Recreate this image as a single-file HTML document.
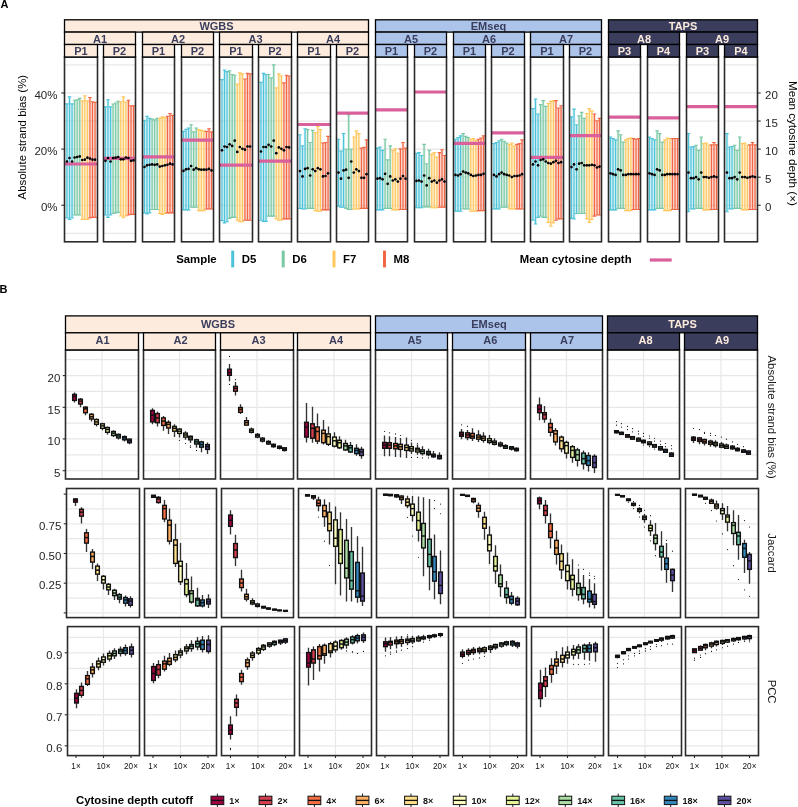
<!DOCTYPE html>
<html><head><meta charset="utf-8"><title>Strand bias figure</title>
<style>html,body{margin:0;padding:0;background:#fff;} svg{display:block;} text{font-family:"Liberation Sans",Arial,sans-serif;}</style>
</head><body>
<svg width="798" height="807" viewBox="0 0 798 807">
<rect width="798" height="807" fill="#fff"/>
<text x="0.6" y="7.7" font-size="11" font-weight="bold" fill="#000">A</text>
<rect x="64.5" y="57" width="33" height="184.8" fill="#fff"/>
<line x1="64.5" x2="97.5" y1="64.9" y2="64.9" stroke="#E8E8E8" stroke-width="1.25"/>
<line x1="64.5" x2="97.5" y1="92.97" y2="92.97" stroke="#E8E8E8" stroke-width="1.25"/>
<line x1="64.5" x2="97.5" y1="121.04" y2="121.04" stroke="#E8E8E8" stroke-width="1.25"/>
<line x1="64.5" x2="97.5" y1="149.1" y2="149.1" stroke="#E8E8E8" stroke-width="1.25"/>
<line x1="64.5" x2="97.5" y1="177.2" y2="177.2" stroke="#E8E8E8" stroke-width="1.25"/>
<line x1="64.5" x2="97.5" y1="205.25" y2="205.25" stroke="#E8E8E8" stroke-width="1.25"/>
<line x1="64.5" x2="97.5" y1="233.3" y2="233.3" stroke="#E8E8E8" stroke-width="1.25"/>
<rect x="103.5" y="57" width="32" height="184.8" fill="#fff"/>
<line x1="103.5" x2="135.5" y1="64.9" y2="64.9" stroke="#E8E8E8" stroke-width="1.25"/>
<line x1="103.5" x2="135.5" y1="92.97" y2="92.97" stroke="#E8E8E8" stroke-width="1.25"/>
<line x1="103.5" x2="135.5" y1="121.04" y2="121.04" stroke="#E8E8E8" stroke-width="1.25"/>
<line x1="103.5" x2="135.5" y1="149.1" y2="149.1" stroke="#E8E8E8" stroke-width="1.25"/>
<line x1="103.5" x2="135.5" y1="177.2" y2="177.2" stroke="#E8E8E8" stroke-width="1.25"/>
<line x1="103.5" x2="135.5" y1="205.25" y2="205.25" stroke="#E8E8E8" stroke-width="1.25"/>
<line x1="103.5" x2="135.5" y1="233.3" y2="233.3" stroke="#E8E8E8" stroke-width="1.25"/>
<rect x="142.5" y="57" width="32" height="184.8" fill="#fff"/>
<line x1="142.5" x2="174.5" y1="64.9" y2="64.9" stroke="#E8E8E8" stroke-width="1.25"/>
<line x1="142.5" x2="174.5" y1="92.97" y2="92.97" stroke="#E8E8E8" stroke-width="1.25"/>
<line x1="142.5" x2="174.5" y1="121.04" y2="121.04" stroke="#E8E8E8" stroke-width="1.25"/>
<line x1="142.5" x2="174.5" y1="149.1" y2="149.1" stroke="#E8E8E8" stroke-width="1.25"/>
<line x1="142.5" x2="174.5" y1="177.2" y2="177.2" stroke="#E8E8E8" stroke-width="1.25"/>
<line x1="142.5" x2="174.5" y1="205.25" y2="205.25" stroke="#E8E8E8" stroke-width="1.25"/>
<line x1="142.5" x2="174.5" y1="233.3" y2="233.3" stroke="#E8E8E8" stroke-width="1.25"/>
<rect x="181.5" y="57" width="32" height="184.8" fill="#fff"/>
<line x1="181.5" x2="213.5" y1="64.9" y2="64.9" stroke="#E8E8E8" stroke-width="1.25"/>
<line x1="181.5" x2="213.5" y1="92.97" y2="92.97" stroke="#E8E8E8" stroke-width="1.25"/>
<line x1="181.5" x2="213.5" y1="121.04" y2="121.04" stroke="#E8E8E8" stroke-width="1.25"/>
<line x1="181.5" x2="213.5" y1="149.1" y2="149.1" stroke="#E8E8E8" stroke-width="1.25"/>
<line x1="181.5" x2="213.5" y1="177.2" y2="177.2" stroke="#E8E8E8" stroke-width="1.25"/>
<line x1="181.5" x2="213.5" y1="205.25" y2="205.25" stroke="#E8E8E8" stroke-width="1.25"/>
<line x1="181.5" x2="213.5" y1="233.3" y2="233.3" stroke="#E8E8E8" stroke-width="1.25"/>
<rect x="219.5" y="57" width="33" height="184.8" fill="#fff"/>
<line x1="219.5" x2="252.5" y1="64.9" y2="64.9" stroke="#E8E8E8" stroke-width="1.25"/>
<line x1="219.5" x2="252.5" y1="92.97" y2="92.97" stroke="#E8E8E8" stroke-width="1.25"/>
<line x1="219.5" x2="252.5" y1="121.04" y2="121.04" stroke="#E8E8E8" stroke-width="1.25"/>
<line x1="219.5" x2="252.5" y1="149.1" y2="149.1" stroke="#E8E8E8" stroke-width="1.25"/>
<line x1="219.5" x2="252.5" y1="177.2" y2="177.2" stroke="#E8E8E8" stroke-width="1.25"/>
<line x1="219.5" x2="252.5" y1="205.25" y2="205.25" stroke="#E8E8E8" stroke-width="1.25"/>
<line x1="219.5" x2="252.5" y1="233.3" y2="233.3" stroke="#E8E8E8" stroke-width="1.25"/>
<rect x="258.5" y="57" width="33" height="184.8" fill="#fff"/>
<line x1="258.5" x2="291.5" y1="64.9" y2="64.9" stroke="#E8E8E8" stroke-width="1.25"/>
<line x1="258.5" x2="291.5" y1="92.97" y2="92.97" stroke="#E8E8E8" stroke-width="1.25"/>
<line x1="258.5" x2="291.5" y1="121.04" y2="121.04" stroke="#E8E8E8" stroke-width="1.25"/>
<line x1="258.5" x2="291.5" y1="149.1" y2="149.1" stroke="#E8E8E8" stroke-width="1.25"/>
<line x1="258.5" x2="291.5" y1="177.2" y2="177.2" stroke="#E8E8E8" stroke-width="1.25"/>
<line x1="258.5" x2="291.5" y1="205.25" y2="205.25" stroke="#E8E8E8" stroke-width="1.25"/>
<line x1="258.5" x2="291.5" y1="233.3" y2="233.3" stroke="#E8E8E8" stroke-width="1.25"/>
<rect x="297.5" y="57" width="33" height="184.8" fill="#fff"/>
<line x1="297.5" x2="330.5" y1="64.9" y2="64.9" stroke="#E8E8E8" stroke-width="1.25"/>
<line x1="297.5" x2="330.5" y1="92.97" y2="92.97" stroke="#E8E8E8" stroke-width="1.25"/>
<line x1="297.5" x2="330.5" y1="121.04" y2="121.04" stroke="#E8E8E8" stroke-width="1.25"/>
<line x1="297.5" x2="330.5" y1="149.1" y2="149.1" stroke="#E8E8E8" stroke-width="1.25"/>
<line x1="297.5" x2="330.5" y1="177.2" y2="177.2" stroke="#E8E8E8" stroke-width="1.25"/>
<line x1="297.5" x2="330.5" y1="205.25" y2="205.25" stroke="#E8E8E8" stroke-width="1.25"/>
<line x1="297.5" x2="330.5" y1="233.3" y2="233.3" stroke="#E8E8E8" stroke-width="1.25"/>
<rect x="336.5" y="57" width="32" height="184.8" fill="#fff"/>
<line x1="336.5" x2="368.5" y1="64.9" y2="64.9" stroke="#E8E8E8" stroke-width="1.25"/>
<line x1="336.5" x2="368.5" y1="92.97" y2="92.97" stroke="#E8E8E8" stroke-width="1.25"/>
<line x1="336.5" x2="368.5" y1="121.04" y2="121.04" stroke="#E8E8E8" stroke-width="1.25"/>
<line x1="336.5" x2="368.5" y1="149.1" y2="149.1" stroke="#E8E8E8" stroke-width="1.25"/>
<line x1="336.5" x2="368.5" y1="177.2" y2="177.2" stroke="#E8E8E8" stroke-width="1.25"/>
<line x1="336.5" x2="368.5" y1="205.25" y2="205.25" stroke="#E8E8E8" stroke-width="1.25"/>
<line x1="336.5" x2="368.5" y1="233.3" y2="233.3" stroke="#E8E8E8" stroke-width="1.25"/>
<rect x="375.5" y="57" width="32" height="184.8" fill="#fff"/>
<line x1="375.5" x2="407.5" y1="64.9" y2="64.9" stroke="#E8E8E8" stroke-width="1.25"/>
<line x1="375.5" x2="407.5" y1="92.97" y2="92.97" stroke="#E8E8E8" stroke-width="1.25"/>
<line x1="375.5" x2="407.5" y1="121.04" y2="121.04" stroke="#E8E8E8" stroke-width="1.25"/>
<line x1="375.5" x2="407.5" y1="149.1" y2="149.1" stroke="#E8E8E8" stroke-width="1.25"/>
<line x1="375.5" x2="407.5" y1="177.2" y2="177.2" stroke="#E8E8E8" stroke-width="1.25"/>
<line x1="375.5" x2="407.5" y1="205.25" y2="205.25" stroke="#E8E8E8" stroke-width="1.25"/>
<line x1="375.5" x2="407.5" y1="233.3" y2="233.3" stroke="#E8E8E8" stroke-width="1.25"/>
<rect x="414.5" y="57" width="32" height="184.8" fill="#fff"/>
<line x1="414.5" x2="446.5" y1="64.9" y2="64.9" stroke="#E8E8E8" stroke-width="1.25"/>
<line x1="414.5" x2="446.5" y1="92.97" y2="92.97" stroke="#E8E8E8" stroke-width="1.25"/>
<line x1="414.5" x2="446.5" y1="121.04" y2="121.04" stroke="#E8E8E8" stroke-width="1.25"/>
<line x1="414.5" x2="446.5" y1="149.1" y2="149.1" stroke="#E8E8E8" stroke-width="1.25"/>
<line x1="414.5" x2="446.5" y1="177.2" y2="177.2" stroke="#E8E8E8" stroke-width="1.25"/>
<line x1="414.5" x2="446.5" y1="205.25" y2="205.25" stroke="#E8E8E8" stroke-width="1.25"/>
<line x1="414.5" x2="446.5" y1="233.3" y2="233.3" stroke="#E8E8E8" stroke-width="1.25"/>
<rect x="453.5" y="57" width="32" height="184.8" fill="#fff"/>
<line x1="453.5" x2="485.5" y1="64.9" y2="64.9" stroke="#E8E8E8" stroke-width="1.25"/>
<line x1="453.5" x2="485.5" y1="92.97" y2="92.97" stroke="#E8E8E8" stroke-width="1.25"/>
<line x1="453.5" x2="485.5" y1="121.04" y2="121.04" stroke="#E8E8E8" stroke-width="1.25"/>
<line x1="453.5" x2="485.5" y1="149.1" y2="149.1" stroke="#E8E8E8" stroke-width="1.25"/>
<line x1="453.5" x2="485.5" y1="177.2" y2="177.2" stroke="#E8E8E8" stroke-width="1.25"/>
<line x1="453.5" x2="485.5" y1="205.25" y2="205.25" stroke="#E8E8E8" stroke-width="1.25"/>
<line x1="453.5" x2="485.5" y1="233.3" y2="233.3" stroke="#E8E8E8" stroke-width="1.25"/>
<rect x="491.5" y="57" width="33" height="184.8" fill="#fff"/>
<line x1="491.5" x2="524.5" y1="64.9" y2="64.9" stroke="#E8E8E8" stroke-width="1.25"/>
<line x1="491.5" x2="524.5" y1="92.97" y2="92.97" stroke="#E8E8E8" stroke-width="1.25"/>
<line x1="491.5" x2="524.5" y1="121.04" y2="121.04" stroke="#E8E8E8" stroke-width="1.25"/>
<line x1="491.5" x2="524.5" y1="149.1" y2="149.1" stroke="#E8E8E8" stroke-width="1.25"/>
<line x1="491.5" x2="524.5" y1="177.2" y2="177.2" stroke="#E8E8E8" stroke-width="1.25"/>
<line x1="491.5" x2="524.5" y1="205.25" y2="205.25" stroke="#E8E8E8" stroke-width="1.25"/>
<line x1="491.5" x2="524.5" y1="233.3" y2="233.3" stroke="#E8E8E8" stroke-width="1.25"/>
<rect x="530.5" y="57" width="33" height="184.8" fill="#fff"/>
<line x1="530.5" x2="563.5" y1="64.9" y2="64.9" stroke="#E8E8E8" stroke-width="1.25"/>
<line x1="530.5" x2="563.5" y1="92.97" y2="92.97" stroke="#E8E8E8" stroke-width="1.25"/>
<line x1="530.5" x2="563.5" y1="121.04" y2="121.04" stroke="#E8E8E8" stroke-width="1.25"/>
<line x1="530.5" x2="563.5" y1="149.1" y2="149.1" stroke="#E8E8E8" stroke-width="1.25"/>
<line x1="530.5" x2="563.5" y1="177.2" y2="177.2" stroke="#E8E8E8" stroke-width="1.25"/>
<line x1="530.5" x2="563.5" y1="205.25" y2="205.25" stroke="#E8E8E8" stroke-width="1.25"/>
<line x1="530.5" x2="563.5" y1="233.3" y2="233.3" stroke="#E8E8E8" stroke-width="1.25"/>
<rect x="569.5" y="57" width="32" height="184.8" fill="#fff"/>
<line x1="569.5" x2="601.5" y1="64.9" y2="64.9" stroke="#E8E8E8" stroke-width="1.25"/>
<line x1="569.5" x2="601.5" y1="92.97" y2="92.97" stroke="#E8E8E8" stroke-width="1.25"/>
<line x1="569.5" x2="601.5" y1="121.04" y2="121.04" stroke="#E8E8E8" stroke-width="1.25"/>
<line x1="569.5" x2="601.5" y1="149.1" y2="149.1" stroke="#E8E8E8" stroke-width="1.25"/>
<line x1="569.5" x2="601.5" y1="177.2" y2="177.2" stroke="#E8E8E8" stroke-width="1.25"/>
<line x1="569.5" x2="601.5" y1="205.25" y2="205.25" stroke="#E8E8E8" stroke-width="1.25"/>
<line x1="569.5" x2="601.5" y1="233.3" y2="233.3" stroke="#E8E8E8" stroke-width="1.25"/>
<rect x="608.5" y="57" width="32" height="184.8" fill="#fff"/>
<line x1="608.5" x2="640.5" y1="64.9" y2="64.9" stroke="#E8E8E8" stroke-width="1.25"/>
<line x1="608.5" x2="640.5" y1="92.97" y2="92.97" stroke="#E8E8E8" stroke-width="1.25"/>
<line x1="608.5" x2="640.5" y1="121.04" y2="121.04" stroke="#E8E8E8" stroke-width="1.25"/>
<line x1="608.5" x2="640.5" y1="149.1" y2="149.1" stroke="#E8E8E8" stroke-width="1.25"/>
<line x1="608.5" x2="640.5" y1="177.2" y2="177.2" stroke="#E8E8E8" stroke-width="1.25"/>
<line x1="608.5" x2="640.5" y1="205.25" y2="205.25" stroke="#E8E8E8" stroke-width="1.25"/>
<line x1="608.5" x2="640.5" y1="233.3" y2="233.3" stroke="#E8E8E8" stroke-width="1.25"/>
<rect x="647.5" y="57" width="32" height="184.8" fill="#fff"/>
<line x1="647.5" x2="679.5" y1="64.9" y2="64.9" stroke="#E8E8E8" stroke-width="1.25"/>
<line x1="647.5" x2="679.5" y1="92.97" y2="92.97" stroke="#E8E8E8" stroke-width="1.25"/>
<line x1="647.5" x2="679.5" y1="121.04" y2="121.04" stroke="#E8E8E8" stroke-width="1.25"/>
<line x1="647.5" x2="679.5" y1="149.1" y2="149.1" stroke="#E8E8E8" stroke-width="1.25"/>
<line x1="647.5" x2="679.5" y1="177.2" y2="177.2" stroke="#E8E8E8" stroke-width="1.25"/>
<line x1="647.5" x2="679.5" y1="205.25" y2="205.25" stroke="#E8E8E8" stroke-width="1.25"/>
<line x1="647.5" x2="679.5" y1="233.3" y2="233.3" stroke="#E8E8E8" stroke-width="1.25"/>
<rect x="686.5" y="57" width="32" height="184.8" fill="#fff"/>
<line x1="686.5" x2="718.5" y1="64.9" y2="64.9" stroke="#E8E8E8" stroke-width="1.25"/>
<line x1="686.5" x2="718.5" y1="92.97" y2="92.97" stroke="#E8E8E8" stroke-width="1.25"/>
<line x1="686.5" x2="718.5" y1="121.04" y2="121.04" stroke="#E8E8E8" stroke-width="1.25"/>
<line x1="686.5" x2="718.5" y1="149.1" y2="149.1" stroke="#E8E8E8" stroke-width="1.25"/>
<line x1="686.5" x2="718.5" y1="177.2" y2="177.2" stroke="#E8E8E8" stroke-width="1.25"/>
<line x1="686.5" x2="718.5" y1="205.25" y2="205.25" stroke="#E8E8E8" stroke-width="1.25"/>
<line x1="686.5" x2="718.5" y1="233.3" y2="233.3" stroke="#E8E8E8" stroke-width="1.25"/>
<rect x="724.5" y="57" width="33" height="184.8" fill="#fff"/>
<line x1="724.5" x2="757.5" y1="64.9" y2="64.9" stroke="#E8E8E8" stroke-width="1.25"/>
<line x1="724.5" x2="757.5" y1="92.97" y2="92.97" stroke="#E8E8E8" stroke-width="1.25"/>
<line x1="724.5" x2="757.5" y1="121.04" y2="121.04" stroke="#E8E8E8" stroke-width="1.25"/>
<line x1="724.5" x2="757.5" y1="149.1" y2="149.1" stroke="#E8E8E8" stroke-width="1.25"/>
<line x1="724.5" x2="757.5" y1="177.2" y2="177.2" stroke="#E8E8E8" stroke-width="1.25"/>
<line x1="724.5" x2="757.5" y1="205.25" y2="205.25" stroke="#E8E8E8" stroke-width="1.25"/>
<line x1="724.5" x2="757.5" y1="233.3" y2="233.3" stroke="#E8E8E8" stroke-width="1.25"/>
<rect x="65.7" y="103.9" width="2.5" height="114.1" fill="#4CC3D9" fill-opacity="0.3"/>
<rect x="68.25" y="96.8" width="2.5" height="122.7" fill="#4CC3D9" fill-opacity="0.3"/>
<rect x="70.81" y="103.9" width="2.5" height="114.1" fill="#4CC3D9" fill-opacity="0.3"/>
<rect x="73.36" y="100.2" width="2.5" height="114.8" fill="#7BC8A4" fill-opacity="0.3"/>
<rect x="75.92" y="99.7" width="2.5" height="115.3" fill="#7BC8A4" fill-opacity="0.3"/>
<rect x="78.47" y="98.4" width="2.5" height="116.6" fill="#7BC8A4" fill-opacity="0.3"/>
<rect x="81.03" y="100.8" width="2.5" height="118.7" fill="#FFC65D" fill-opacity="0.3"/>
<rect x="83.58" y="95.7" width="2.5" height="123.8" fill="#FFC65D" fill-opacity="0.3"/>
<rect x="86.14" y="100.8" width="2.5" height="118.7" fill="#FFC65D" fill-opacity="0.3"/>
<rect x="88.69" y="97.5" width="2.5" height="120.5" fill="#F16745" fill-opacity="0.3"/>
<rect x="91.25" y="101.7" width="2.5" height="115.6" fill="#F16745" fill-opacity="0.3"/>
<rect x="93.8" y="102.4" width="2.5" height="114.9" fill="#F16745" fill-opacity="0.3"/>
<path d="M66.95 103.9V218M65.15 103.9H68.75M65.15 218H68.75" stroke="#4CC3D9" stroke-width="1.15" fill="none"/>
<path d="M69.5 96.8V219.5M67.7 96.8H71.3M67.7 219.5H71.3" stroke="#4CC3D9" stroke-width="1.15" fill="none"/>
<path d="M72.06 103.9V218M70.26 103.9H73.86M70.26 218H73.86" stroke="#4CC3D9" stroke-width="1.15" fill="none"/>
<path d="M74.61 100.2V215M72.81 100.2H76.41M72.81 215H76.41" stroke="#7BC8A4" stroke-width="1.15" fill="none"/>
<path d="M77.17 99.7V215M75.37 99.7H78.97M75.37 215H78.97" stroke="#7BC8A4" stroke-width="1.15" fill="none"/>
<path d="M79.72 98.4V215M77.92 98.4H81.52M77.92 215H81.52" stroke="#7BC8A4" stroke-width="1.15" fill="none"/>
<path d="M82.28 100.8V219.5M80.48 100.8H84.08M80.48 219.5H84.08" stroke="#FFC65D" stroke-width="1.15" fill="none"/>
<path d="M84.83 95.7V219.5M83.03 95.7H86.63M83.03 219.5H86.63" stroke="#FFC65D" stroke-width="1.15" fill="none"/>
<path d="M87.39 100.8V219.5M85.59 100.8H89.19M85.59 219.5H89.19" stroke="#FFC65D" stroke-width="1.15" fill="none"/>
<path d="M89.94 97.5V218M88.14 97.5H91.74M88.14 218H91.74" stroke="#F16745" stroke-width="1.15" fill="none"/>
<path d="M92.5 101.7V217.3M90.7 101.7H94.3M90.7 217.3H94.3" stroke="#F16745" stroke-width="1.15" fill="none"/>
<path d="M95.05 102.4V217.3M93.25 102.4H96.85M93.25 217.3H96.85" stroke="#F16745" stroke-width="1.15" fill="none"/>
<line x1="64.5" x2="97.5" y1="164" y2="164" stroke="#D9609B" stroke-width="3.2"/>
<circle cx="66.95" cy="161.5" r="1.35" fill="#000"/>
<circle cx="69.5" cy="158" r="1.35" fill="#000"/>
<circle cx="72.06" cy="161.5" r="1.35" fill="#000"/>
<circle cx="74.61" cy="157.5" r="1.35" fill="#000"/>
<circle cx="77.17" cy="157" r="1.35" fill="#000"/>
<circle cx="79.72" cy="156.4" r="1.35" fill="#000"/>
<circle cx="82.28" cy="160" r="1.35" fill="#000"/>
<circle cx="84.83" cy="159.7" r="1.35" fill="#000"/>
<circle cx="87.39" cy="157.7" r="1.35" fill="#000"/>
<circle cx="89.94" cy="158.6" r="1.35" fill="#000"/>
<circle cx="92.5" cy="159.7" r="1.35" fill="#000"/>
<circle cx="95.05" cy="159.7" r="1.35" fill="#000"/>
<rect x="64.5" y="57" width="33" height="184.8" fill="none" stroke="#2B2B2B" stroke-width="1.6"/>
<rect x="104.2" y="106.8" width="2.5" height="108.2" fill="#4CC3D9" fill-opacity="0.3"/>
<rect x="106.75" y="99.7" width="2.5" height="117.6" fill="#4CC3D9" fill-opacity="0.3"/>
<rect x="109.31" y="106.8" width="2.5" height="108.2" fill="#4CC3D9" fill-opacity="0.3"/>
<rect x="111.86" y="104" width="2.5" height="109.5" fill="#7BC8A4" fill-opacity="0.3"/>
<rect x="114.42" y="103" width="2.5" height="109.8" fill="#7BC8A4" fill-opacity="0.3"/>
<rect x="116.97" y="101.3" width="2.5" height="111.1" fill="#7BC8A4" fill-opacity="0.3"/>
<rect x="119.53" y="101.7" width="2.5" height="114.3" fill="#FFC65D" fill-opacity="0.3"/>
<rect x="122.08" y="96.8" width="2.5" height="120.9" fill="#FFC65D" fill-opacity="0.3"/>
<rect x="124.64" y="102" width="2.5" height="114" fill="#FFC65D" fill-opacity="0.3"/>
<rect x="127.19" y="100.2" width="2.5" height="114.8" fill="#F16745" fill-opacity="0.3"/>
<rect x="129.75" y="105.7" width="2.5" height="108.7" fill="#F16745" fill-opacity="0.3"/>
<rect x="132.3" y="105.7" width="2.5" height="108.7" fill="#F16745" fill-opacity="0.3"/>
<path d="M105.45 106.8V215M103.65 106.8H107.25M103.65 215H107.25" stroke="#4CC3D9" stroke-width="1.15" fill="none"/>
<path d="M108 99.7V217.3M106.2 99.7H109.8M106.2 217.3H109.8" stroke="#4CC3D9" stroke-width="1.15" fill="none"/>
<path d="M110.56 106.8V215M108.76 106.8H112.36M108.76 215H112.36" stroke="#4CC3D9" stroke-width="1.15" fill="none"/>
<path d="M113.11 104V213.5M111.31 104H114.91M111.31 213.5H114.91" stroke="#7BC8A4" stroke-width="1.15" fill="none"/>
<path d="M115.67 103V212.8M113.87 103H117.47M113.87 212.8H117.47" stroke="#7BC8A4" stroke-width="1.15" fill="none"/>
<path d="M118.22 101.3V212.4M116.42 101.3H120.02M116.42 212.4H120.02" stroke="#7BC8A4" stroke-width="1.15" fill="none"/>
<path d="M120.78 101.7V216M118.98 101.7H122.58M118.98 216H122.58" stroke="#FFC65D" stroke-width="1.15" fill="none"/>
<path d="M123.33 96.8V217.7M121.53 96.8H125.13M121.53 217.7H125.13" stroke="#FFC65D" stroke-width="1.15" fill="none"/>
<path d="M125.89 102V216M124.09 102H127.69M124.09 216H127.69" stroke="#FFC65D" stroke-width="1.15" fill="none"/>
<path d="M128.44 100.2V215M126.64 100.2H130.24M126.64 215H130.24" stroke="#F16745" stroke-width="1.15" fill="none"/>
<path d="M131 105.7V214.4M129.2 105.7H132.8M129.2 214.4H132.8" stroke="#F16745" stroke-width="1.15" fill="none"/>
<path d="M133.55 105.7V214.4M131.75 105.7H135.35M131.75 214.4H135.35" stroke="#F16745" stroke-width="1.15" fill="none"/>
<line x1="103.5" x2="135.5" y1="158.3" y2="158.3" stroke="#D9609B" stroke-width="3.2"/>
<circle cx="105.45" cy="160.8" r="1.35" fill="#000"/>
<circle cx="108" cy="158" r="1.35" fill="#000"/>
<circle cx="110.56" cy="161.5" r="1.35" fill="#000"/>
<circle cx="113.11" cy="158" r="1.35" fill="#000"/>
<circle cx="115.67" cy="157.7" r="1.35" fill="#000"/>
<circle cx="118.22" cy="157" r="1.35" fill="#000"/>
<circle cx="120.78" cy="159.3" r="1.35" fill="#000"/>
<circle cx="123.33" cy="159.3" r="1.35" fill="#000"/>
<circle cx="125.89" cy="157.5" r="1.35" fill="#000"/>
<circle cx="128.44" cy="158" r="1.35" fill="#000"/>
<circle cx="131" cy="160.8" r="1.35" fill="#000"/>
<circle cx="133.55" cy="160.4" r="1.35" fill="#000"/>
<rect x="103.5" y="57" width="32" height="184.8" fill="none" stroke="#2B2B2B" stroke-width="1.6"/>
<rect x="143.2" y="120.2" width="2.5" height="92.6" fill="#4CC3D9" fill-opacity="0.3"/>
<rect x="145.75" y="116.2" width="2.5" height="97.7" fill="#4CC3D9" fill-opacity="0.3"/>
<rect x="148.31" y="118.4" width="2.5" height="94.4" fill="#4CC3D9" fill-opacity="0.3"/>
<rect x="150.86" y="119.1" width="2.5" height="90.4" fill="#7BC8A4" fill-opacity="0.3"/>
<rect x="153.42" y="119.8" width="2.5" height="89.7" fill="#7BC8A4" fill-opacity="0.3"/>
<rect x="155.97" y="118.4" width="2.5" height="91.1" fill="#7BC8A4" fill-opacity="0.3"/>
<rect x="158.53" y="118.4" width="2.5" height="95.1" fill="#FFC65D" fill-opacity="0.3"/>
<rect x="161.08" y="116.9" width="2.5" height="97.5" fill="#FFC65D" fill-opacity="0.3"/>
<rect x="163.64" y="117.6" width="2.5" height="95.9" fill="#FFC65D" fill-opacity="0.3"/>
<rect x="166.19" y="116.2" width="2.5" height="96.6" fill="#F16745" fill-opacity="0.3"/>
<rect x="168.75" y="113.5" width="2.5" height="99.3" fill="#F16745" fill-opacity="0.3"/>
<rect x="171.3" y="115.3" width="2.5" height="97.5" fill="#F16745" fill-opacity="0.3"/>
<path d="M144.45 120.2V212.8M142.65 120.2H146.25M142.65 212.8H146.25" stroke="#4CC3D9" stroke-width="1.15" fill="none"/>
<path d="M147 116.2V213.9M145.2 116.2H148.8M145.2 213.9H148.8" stroke="#4CC3D9" stroke-width="1.15" fill="none"/>
<path d="M149.56 118.4V212.8M147.76 118.4H151.36M147.76 212.8H151.36" stroke="#4CC3D9" stroke-width="1.15" fill="none"/>
<path d="M152.11 119.1V209.5M150.31 119.1H153.91M150.31 209.5H153.91" stroke="#7BC8A4" stroke-width="1.15" fill="none"/>
<path d="M154.67 119.8V209.5M152.87 119.8H156.47M152.87 209.5H156.47" stroke="#7BC8A4" stroke-width="1.15" fill="none"/>
<path d="M157.22 118.4V209.5M155.42 118.4H159.02M155.42 209.5H159.02" stroke="#7BC8A4" stroke-width="1.15" fill="none"/>
<path d="M159.78 118.4V213.5M157.98 118.4H161.58M157.98 213.5H161.58" stroke="#FFC65D" stroke-width="1.15" fill="none"/>
<path d="M162.33 116.9V214.4M160.53 116.9H164.13M160.53 214.4H164.13" stroke="#FFC65D" stroke-width="1.15" fill="none"/>
<path d="M164.89 117.6V213.5M163.09 117.6H166.69M163.09 213.5H166.69" stroke="#FFC65D" stroke-width="1.15" fill="none"/>
<path d="M167.44 116.2V212.8M165.64 116.2H169.24M165.64 212.8H169.24" stroke="#F16745" stroke-width="1.15" fill="none"/>
<path d="M170 113.5V212.8M168.2 113.5H171.8M168.2 212.8H171.8" stroke="#F16745" stroke-width="1.15" fill="none"/>
<path d="M172.55 115.3V212.8M170.75 115.3H174.35M170.75 212.8H174.35" stroke="#F16745" stroke-width="1.15" fill="none"/>
<line x1="142.5" x2="174.5" y1="156.9" y2="156.9" stroke="#D9609B" stroke-width="3.2"/>
<circle cx="144.45" cy="167" r="1.35" fill="#000"/>
<circle cx="147" cy="165.3" r="1.35" fill="#000"/>
<circle cx="149.56" cy="164.8" r="1.35" fill="#000"/>
<circle cx="152.11" cy="164.4" r="1.35" fill="#000"/>
<circle cx="154.67" cy="164.8" r="1.35" fill="#000"/>
<circle cx="157.22" cy="164.4" r="1.35" fill="#000"/>
<circle cx="159.78" cy="166.6" r="1.35" fill="#000"/>
<circle cx="162.33" cy="166" r="1.35" fill="#000"/>
<circle cx="164.89" cy="165.3" r="1.35" fill="#000"/>
<circle cx="167.44" cy="164.8" r="1.35" fill="#000"/>
<circle cx="170" cy="163.7" r="1.35" fill="#000"/>
<circle cx="172.55" cy="164.4" r="1.35" fill="#000"/>
<rect x="142.5" y="57" width="32" height="184.8" fill="none" stroke="#2B2B2B" stroke-width="1.6"/>
<rect x="182.2" y="131.4" width="2.5" height="78.5" fill="#4CC3D9" fill-opacity="0.3"/>
<rect x="184.75" y="129.2" width="2.5" height="80.7" fill="#4CC3D9" fill-opacity="0.3"/>
<rect x="187.31" y="128" width="2.5" height="81.9" fill="#4CC3D9" fill-opacity="0.3"/>
<rect x="189.86" y="124.7" width="2.5" height="82.5" fill="#7BC8A4" fill-opacity="0.3"/>
<rect x="192.42" y="131.8" width="2.5" height="75.4" fill="#7BC8A4" fill-opacity="0.3"/>
<rect x="194.97" y="128" width="2.5" height="79.2" fill="#7BC8A4" fill-opacity="0.3"/>
<rect x="197.53" y="129.6" width="2.5" height="81" fill="#FFC65D" fill-opacity="0.3"/>
<rect x="200.08" y="130.3" width="2.5" height="80.3" fill="#FFC65D" fill-opacity="0.3"/>
<rect x="202.64" y="131" width="2.5" height="79.6" fill="#FFC65D" fill-opacity="0.3"/>
<rect x="205.19" y="131.4" width="2.5" height="77.6" fill="#F16745" fill-opacity="0.3"/>
<rect x="207.75" y="128.7" width="2.5" height="80.3" fill="#F16745" fill-opacity="0.3"/>
<rect x="210.3" y="131.8" width="2.5" height="77.2" fill="#F16745" fill-opacity="0.3"/>
<path d="M183.45 131.4V209.9M181.65 131.4H185.25M181.65 209.9H185.25" stroke="#4CC3D9" stroke-width="1.15" fill="none"/>
<path d="M186 129.2V209.9M184.2 129.2H187.8M184.2 209.9H187.8" stroke="#4CC3D9" stroke-width="1.15" fill="none"/>
<path d="M188.56 128V209.9M186.76 128H190.36M186.76 209.9H190.36" stroke="#4CC3D9" stroke-width="1.15" fill="none"/>
<path d="M191.11 124.7V207.2M189.31 124.7H192.91M189.31 207.2H192.91" stroke="#7BC8A4" stroke-width="1.15" fill="none"/>
<path d="M193.67 131.8V207.2M191.87 131.8H195.47M191.87 207.2H195.47" stroke="#7BC8A4" stroke-width="1.15" fill="none"/>
<path d="M196.22 128V207.2M194.42 128H198.02M194.42 207.2H198.02" stroke="#7BC8A4" stroke-width="1.15" fill="none"/>
<path d="M198.78 129.6V210.6M196.98 129.6H200.58M196.98 210.6H200.58" stroke="#FFC65D" stroke-width="1.15" fill="none"/>
<path d="M201.33 130.3V210.6M199.53 130.3H203.13M199.53 210.6H203.13" stroke="#FFC65D" stroke-width="1.15" fill="none"/>
<path d="M203.89 131V210.6M202.09 131H205.69M202.09 210.6H205.69" stroke="#FFC65D" stroke-width="1.15" fill="none"/>
<path d="M206.44 131.4V209M204.64 131.4H208.24M204.64 209H208.24" stroke="#F16745" stroke-width="1.15" fill="none"/>
<path d="M209 128.7V209M207.2 128.7H210.8M207.2 209H210.8" stroke="#F16745" stroke-width="1.15" fill="none"/>
<path d="M211.55 131.8V209M209.75 131.8H213.35M209.75 209H213.35" stroke="#F16745" stroke-width="1.15" fill="none"/>
<line x1="181.5" x2="213.5" y1="140.2" y2="140.2" stroke="#D9609B" stroke-width="3.2"/>
<circle cx="183.45" cy="170.9" r="1.35" fill="#000"/>
<circle cx="186" cy="169.3" r="1.35" fill="#000"/>
<circle cx="188.56" cy="168.9" r="1.35" fill="#000"/>
<circle cx="191.11" cy="166" r="1.35" fill="#000"/>
<circle cx="193.67" cy="169.7" r="1.35" fill="#000"/>
<circle cx="196.22" cy="168.2" r="1.35" fill="#000"/>
<circle cx="198.78" cy="169.3" r="1.35" fill="#000"/>
<circle cx="201.33" cy="169.7" r="1.35" fill="#000"/>
<circle cx="203.89" cy="169.7" r="1.35" fill="#000"/>
<circle cx="206.44" cy="169.7" r="1.35" fill="#000"/>
<circle cx="209" cy="168.9" r="1.35" fill="#000"/>
<circle cx="211.55" cy="170.4" r="1.35" fill="#000"/>
<rect x="181.5" y="57" width="32" height="184.8" fill="none" stroke="#2B2B2B" stroke-width="1.6"/>
<rect x="220.7" y="79.6" width="2.5" height="141" fill="#4CC3D9" fill-opacity="0.3"/>
<rect x="223.25" y="70" width="2.5" height="152.8" fill="#4CC3D9" fill-opacity="0.3"/>
<rect x="225.81" y="71.6" width="2.5" height="150.1" fill="#4CC3D9" fill-opacity="0.3"/>
<rect x="228.36" y="70.7" width="2.5" height="147.7" fill="#7BC8A4" fill-opacity="0.3"/>
<rect x="230.92" y="74.5" width="2.5" height="142.8" fill="#7BC8A4" fill-opacity="0.3"/>
<rect x="233.47" y="75.2" width="2.5" height="142.1" fill="#7BC8A4" fill-opacity="0.3"/>
<rect x="236.03" y="84.1" width="2.5" height="136.1" fill="#FFC65D" fill-opacity="0.3"/>
<rect x="238.58" y="72.9" width="2.5" height="148.8" fill="#FFC65D" fill-opacity="0.3"/>
<rect x="241.14" y="73.8" width="2.5" height="147.9" fill="#FFC65D" fill-opacity="0.3"/>
<rect x="243.69" y="79" width="2.5" height="141.2" fill="#F16745" fill-opacity="0.3"/>
<rect x="246.25" y="73.4" width="2.5" height="146.8" fill="#F16745" fill-opacity="0.3"/>
<rect x="248.8" y="73.8" width="2.5" height="146.4" fill="#F16745" fill-opacity="0.3"/>
<path d="M221.95 79.6V220.6M220.15 79.6H223.75M220.15 220.6H223.75" stroke="#4CC3D9" stroke-width="1.15" fill="none"/>
<path d="M224.5 70V222.8M222.7 70H226.3M222.7 222.8H226.3" stroke="#4CC3D9" stroke-width="1.15" fill="none"/>
<path d="M227.06 71.6V221.7M225.26 71.6H228.86M225.26 221.7H228.86" stroke="#4CC3D9" stroke-width="1.15" fill="none"/>
<path d="M229.61 70.7V218.4M227.81 70.7H231.41M227.81 218.4H231.41" stroke="#7BC8A4" stroke-width="1.15" fill="none"/>
<path d="M232.17 74.5V217.3M230.37 74.5H233.97M230.37 217.3H233.97" stroke="#7BC8A4" stroke-width="1.15" fill="none"/>
<path d="M234.72 75.2V217.3M232.92 75.2H236.52M232.92 217.3H236.52" stroke="#7BC8A4" stroke-width="1.15" fill="none"/>
<path d="M237.28 84.1V220.2M235.48 84.1H239.08M235.48 220.2H239.08" stroke="#FFC65D" stroke-width="1.15" fill="none"/>
<path d="M239.83 72.9V221.7M238.03 72.9H241.63M238.03 221.7H241.63" stroke="#FFC65D" stroke-width="1.15" fill="none"/>
<path d="M242.39 73.8V221.7M240.59 73.8H244.19M240.59 221.7H244.19" stroke="#FFC65D" stroke-width="1.15" fill="none"/>
<path d="M244.94 79V220.2M243.14 79H246.74M243.14 220.2H246.74" stroke="#F16745" stroke-width="1.15" fill="none"/>
<path d="M247.5 73.4V220.2M245.7 73.4H249.3M245.7 220.2H249.3" stroke="#F16745" stroke-width="1.15" fill="none"/>
<path d="M250.05 73.8V220.2M248.25 73.8H251.85M248.25 220.2H251.85" stroke="#F16745" stroke-width="1.15" fill="none"/>
<line x1="219.5" x2="252.5" y1="165.1" y2="165.1" stroke="#D9609B" stroke-width="3.2"/>
<circle cx="221.95" cy="150.3" r="1.35" fill="#000"/>
<circle cx="224.5" cy="146.5" r="1.35" fill="#000"/>
<circle cx="227.06" cy="147" r="1.35" fill="#000"/>
<circle cx="229.61" cy="144.3" r="1.35" fill="#000"/>
<circle cx="232.17" cy="145.9" r="1.35" fill="#000"/>
<circle cx="234.72" cy="140.7" r="1.35" fill="#000"/>
<circle cx="237.28" cy="151.9" r="1.35" fill="#000"/>
<circle cx="239.83" cy="147" r="1.35" fill="#000"/>
<circle cx="242.39" cy="148.8" r="1.35" fill="#000"/>
<circle cx="244.94" cy="149.7" r="1.35" fill="#000"/>
<circle cx="247.5" cy="146.5" r="1.35" fill="#000"/>
<circle cx="250.05" cy="146.5" r="1.35" fill="#000"/>
<rect x="219.5" y="57" width="33" height="184.8" fill="none" stroke="#2B2B2B" stroke-width="1.6"/>
<rect x="259.7" y="82.3" width="2.5" height="137.9" fill="#4CC3D9" fill-opacity="0.3"/>
<rect x="262.25" y="73.4" width="2.5" height="147.9" fill="#4CC3D9" fill-opacity="0.3"/>
<rect x="264.81" y="74.5" width="2.5" height="146.8" fill="#4CC3D9" fill-opacity="0.3"/>
<rect x="267.36" y="74.5" width="2.5" height="141.6" fill="#7BC8A4" fill-opacity="0.3"/>
<rect x="269.92" y="77.8" width="2.5" height="138.3" fill="#7BC8A4" fill-opacity="0.3"/>
<rect x="272.47" y="64.9" width="2.5" height="151.2" fill="#7BC8A4" fill-opacity="0.3"/>
<rect x="275.03" y="87.9" width="2.5" height="130.9" fill="#FFC65D" fill-opacity="0.3"/>
<rect x="277.58" y="73.8" width="2.5" height="146.4" fill="#FFC65D" fill-opacity="0.3"/>
<rect x="280.14" y="76" width="2.5" height="144.2" fill="#FFC65D" fill-opacity="0.3"/>
<rect x="282.69" y="82.8" width="2.5" height="136" fill="#F16745" fill-opacity="0.3"/>
<rect x="285.25" y="75.2" width="2.5" height="143.6" fill="#F16745" fill-opacity="0.3"/>
<rect x="287.8" y="76" width="2.5" height="142.8" fill="#F16745" fill-opacity="0.3"/>
<path d="M260.95 82.3V220.2M259.15 82.3H262.75M259.15 220.2H262.75" stroke="#4CC3D9" stroke-width="1.15" fill="none"/>
<path d="M263.5 73.4V221.3M261.7 73.4H265.3M261.7 221.3H265.3" stroke="#4CC3D9" stroke-width="1.15" fill="none"/>
<path d="M266.06 74.5V221.3M264.26 74.5H267.86M264.26 221.3H267.86" stroke="#4CC3D9" stroke-width="1.15" fill="none"/>
<path d="M268.61 74.5V216.1M266.81 74.5H270.41M266.81 216.1H270.41" stroke="#7BC8A4" stroke-width="1.15" fill="none"/>
<path d="M271.17 77.8V216.1M269.37 77.8H272.97M269.37 216.1H272.97" stroke="#7BC8A4" stroke-width="1.15" fill="none"/>
<path d="M273.72 64.9V216.1M271.92 64.9H275.52M271.92 216.1H275.52" stroke="#7BC8A4" stroke-width="1.15" fill="none"/>
<path d="M276.28 87.9V218.8M274.48 87.9H278.08M274.48 218.8H278.08" stroke="#FFC65D" stroke-width="1.15" fill="none"/>
<path d="M278.83 73.8V220.2M277.03 73.8H280.63M277.03 220.2H280.63" stroke="#FFC65D" stroke-width="1.15" fill="none"/>
<path d="M281.39 76V220.2M279.59 76H283.19M279.59 220.2H283.19" stroke="#FFC65D" stroke-width="1.15" fill="none"/>
<path d="M283.94 82.8V218.8M282.14 82.8H285.74M282.14 218.8H285.74" stroke="#F16745" stroke-width="1.15" fill="none"/>
<path d="M286.5 75.2V218.8M284.7 75.2H288.3M284.7 218.8H288.3" stroke="#F16745" stroke-width="1.15" fill="none"/>
<path d="M289.05 76V218.8M287.25 76H290.85M287.25 218.8H290.85" stroke="#F16745" stroke-width="1.15" fill="none"/>
<line x1="258.5" x2="291.5" y1="161.1" y2="161.1" stroke="#D9609B" stroke-width="3.2"/>
<circle cx="260.95" cy="151.5" r="1.35" fill="#000"/>
<circle cx="263.5" cy="147" r="1.35" fill="#000"/>
<circle cx="266.06" cy="147" r="1.35" fill="#000"/>
<circle cx="268.61" cy="144.8" r="1.35" fill="#000"/>
<circle cx="271.17" cy="146.5" r="1.35" fill="#000"/>
<circle cx="273.72" cy="140.7" r="1.35" fill="#000"/>
<circle cx="276.28" cy="153.2" r="1.35" fill="#000"/>
<circle cx="278.83" cy="147.4" r="1.35" fill="#000"/>
<circle cx="281.39" cy="148.8" r="1.35" fill="#000"/>
<circle cx="283.94" cy="150.3" r="1.35" fill="#000"/>
<circle cx="286.5" cy="147" r="1.35" fill="#000"/>
<circle cx="289.05" cy="147.4" r="1.35" fill="#000"/>
<rect x="258.5" y="57" width="33" height="184.8" fill="none" stroke="#2B2B2B" stroke-width="1.6"/>
<rect x="298.7" y="134.7" width="2.5" height="73.6" fill="#4CC3D9" fill-opacity="0.3"/>
<rect x="301.25" y="145.9" width="2.5" height="63.1" fill="#4CC3D9" fill-opacity="0.3"/>
<rect x="303.81" y="128.7" width="2.5" height="80.3" fill="#4CC3D9" fill-opacity="0.3"/>
<rect x="306.36" y="129.6" width="2.5" height="78.7" fill="#7BC8A4" fill-opacity="0.3"/>
<rect x="308.92" y="142.5" width="2.5" height="65.8" fill="#7BC8A4" fill-opacity="0.3"/>
<rect x="311.47" y="130.3" width="2.5" height="78" fill="#7BC8A4" fill-opacity="0.3"/>
<rect x="314.03" y="132.5" width="2.5" height="78.1" fill="#FFC65D" fill-opacity="0.3"/>
<rect x="316.58" y="126.5" width="2.5" height="84.7" fill="#FFC65D" fill-opacity="0.3"/>
<rect x="319.14" y="129.6" width="2.5" height="81.6" fill="#FFC65D" fill-opacity="0.3"/>
<rect x="321.69" y="143" width="2.5" height="66.9" fill="#F16745" fill-opacity="0.3"/>
<rect x="324.25" y="142.5" width="2.5" height="67.4" fill="#F16745" fill-opacity="0.3"/>
<rect x="326.8" y="136.3" width="2.5" height="73.6" fill="#F16745" fill-opacity="0.3"/>
<path d="M299.95 134.7V208.3M298.15 134.7H301.75M298.15 208.3H301.75" stroke="#4CC3D9" stroke-width="1.15" fill="none"/>
<path d="M302.5 145.9V209M300.7 145.9H304.3M300.7 209H304.3" stroke="#4CC3D9" stroke-width="1.15" fill="none"/>
<path d="M305.06 128.7V209M303.26 128.7H306.86M303.26 209H306.86" stroke="#4CC3D9" stroke-width="1.15" fill="none"/>
<path d="M307.61 129.6V208.3M305.81 129.6H309.41M305.81 208.3H309.41" stroke="#7BC8A4" stroke-width="1.15" fill="none"/>
<path d="M310.17 142.5V208.3M308.37 142.5H311.97M308.37 208.3H311.97" stroke="#7BC8A4" stroke-width="1.15" fill="none"/>
<path d="M312.72 130.3V208.3M310.92 130.3H314.52M310.92 208.3H314.52" stroke="#7BC8A4" stroke-width="1.15" fill="none"/>
<path d="M315.28 132.5V210.6M313.48 132.5H317.08M313.48 210.6H317.08" stroke="#FFC65D" stroke-width="1.15" fill="none"/>
<path d="M317.83 126.5V211.2M316.03 126.5H319.63M316.03 211.2H319.63" stroke="#FFC65D" stroke-width="1.15" fill="none"/>
<path d="M320.39 129.6V211.2M318.59 129.6H322.19M318.59 211.2H322.19" stroke="#FFC65D" stroke-width="1.15" fill="none"/>
<path d="M322.94 143V209.9M321.14 143H324.74M321.14 209.9H324.74" stroke="#F16745" stroke-width="1.15" fill="none"/>
<path d="M325.5 142.5V209.9M323.7 142.5H327.3M323.7 209.9H327.3" stroke="#F16745" stroke-width="1.15" fill="none"/>
<path d="M328.05 136.3V209.9M326.25 136.3H329.85M326.25 209.9H329.85" stroke="#F16745" stroke-width="1.15" fill="none"/>
<line x1="297.5" x2="330.5" y1="124.5" y2="124.5" stroke="#D9609B" stroke-width="3.2"/>
<circle cx="299.95" cy="171.1" r="1.35" fill="#000"/>
<circle cx="302.5" cy="176.4" r="1.35" fill="#000"/>
<circle cx="305.06" cy="168.9" r="1.35" fill="#000"/>
<circle cx="307.61" cy="168.2" r="1.35" fill="#000"/>
<circle cx="310.17" cy="175.5" r="1.35" fill="#000"/>
<circle cx="312.72" cy="169.3" r="1.35" fill="#000"/>
<circle cx="315.28" cy="171.1" r="1.35" fill="#000"/>
<circle cx="317.83" cy="168.2" r="1.35" fill="#000"/>
<circle cx="320.39" cy="169.3" r="1.35" fill="#000"/>
<circle cx="322.94" cy="176.4" r="1.35" fill="#000"/>
<circle cx="325.5" cy="176" r="1.35" fill="#000"/>
<circle cx="328.05" cy="173.3" r="1.35" fill="#000"/>
<rect x="297.5" y="57" width="33" height="184.8" fill="none" stroke="#2B2B2B" stroke-width="1.6"/>
<rect x="337.2" y="139.2" width="2.5" height="66.9" fill="#4CC3D9" fill-opacity="0.3"/>
<rect x="339.75" y="151" width="2.5" height="56.2" fill="#4CC3D9" fill-opacity="0.3"/>
<rect x="342.31" y="133.6" width="2.5" height="73.6" fill="#4CC3D9" fill-opacity="0.3"/>
<rect x="344.86" y="149.2" width="2.5" height="59.1" fill="#7BC8A4" fill-opacity="0.3"/>
<rect x="347.42" y="114.6" width="2.5" height="94.9" fill="#7BC8A4" fill-opacity="0.3"/>
<rect x="349.97" y="149.2" width="2.5" height="60.3" fill="#7BC8A4" fill-opacity="0.3"/>
<rect x="352.53" y="137" width="2.5" height="72" fill="#FFC65D" fill-opacity="0.3"/>
<rect x="355.08" y="130.9" width="2.5" height="78.1" fill="#FFC65D" fill-opacity="0.3"/>
<rect x="357.64" y="133.6" width="2.5" height="75.4" fill="#FFC65D" fill-opacity="0.3"/>
<rect x="360.19" y="148.1" width="2.5" height="60.2" fill="#F16745" fill-opacity="0.3"/>
<rect x="362.75" y="147.4" width="2.5" height="60.9" fill="#F16745" fill-opacity="0.3"/>
<rect x="365.3" y="139.9" width="2.5" height="68.4" fill="#F16745" fill-opacity="0.3"/>
<path d="M338.45 139.2V206.1M336.65 139.2H340.25M336.65 206.1H340.25" stroke="#4CC3D9" stroke-width="1.15" fill="none"/>
<path d="M341 151V207.2M339.2 151H342.8M339.2 207.2H342.8" stroke="#4CC3D9" stroke-width="1.15" fill="none"/>
<path d="M343.56 133.6V207.2M341.76 133.6H345.36M341.76 207.2H345.36" stroke="#4CC3D9" stroke-width="1.15" fill="none"/>
<path d="M346.11 149.2V208.3M344.31 149.2H347.91M344.31 208.3H347.91" stroke="#7BC8A4" stroke-width="1.15" fill="none"/>
<path d="M348.67 114.6V209.5M346.87 114.6H350.47M346.87 209.5H350.47" stroke="#7BC8A4" stroke-width="1.15" fill="none"/>
<path d="M351.22 149.2V209.5M349.42 149.2H353.02M349.42 209.5H353.02" stroke="#7BC8A4" stroke-width="1.15" fill="none"/>
<path d="M353.78 137V209M351.98 137H355.58M351.98 209H355.58" stroke="#FFC65D" stroke-width="1.15" fill="none"/>
<path d="M356.33 130.9V209M354.53 130.9H358.13M354.53 209H358.13" stroke="#FFC65D" stroke-width="1.15" fill="none"/>
<path d="M358.89 133.6V209M357.09 133.6H360.69M357.09 209H360.69" stroke="#FFC65D" stroke-width="1.15" fill="none"/>
<path d="M361.44 148.1V208.3M359.64 148.1H363.24M359.64 208.3H363.24" stroke="#F16745" stroke-width="1.15" fill="none"/>
<path d="M364 147.4V208.3M362.2 147.4H365.8M362.2 208.3H365.8" stroke="#F16745" stroke-width="1.15" fill="none"/>
<path d="M366.55 139.9V208.3M364.75 139.9H368.35M364.75 208.3H368.35" stroke="#F16745" stroke-width="1.15" fill="none"/>
<line x1="336.5" x2="368.5" y1="113.2" y2="113.2" stroke="#D9609B" stroke-width="3.2"/>
<circle cx="338.45" cy="172.6" r="1.35" fill="#000"/>
<circle cx="341" cy="178.7" r="1.35" fill="#000"/>
<circle cx="343.56" cy="170.4" r="1.35" fill="#000"/>
<circle cx="346.11" cy="169.7" r="1.35" fill="#000"/>
<circle cx="348.67" cy="177.8" r="1.35" fill="#000"/>
<circle cx="351.22" cy="161.5" r="1.35" fill="#000"/>
<circle cx="353.78" cy="172.6" r="1.35" fill="#000"/>
<circle cx="356.33" cy="169.3" r="1.35" fill="#000"/>
<circle cx="358.89" cy="171.1" r="1.35" fill="#000"/>
<circle cx="361.44" cy="177.8" r="1.35" fill="#000"/>
<circle cx="364" cy="177.8" r="1.35" fill="#000"/>
<circle cx="366.55" cy="174.2" r="1.35" fill="#000"/>
<rect x="336.5" y="57" width="32" height="184.8" fill="none" stroke="#2B2B2B" stroke-width="1.6"/>
<rect x="376.2" y="148.1" width="2.5" height="61.8" fill="#4CC3D9" fill-opacity="0.3"/>
<rect x="378.75" y="147" width="2.5" height="62.9" fill="#4CC3D9" fill-opacity="0.3"/>
<rect x="381.31" y="150.3" width="2.5" height="59.6" fill="#4CC3D9" fill-opacity="0.3"/>
<rect x="383.86" y="139.2" width="2.5" height="69.1" fill="#7BC8A4" fill-opacity="0.3"/>
<rect x="386.42" y="159.9" width="2.5" height="48.4" fill="#7BC8A4" fill-opacity="0.3"/>
<rect x="388.97" y="145.9" width="2.5" height="62.4" fill="#7BC8A4" fill-opacity="0.3"/>
<rect x="391.53" y="150.3" width="2.5" height="59.6" fill="#FFC65D" fill-opacity="0.3"/>
<rect x="394.08" y="148.8" width="2.5" height="61.1" fill="#FFC65D" fill-opacity="0.3"/>
<rect x="396.64" y="153.2" width="2.5" height="56.7" fill="#FFC65D" fill-opacity="0.3"/>
<rect x="399.19" y="148.8" width="2.5" height="60.7" fill="#F16745" fill-opacity="0.3"/>
<rect x="401.75" y="142.5" width="2.5" height="67" fill="#F16745" fill-opacity="0.3"/>
<rect x="404.3" y="148.1" width="2.5" height="61.4" fill="#F16745" fill-opacity="0.3"/>
<path d="M377.45 148.1V209.9M375.65 148.1H379.25M375.65 209.9H379.25" stroke="#4CC3D9" stroke-width="1.15" fill="none"/>
<path d="M380 147V209.9M378.2 147H381.8M378.2 209.9H381.8" stroke="#4CC3D9" stroke-width="1.15" fill="none"/>
<path d="M382.56 150.3V209.9M380.76 150.3H384.36M380.76 209.9H384.36" stroke="#4CC3D9" stroke-width="1.15" fill="none"/>
<path d="M385.11 139.2V208.3M383.31 139.2H386.91M383.31 208.3H386.91" stroke="#7BC8A4" stroke-width="1.15" fill="none"/>
<path d="M387.67 159.9V208.3M385.87 159.9H389.47M385.87 208.3H389.47" stroke="#7BC8A4" stroke-width="1.15" fill="none"/>
<path d="M390.22 145.9V208.3M388.42 145.9H392.02M388.42 208.3H392.02" stroke="#7BC8A4" stroke-width="1.15" fill="none"/>
<path d="M392.78 150.3V209.9M390.98 150.3H394.58M390.98 209.9H394.58" stroke="#FFC65D" stroke-width="1.15" fill="none"/>
<path d="M395.33 148.8V209.9M393.53 148.8H397.13M393.53 209.9H397.13" stroke="#FFC65D" stroke-width="1.15" fill="none"/>
<path d="M397.89 153.2V209.9M396.09 153.2H399.69M396.09 209.9H399.69" stroke="#FFC65D" stroke-width="1.15" fill="none"/>
<path d="M400.44 148.8V209.5M398.64 148.8H402.24M398.64 209.5H402.24" stroke="#F16745" stroke-width="1.15" fill="none"/>
<path d="M403 142.5V209.5M401.2 142.5H404.8M401.2 209.5H404.8" stroke="#F16745" stroke-width="1.15" fill="none"/>
<path d="M405.55 148.1V209.5M403.75 148.1H407.35M403.75 209.5H407.35" stroke="#F16745" stroke-width="1.15" fill="none"/>
<line x1="375.5" x2="407.5" y1="109.8" y2="109.8" stroke="#D9609B" stroke-width="3.2"/>
<circle cx="377.45" cy="178.7" r="1.35" fill="#000"/>
<circle cx="380" cy="178.2" r="1.35" fill="#000"/>
<circle cx="382.56" cy="179.3" r="1.35" fill="#000"/>
<circle cx="385.11" cy="173.8" r="1.35" fill="#000"/>
<circle cx="387.67" cy="183.8" r="1.35" fill="#000"/>
<circle cx="390.22" cy="176.4" r="1.35" fill="#000"/>
<circle cx="392.78" cy="180.5" r="1.35" fill="#000"/>
<circle cx="395.33" cy="179.3" r="1.35" fill="#000"/>
<circle cx="397.89" cy="181.6" r="1.35" fill="#000"/>
<circle cx="400.44" cy="178.7" r="1.35" fill="#000"/>
<circle cx="403" cy="176" r="1.35" fill="#000"/>
<circle cx="405.55" cy="178.7" r="1.35" fill="#000"/>
<rect x="375.5" y="57" width="32" height="184.8" fill="none" stroke="#2B2B2B" stroke-width="1.6"/>
<rect x="415.2" y="153.2" width="2.5" height="54.5" fill="#4CC3D9" fill-opacity="0.3"/>
<rect x="417.75" y="152.6" width="2.5" height="55.1" fill="#4CC3D9" fill-opacity="0.3"/>
<rect x="420.31" y="155.5" width="2.5" height="52.2" fill="#4CC3D9" fill-opacity="0.3"/>
<rect x="422.86" y="144.3" width="2.5" height="62.5" fill="#7BC8A4" fill-opacity="0.3"/>
<rect x="425.42" y="163.7" width="2.5" height="43.1" fill="#7BC8A4" fill-opacity="0.3"/>
<rect x="427.97" y="150.3" width="2.5" height="56.5" fill="#7BC8A4" fill-opacity="0.3"/>
<rect x="430.53" y="154.1" width="2.5" height="53.6" fill="#FFC65D" fill-opacity="0.3"/>
<rect x="433.08" y="152.6" width="2.5" height="55.1" fill="#FFC65D" fill-opacity="0.3"/>
<rect x="435.64" y="157" width="2.5" height="50.7" fill="#FFC65D" fill-opacity="0.3"/>
<rect x="438.19" y="152.6" width="2.5" height="54.6" fill="#F16745" fill-opacity="0.3"/>
<rect x="440.75" y="149.7" width="2.5" height="57.5" fill="#F16745" fill-opacity="0.3"/>
<rect x="443.3" y="155.5" width="2.5" height="51.7" fill="#F16745" fill-opacity="0.3"/>
<path d="M416.45 153.2V207.7M414.65 153.2H418.25M414.65 207.7H418.25" stroke="#4CC3D9" stroke-width="1.15" fill="none"/>
<path d="M419 152.6V207.7M417.2 152.6H420.8M417.2 207.7H420.8" stroke="#4CC3D9" stroke-width="1.15" fill="none"/>
<path d="M421.56 155.5V207.7M419.76 155.5H423.36M419.76 207.7H423.36" stroke="#4CC3D9" stroke-width="1.15" fill="none"/>
<path d="M424.11 144.3V206.8M422.31 144.3H425.91M422.31 206.8H425.91" stroke="#7BC8A4" stroke-width="1.15" fill="none"/>
<path d="M426.67 163.7V206.8M424.87 163.7H428.47M424.87 206.8H428.47" stroke="#7BC8A4" stroke-width="1.15" fill="none"/>
<path d="M429.22 150.3V206.8M427.42 150.3H431.02M427.42 206.8H431.02" stroke="#7BC8A4" stroke-width="1.15" fill="none"/>
<path d="M431.78 154.1V207.7M429.98 154.1H433.58M429.98 207.7H433.58" stroke="#FFC65D" stroke-width="1.15" fill="none"/>
<path d="M434.33 152.6V207.7M432.53 152.6H436.13M432.53 207.7H436.13" stroke="#FFC65D" stroke-width="1.15" fill="none"/>
<path d="M436.89 157V207.7M435.09 157H438.69M435.09 207.7H438.69" stroke="#FFC65D" stroke-width="1.15" fill="none"/>
<path d="M439.44 152.6V207.2M437.64 152.6H441.24M437.64 207.2H441.24" stroke="#F16745" stroke-width="1.15" fill="none"/>
<path d="M442 149.7V207.2M440.2 149.7H443.8M440.2 207.2H443.8" stroke="#F16745" stroke-width="1.15" fill="none"/>
<path d="M444.55 155.5V207.2M442.75 155.5H446.35M442.75 207.2H446.35" stroke="#F16745" stroke-width="1.15" fill="none"/>
<line x1="414.5" x2="446.5" y1="92" y2="92" stroke="#D9609B" stroke-width="3.2"/>
<circle cx="416.45" cy="180.9" r="1.35" fill="#000"/>
<circle cx="419" cy="180.5" r="1.35" fill="#000"/>
<circle cx="421.56" cy="181.6" r="1.35" fill="#000"/>
<circle cx="424.11" cy="175.5" r="1.35" fill="#000"/>
<circle cx="426.67" cy="185.4" r="1.35" fill="#000"/>
<circle cx="429.22" cy="178.2" r="1.35" fill="#000"/>
<circle cx="431.78" cy="181.6" r="1.35" fill="#000"/>
<circle cx="434.33" cy="180.5" r="1.35" fill="#000"/>
<circle cx="436.89" cy="182.7" r="1.35" fill="#000"/>
<circle cx="439.44" cy="180.5" r="1.35" fill="#000"/>
<circle cx="442" cy="179.3" r="1.35" fill="#000"/>
<circle cx="444.55" cy="181.6" r="1.35" fill="#000"/>
<rect x="414.5" y="57" width="32" height="184.8" fill="none" stroke="#2B2B2B" stroke-width="1.6"/>
<rect x="454.2" y="139.2" width="2.5" height="72" fill="#4CC3D9" fill-opacity="0.3"/>
<rect x="456.75" y="137.6" width="2.5" height="73.6" fill="#4CC3D9" fill-opacity="0.3"/>
<rect x="459.31" y="135.8" width="2.5" height="75.4" fill="#4CC3D9" fill-opacity="0.3"/>
<rect x="461.86" y="133.6" width="2.5" height="75.4" fill="#7BC8A4" fill-opacity="0.3"/>
<rect x="464.42" y="136.3" width="2.5" height="72.7" fill="#7BC8A4" fill-opacity="0.3"/>
<rect x="466.97" y="137.6" width="2.5" height="71.4" fill="#7BC8A4" fill-opacity="0.3"/>
<rect x="469.53" y="139.2" width="2.5" height="72" fill="#FFC65D" fill-opacity="0.3"/>
<rect x="472.08" y="138.5" width="2.5" height="72.7" fill="#FFC65D" fill-opacity="0.3"/>
<rect x="474.64" y="140.3" width="2.5" height="70.9" fill="#FFC65D" fill-opacity="0.3"/>
<rect x="477.19" y="139.2" width="2.5" height="71.4" fill="#F16745" fill-opacity="0.3"/>
<rect x="479.75" y="138" width="2.5" height="72.6" fill="#F16745" fill-opacity="0.3"/>
<rect x="482.3" y="135.8" width="2.5" height="74.8" fill="#F16745" fill-opacity="0.3"/>
<path d="M455.45 139.2V211.2M453.65 139.2H457.25M453.65 211.2H457.25" stroke="#4CC3D9" stroke-width="1.15" fill="none"/>
<path d="M458 137.6V211.2M456.2 137.6H459.8M456.2 211.2H459.8" stroke="#4CC3D9" stroke-width="1.15" fill="none"/>
<path d="M460.56 135.8V211.2M458.76 135.8H462.36M458.76 211.2H462.36" stroke="#4CC3D9" stroke-width="1.15" fill="none"/>
<path d="M463.11 133.6V209M461.31 133.6H464.91M461.31 209H464.91" stroke="#7BC8A4" stroke-width="1.15" fill="none"/>
<path d="M465.67 136.3V209M463.87 136.3H467.47M463.87 209H467.47" stroke="#7BC8A4" stroke-width="1.15" fill="none"/>
<path d="M468.22 137.6V209M466.42 137.6H470.02M466.42 209H470.02" stroke="#7BC8A4" stroke-width="1.15" fill="none"/>
<path d="M470.78 139.2V211.2M468.98 139.2H472.58M468.98 211.2H472.58" stroke="#FFC65D" stroke-width="1.15" fill="none"/>
<path d="M473.33 138.5V211.2M471.53 138.5H475.13M471.53 211.2H475.13" stroke="#FFC65D" stroke-width="1.15" fill="none"/>
<path d="M475.89 140.3V211.2M474.09 140.3H477.69M474.09 211.2H477.69" stroke="#FFC65D" stroke-width="1.15" fill="none"/>
<path d="M478.44 139.2V210.6M476.64 139.2H480.24M476.64 210.6H480.24" stroke="#F16745" stroke-width="1.15" fill="none"/>
<path d="M481 138V210.6M479.2 138H482.8M479.2 210.6H482.8" stroke="#F16745" stroke-width="1.15" fill="none"/>
<path d="M483.55 135.8V210.6M481.75 135.8H485.35M481.75 210.6H485.35" stroke="#F16745" stroke-width="1.15" fill="none"/>
<line x1="453.5" x2="485.5" y1="143.3" y2="143.3" stroke="#D9609B" stroke-width="3.2"/>
<circle cx="455.45" cy="174.9" r="1.35" fill="#000"/>
<circle cx="458" cy="175.5" r="1.35" fill="#000"/>
<circle cx="460.56" cy="174.2" r="1.35" fill="#000"/>
<circle cx="463.11" cy="171.5" r="1.35" fill="#000"/>
<circle cx="465.67" cy="172.6" r="1.35" fill="#000"/>
<circle cx="468.22" cy="173.3" r="1.35" fill="#000"/>
<circle cx="470.78" cy="174.9" r="1.35" fill="#000"/>
<circle cx="473.33" cy="176" r="1.35" fill="#000"/>
<circle cx="475.89" cy="175.5" r="1.35" fill="#000"/>
<circle cx="478.44" cy="174.9" r="1.35" fill="#000"/>
<circle cx="481" cy="174.9" r="1.35" fill="#000"/>
<circle cx="483.55" cy="173.8" r="1.35" fill="#000"/>
<rect x="453.5" y="57" width="32" height="184.8" fill="none" stroke="#2B2B2B" stroke-width="1.6"/>
<rect x="492.7" y="143.6" width="2.5" height="65.4" fill="#4CC3D9" fill-opacity="0.3"/>
<rect x="495.25" y="142.5" width="2.5" height="66.5" fill="#4CC3D9" fill-opacity="0.3"/>
<rect x="497.81" y="140.7" width="2.5" height="68.3" fill="#4CC3D9" fill-opacity="0.3"/>
<rect x="500.36" y="139.2" width="2.5" height="68" fill="#7BC8A4" fill-opacity="0.3"/>
<rect x="502.92" y="141.4" width="2.5" height="65.8" fill="#7BC8A4" fill-opacity="0.3"/>
<rect x="505.47" y="143" width="2.5" height="64.2" fill="#7BC8A4" fill-opacity="0.3"/>
<rect x="508.03" y="144.3" width="2.5" height="64.7" fill="#FFC65D" fill-opacity="0.3"/>
<rect x="510.58" y="143" width="2.5" height="66" fill="#FFC65D" fill-opacity="0.3"/>
<rect x="513.14" y="145.9" width="2.5" height="63.1" fill="#FFC65D" fill-opacity="0.3"/>
<rect x="515.69" y="144.3" width="2.5" height="64.7" fill="#F16745" fill-opacity="0.3"/>
<rect x="518.25" y="143.6" width="2.5" height="65.4" fill="#F16745" fill-opacity="0.3"/>
<rect x="520.8" y="139.9" width="2.5" height="69.1" fill="#F16745" fill-opacity="0.3"/>
<path d="M493.95 143.6V209M492.15 143.6H495.75M492.15 209H495.75" stroke="#4CC3D9" stroke-width="1.15" fill="none"/>
<path d="M496.5 142.5V209M494.7 142.5H498.3M494.7 209H498.3" stroke="#4CC3D9" stroke-width="1.15" fill="none"/>
<path d="M499.06 140.7V209M497.26 140.7H500.86M497.26 209H500.86" stroke="#4CC3D9" stroke-width="1.15" fill="none"/>
<path d="M501.61 139.2V207.2M499.81 139.2H503.41M499.81 207.2H503.41" stroke="#7BC8A4" stroke-width="1.15" fill="none"/>
<path d="M504.17 141.4V207.2M502.37 141.4H505.97M502.37 207.2H505.97" stroke="#7BC8A4" stroke-width="1.15" fill="none"/>
<path d="M506.72 143V207.2M504.92 143H508.52M504.92 207.2H508.52" stroke="#7BC8A4" stroke-width="1.15" fill="none"/>
<path d="M509.28 144.3V209M507.48 144.3H511.08M507.48 209H511.08" stroke="#FFC65D" stroke-width="1.15" fill="none"/>
<path d="M511.83 143V209M510.03 143H513.63M510.03 209H513.63" stroke="#FFC65D" stroke-width="1.15" fill="none"/>
<path d="M514.39 145.9V209M512.59 145.9H516.19M512.59 209H516.19" stroke="#FFC65D" stroke-width="1.15" fill="none"/>
<path d="M516.94 144.3V209M515.14 144.3H518.74M515.14 209H518.74" stroke="#F16745" stroke-width="1.15" fill="none"/>
<path d="M519.5 143.6V209M517.7 143.6H521.3M517.7 209H521.3" stroke="#F16745" stroke-width="1.15" fill="none"/>
<path d="M522.05 139.9V209M520.25 139.9H523.85M520.25 209H523.85" stroke="#F16745" stroke-width="1.15" fill="none"/>
<line x1="491.5" x2="524.5" y1="132.8" y2="132.8" stroke="#D9609B" stroke-width="3.2"/>
<circle cx="493.95" cy="174.9" r="1.35" fill="#000"/>
<circle cx="496.5" cy="176.4" r="1.35" fill="#000"/>
<circle cx="499.06" cy="174.2" r="1.35" fill="#000"/>
<circle cx="501.61" cy="172.6" r="1.35" fill="#000"/>
<circle cx="504.17" cy="174.2" r="1.35" fill="#000"/>
<circle cx="506.72" cy="174.9" r="1.35" fill="#000"/>
<circle cx="509.28" cy="175.5" r="1.35" fill="#000"/>
<circle cx="511.83" cy="177.1" r="1.35" fill="#000"/>
<circle cx="514.39" cy="176" r="1.35" fill="#000"/>
<circle cx="516.94" cy="176" r="1.35" fill="#000"/>
<circle cx="519.5" cy="175.5" r="1.35" fill="#000"/>
<circle cx="522.05" cy="174.2" r="1.35" fill="#000"/>
<rect x="491.5" y="57" width="33" height="184.8" fill="none" stroke="#2B2B2B" stroke-width="1.6"/>
<rect x="531.7" y="108.6" width="2.5" height="111.6" fill="#4CC3D9" fill-opacity="0.3"/>
<rect x="534.25" y="99" width="2.5" height="125" fill="#4CC3D9" fill-opacity="0.3"/>
<rect x="536.81" y="114" width="2.5" height="103.3" fill="#4CC3D9" fill-opacity="0.3"/>
<rect x="539.36" y="104.6" width="2.5" height="111.5" fill="#7BC8A4" fill-opacity="0.3"/>
<rect x="541.92" y="100.6" width="2.5" height="116.7" fill="#7BC8A4" fill-opacity="0.3"/>
<rect x="544.47" y="106.4" width="2.5" height="110.9" fill="#7BC8A4" fill-opacity="0.3"/>
<rect x="547.03" y="103.5" width="2.5" height="118.9" fill="#FFC65D" fill-opacity="0.3"/>
<rect x="549.58" y="101.3" width="2.5" height="124.9" fill="#FFC65D" fill-opacity="0.3"/>
<rect x="552.14" y="100.6" width="2.5" height="122.2" fill="#FFC65D" fill-opacity="0.3"/>
<rect x="554.69" y="100.6" width="2.5" height="119.6" fill="#F16745" fill-opacity="0.3"/>
<rect x="557.25" y="108" width="2.5" height="110.8" fill="#F16745" fill-opacity="0.3"/>
<rect x="559.8" y="105.7" width="2.5" height="113.1" fill="#F16745" fill-opacity="0.3"/>
<path d="M532.95 108.6V220.2M531.15 108.6H534.75M531.15 220.2H534.75" stroke="#4CC3D9" stroke-width="1.15" fill="none"/>
<path d="M535.5 99V224M533.7 99H537.3M533.7 224H537.3" stroke="#4CC3D9" stroke-width="1.15" fill="none"/>
<path d="M538.06 114V217.3M536.26 114H539.86M536.26 217.3H539.86" stroke="#4CC3D9" stroke-width="1.15" fill="none"/>
<path d="M540.61 104.6V216.1M538.81 104.6H542.41M538.81 216.1H542.41" stroke="#7BC8A4" stroke-width="1.15" fill="none"/>
<path d="M543.17 100.6V217.3M541.37 100.6H544.97M541.37 217.3H544.97" stroke="#7BC8A4" stroke-width="1.15" fill="none"/>
<path d="M545.72 106.4V217.3M543.92 106.4H547.52M543.92 217.3H547.52" stroke="#7BC8A4" stroke-width="1.15" fill="none"/>
<path d="M548.28 103.5V222.4M546.48 103.5H550.08M546.48 222.4H550.08" stroke="#FFC65D" stroke-width="1.15" fill="none"/>
<path d="M550.83 101.3V226.2M549.03 101.3H552.63M549.03 226.2H552.63" stroke="#FFC65D" stroke-width="1.15" fill="none"/>
<path d="M553.39 100.6V222.8M551.59 100.6H555.19M551.59 222.8H555.19" stroke="#FFC65D" stroke-width="1.15" fill="none"/>
<path d="M555.94 100.6V220.2M554.14 100.6H557.74M554.14 220.2H557.74" stroke="#F16745" stroke-width="1.15" fill="none"/>
<path d="M558.5 108V218.8M556.7 108H560.3M556.7 218.8H560.3" stroke="#F16745" stroke-width="1.15" fill="none"/>
<path d="M561.05 105.7V218.8M559.25 105.7H562.85M559.25 218.8H562.85" stroke="#F16745" stroke-width="1.15" fill="none"/>
<line x1="530.5" x2="563.5" y1="157.3" y2="157.3" stroke="#D9609B" stroke-width="3.2"/>
<circle cx="532.95" cy="164.4" r="1.35" fill="#000"/>
<circle cx="535.5" cy="161.5" r="1.35" fill="#000"/>
<circle cx="538.06" cy="165.3" r="1.35" fill="#000"/>
<circle cx="540.61" cy="160" r="1.35" fill="#000"/>
<circle cx="543.17" cy="159.3" r="1.35" fill="#000"/>
<circle cx="545.72" cy="161.5" r="1.35" fill="#000"/>
<circle cx="548.28" cy="163" r="1.35" fill="#000"/>
<circle cx="550.83" cy="163.7" r="1.35" fill="#000"/>
<circle cx="553.39" cy="162.2" r="1.35" fill="#000"/>
<circle cx="555.94" cy="160.8" r="1.35" fill="#000"/>
<circle cx="558.5" cy="163" r="1.35" fill="#000"/>
<circle cx="561.05" cy="162.2" r="1.35" fill="#000"/>
<rect x="530.5" y="57" width="33" height="184.8" fill="none" stroke="#2B2B2B" stroke-width="1.6"/>
<rect x="570.2" y="116.9" width="2.5" height="101.5" fill="#4CC3D9" fill-opacity="0.3"/>
<rect x="572.75" y="109.1" width="2.5" height="109.9" fill="#4CC3D9" fill-opacity="0.3"/>
<rect x="575.31" y="124.7" width="2.5" height="88.8" fill="#4CC3D9" fill-opacity="0.3"/>
<rect x="577.86" y="115.8" width="2.5" height="97.7" fill="#7BC8A4" fill-opacity="0.3"/>
<rect x="580.42" y="112.4" width="2.5" height="101.1" fill="#7BC8A4" fill-opacity="0.3"/>
<rect x="582.97" y="118.4" width="2.5" height="95.1" fill="#7BC8A4" fill-opacity="0.3"/>
<rect x="585.53" y="113.5" width="2.5" height="105.3" fill="#FFC65D" fill-opacity="0.3"/>
<rect x="588.08" y="108.6" width="2.5" height="113.8" fill="#FFC65D" fill-opacity="0.3"/>
<rect x="590.64" y="110.9" width="2.5" height="108.6" fill="#FFC65D" fill-opacity="0.3"/>
<rect x="593.19" y="114" width="2.5" height="102.1" fill="#F16745" fill-opacity="0.3"/>
<rect x="595.75" y="120.7" width="2.5" height="94.3" fill="#F16745" fill-opacity="0.3"/>
<rect x="598.3" y="118.4" width="2.5" height="96.6" fill="#F16745" fill-opacity="0.3"/>
<path d="M571.45 116.9V218.4M569.65 116.9H573.25M569.65 218.4H573.25" stroke="#4CC3D9" stroke-width="1.15" fill="none"/>
<path d="M574 109.1V219M572.2 109.1H575.8M572.2 219H575.8" stroke="#4CC3D9" stroke-width="1.15" fill="none"/>
<path d="M576.56 124.7V213.5M574.76 124.7H578.36M574.76 213.5H578.36" stroke="#4CC3D9" stroke-width="1.15" fill="none"/>
<path d="M579.11 115.8V213.5M577.31 115.8H580.91M577.31 213.5H580.91" stroke="#7BC8A4" stroke-width="1.15" fill="none"/>
<path d="M581.67 112.4V213.5M579.87 112.4H583.47M579.87 213.5H583.47" stroke="#7BC8A4" stroke-width="1.15" fill="none"/>
<path d="M584.22 118.4V213.5M582.42 118.4H586.02M582.42 213.5H586.02" stroke="#7BC8A4" stroke-width="1.15" fill="none"/>
<path d="M586.78 113.5V218.8M584.98 113.5H588.58M584.98 218.8H588.58" stroke="#FFC65D" stroke-width="1.15" fill="none"/>
<path d="M589.33 108.6V222.4M587.53 108.6H591.13M587.53 222.4H591.13" stroke="#FFC65D" stroke-width="1.15" fill="none"/>
<path d="M591.89 110.9V219.5M590.09 110.9H593.69M590.09 219.5H593.69" stroke="#FFC65D" stroke-width="1.15" fill="none"/>
<path d="M594.44 114V216.1M592.64 114H596.24M592.64 216.1H596.24" stroke="#F16745" stroke-width="1.15" fill="none"/>
<path d="M597 120.7V215M595.2 120.7H598.8M595.2 215H598.8" stroke="#F16745" stroke-width="1.15" fill="none"/>
<path d="M599.55 118.4V215M597.75 118.4H601.35M597.75 215H601.35" stroke="#F16745" stroke-width="1.15" fill="none"/>
<line x1="569.5" x2="601.5" y1="135.7" y2="135.7" stroke="#D9609B" stroke-width="3.2"/>
<circle cx="571.45" cy="167.1" r="1.35" fill="#000"/>
<circle cx="574" cy="164.4" r="1.35" fill="#000"/>
<circle cx="576.56" cy="169.3" r="1.35" fill="#000"/>
<circle cx="579.11" cy="163.7" r="1.35" fill="#000"/>
<circle cx="581.67" cy="163" r="1.35" fill="#000"/>
<circle cx="584.22" cy="165.3" r="1.35" fill="#000"/>
<circle cx="586.78" cy="165.3" r="1.35" fill="#000"/>
<circle cx="589.33" cy="165.3" r="1.35" fill="#000"/>
<circle cx="591.89" cy="164.8" r="1.35" fill="#000"/>
<circle cx="594.44" cy="165.3" r="1.35" fill="#000"/>
<circle cx="597" cy="167.5" r="1.35" fill="#000"/>
<circle cx="599.55" cy="166.6" r="1.35" fill="#000"/>
<rect x="569.5" y="57" width="32" height="184.8" fill="none" stroke="#2B2B2B" stroke-width="1.6"/>
<rect x="609.2" y="137" width="2.5" height="72.9" fill="#4CC3D9" fill-opacity="0.3"/>
<rect x="611.75" y="138.5" width="2.5" height="71.4" fill="#4CC3D9" fill-opacity="0.3"/>
<rect x="614.31" y="139.9" width="2.5" height="70" fill="#4CC3D9" fill-opacity="0.3"/>
<rect x="616.86" y="130.9" width="2.5" height="77.4" fill="#7BC8A4" fill-opacity="0.3"/>
<rect x="619.42" y="134.7" width="2.5" height="73.6" fill="#7BC8A4" fill-opacity="0.3"/>
<rect x="621.97" y="142.1" width="2.5" height="66.2" fill="#7BC8A4" fill-opacity="0.3"/>
<rect x="624.53" y="139.9" width="2.5" height="70.7" fill="#FFC65D" fill-opacity="0.3"/>
<rect x="627.08" y="138.5" width="2.5" height="72.1" fill="#FFC65D" fill-opacity="0.3"/>
<rect x="629.64" y="138" width="2.5" height="72.6" fill="#FFC65D" fill-opacity="0.3"/>
<rect x="632.19" y="138.5" width="2.5" height="71" fill="#F16745" fill-opacity="0.3"/>
<rect x="634.75" y="139.2" width="2.5" height="70.3" fill="#F16745" fill-opacity="0.3"/>
<rect x="637.3" y="138.5" width="2.5" height="71" fill="#F16745" fill-opacity="0.3"/>
<path d="M610.45 137V209.9M608.65 137H612.25M608.65 209.9H612.25" stroke="#4CC3D9" stroke-width="1.15" fill="none"/>
<path d="M613 138.5V209.9M611.2 138.5H614.8M611.2 209.9H614.8" stroke="#4CC3D9" stroke-width="1.15" fill="none"/>
<path d="M615.56 139.9V209.9M613.76 139.9H617.36M613.76 209.9H617.36" stroke="#4CC3D9" stroke-width="1.15" fill="none"/>
<path d="M618.11 130.9V208.3M616.31 130.9H619.91M616.31 208.3H619.91" stroke="#7BC8A4" stroke-width="1.15" fill="none"/>
<path d="M620.67 134.7V208.3M618.87 134.7H622.47M618.87 208.3H622.47" stroke="#7BC8A4" stroke-width="1.15" fill="none"/>
<path d="M623.22 142.1V208.3M621.42 142.1H625.02M621.42 208.3H625.02" stroke="#7BC8A4" stroke-width="1.15" fill="none"/>
<path d="M625.78 139.9V210.6M623.98 139.9H627.58M623.98 210.6H627.58" stroke="#FFC65D" stroke-width="1.15" fill="none"/>
<path d="M628.33 138.5V210.6M626.53 138.5H630.13M626.53 210.6H630.13" stroke="#FFC65D" stroke-width="1.15" fill="none"/>
<path d="M630.89 138V210.6M629.09 138H632.69M629.09 210.6H632.69" stroke="#FFC65D" stroke-width="1.15" fill="none"/>
<path d="M633.44 138.5V209.5M631.64 138.5H635.24M631.64 209.5H635.24" stroke="#F16745" stroke-width="1.15" fill="none"/>
<path d="M636 139.2V209.5M634.2 139.2H637.8M634.2 209.5H637.8" stroke="#F16745" stroke-width="1.15" fill="none"/>
<path d="M638.55 138.5V209.5M636.75 138.5H640.35M636.75 209.5H640.35" stroke="#F16745" stroke-width="1.15" fill="none"/>
<line x1="608.5" x2="640.5" y1="117.2" y2="117.2" stroke="#D9609B" stroke-width="3.2"/>
<circle cx="610.45" cy="173.3" r="1.35" fill="#000"/>
<circle cx="613" cy="174.2" r="1.35" fill="#000"/>
<circle cx="615.56" cy="174.9" r="1.35" fill="#000"/>
<circle cx="618.11" cy="169.3" r="1.35" fill="#000"/>
<circle cx="620.67" cy="170.4" r="1.35" fill="#000"/>
<circle cx="623.22" cy="174.9" r="1.35" fill="#000"/>
<circle cx="625.78" cy="174.9" r="1.35" fill="#000"/>
<circle cx="628.33" cy="174.2" r="1.35" fill="#000"/>
<circle cx="630.89" cy="174.2" r="1.35" fill="#000"/>
<circle cx="633.44" cy="174.2" r="1.35" fill="#000"/>
<circle cx="636" cy="174.2" r="1.35" fill="#000"/>
<circle cx="638.55" cy="174.2" r="1.35" fill="#000"/>
<rect x="608.5" y="57" width="32" height="184.8" fill="none" stroke="#2B2B2B" stroke-width="1.6"/>
<rect x="648.2" y="137" width="2.5" height="72.9" fill="#4CC3D9" fill-opacity="0.3"/>
<rect x="650.75" y="138.5" width="2.5" height="71.4" fill="#4CC3D9" fill-opacity="0.3"/>
<rect x="653.31" y="139.9" width="2.5" height="70" fill="#4CC3D9" fill-opacity="0.3"/>
<rect x="655.86" y="130.9" width="2.5" height="77.4" fill="#7BC8A4" fill-opacity="0.3"/>
<rect x="658.42" y="133.6" width="2.5" height="74.7" fill="#7BC8A4" fill-opacity="0.3"/>
<rect x="660.97" y="142.1" width="2.5" height="66.2" fill="#7BC8A4" fill-opacity="0.3"/>
<rect x="663.53" y="139.9" width="2.5" height="70.7" fill="#FFC65D" fill-opacity="0.3"/>
<rect x="666.08" y="138" width="2.5" height="72.6" fill="#FFC65D" fill-opacity="0.3"/>
<rect x="668.64" y="138.5" width="2.5" height="72.1" fill="#FFC65D" fill-opacity="0.3"/>
<rect x="671.19" y="138.5" width="2.5" height="71" fill="#F16745" fill-opacity="0.3"/>
<rect x="673.75" y="138.5" width="2.5" height="71" fill="#F16745" fill-opacity="0.3"/>
<rect x="676.3" y="138.5" width="2.5" height="71" fill="#F16745" fill-opacity="0.3"/>
<path d="M649.45 137V209.9M647.65 137H651.25M647.65 209.9H651.25" stroke="#4CC3D9" stroke-width="1.15" fill="none"/>
<path d="M652 138.5V209.9M650.2 138.5H653.8M650.2 209.9H653.8" stroke="#4CC3D9" stroke-width="1.15" fill="none"/>
<path d="M654.56 139.9V209.9M652.76 139.9H656.36M652.76 209.9H656.36" stroke="#4CC3D9" stroke-width="1.15" fill="none"/>
<path d="M657.11 130.9V208.3M655.31 130.9H658.91M655.31 208.3H658.91" stroke="#7BC8A4" stroke-width="1.15" fill="none"/>
<path d="M659.67 133.6V208.3M657.87 133.6H661.47M657.87 208.3H661.47" stroke="#7BC8A4" stroke-width="1.15" fill="none"/>
<path d="M662.22 142.1V208.3M660.42 142.1H664.02M660.42 208.3H664.02" stroke="#7BC8A4" stroke-width="1.15" fill="none"/>
<path d="M664.78 139.9V210.6M662.98 139.9H666.58M662.98 210.6H666.58" stroke="#FFC65D" stroke-width="1.15" fill="none"/>
<path d="M667.33 138V210.6M665.53 138H669.13M665.53 210.6H669.13" stroke="#FFC65D" stroke-width="1.15" fill="none"/>
<path d="M669.89 138.5V210.6M668.09 138.5H671.69M668.09 210.6H671.69" stroke="#FFC65D" stroke-width="1.15" fill="none"/>
<path d="M672.44 138.5V209.5M670.64 138.5H674.24M670.64 209.5H674.24" stroke="#F16745" stroke-width="1.15" fill="none"/>
<path d="M675 138.5V209.5M673.2 138.5H676.8M673.2 209.5H676.8" stroke="#F16745" stroke-width="1.15" fill="none"/>
<path d="M677.55 138.5V209.5M675.75 138.5H679.35M675.75 209.5H679.35" stroke="#F16745" stroke-width="1.15" fill="none"/>
<line x1="647.5" x2="679.5" y1="117.9" y2="117.9" stroke="#D9609B" stroke-width="3.2"/>
<circle cx="649.45" cy="173.3" r="1.35" fill="#000"/>
<circle cx="652" cy="174.2" r="1.35" fill="#000"/>
<circle cx="654.56" cy="174.9" r="1.35" fill="#000"/>
<circle cx="657.11" cy="169.3" r="1.35" fill="#000"/>
<circle cx="659.67" cy="170.4" r="1.35" fill="#000"/>
<circle cx="662.22" cy="174.9" r="1.35" fill="#000"/>
<circle cx="664.78" cy="174.9" r="1.35" fill="#000"/>
<circle cx="667.33" cy="174.2" r="1.35" fill="#000"/>
<circle cx="669.89" cy="174.2" r="1.35" fill="#000"/>
<circle cx="672.44" cy="174.2" r="1.35" fill="#000"/>
<circle cx="675" cy="174.2" r="1.35" fill="#000"/>
<circle cx="677.55" cy="174.2" r="1.35" fill="#000"/>
<rect x="647.5" y="57" width="32" height="184.8" fill="none" stroke="#2B2B2B" stroke-width="1.6"/>
<rect x="687.2" y="133.6" width="2.5" height="78.1" fill="#4CC3D9" fill-opacity="0.3"/>
<rect x="689.75" y="147" width="2.5" height="62" fill="#4CC3D9" fill-opacity="0.3"/>
<rect x="692.31" y="146.5" width="2.5" height="62.5" fill="#4CC3D9" fill-opacity="0.3"/>
<rect x="694.86" y="145.2" width="2.5" height="63.1" fill="#7BC8A4" fill-opacity="0.3"/>
<rect x="697.42" y="150.3" width="2.5" height="58" fill="#7BC8A4" fill-opacity="0.3"/>
<rect x="699.97" y="137" width="2.5" height="71.3" fill="#7BC8A4" fill-opacity="0.3"/>
<rect x="702.53" y="143.6" width="2.5" height="66.3" fill="#FFC65D" fill-opacity="0.3"/>
<rect x="705.08" y="143" width="2.5" height="66.9" fill="#FFC65D" fill-opacity="0.3"/>
<rect x="707.64" y="145.2" width="2.5" height="64.7" fill="#FFC65D" fill-opacity="0.3"/>
<rect x="710.19" y="144.8" width="2.5" height="64.7" fill="#F16745" fill-opacity="0.3"/>
<rect x="712.75" y="142.5" width="2.5" height="67" fill="#F16745" fill-opacity="0.3"/>
<rect x="715.3" y="144.8" width="2.5" height="64.7" fill="#F16745" fill-opacity="0.3"/>
<path d="M688.45 133.6V211.7M686.65 133.6H690.25M686.65 211.7H690.25" stroke="#4CC3D9" stroke-width="1.15" fill="none"/>
<path d="M691 147V209M689.2 147H692.8M689.2 209H692.8" stroke="#4CC3D9" stroke-width="1.15" fill="none"/>
<path d="M693.56 146.5V209M691.76 146.5H695.36M691.76 209H695.36" stroke="#4CC3D9" stroke-width="1.15" fill="none"/>
<path d="M696.11 145.2V208.3M694.31 145.2H697.91M694.31 208.3H697.91" stroke="#7BC8A4" stroke-width="1.15" fill="none"/>
<path d="M698.67 150.3V208.3M696.87 150.3H700.47M696.87 208.3H700.47" stroke="#7BC8A4" stroke-width="1.15" fill="none"/>
<path d="M701.22 137V208.3M699.42 137H703.02M699.42 208.3H703.02" stroke="#7BC8A4" stroke-width="1.15" fill="none"/>
<path d="M703.78 143.6V209.9M701.98 143.6H705.58M701.98 209.9H705.58" stroke="#FFC65D" stroke-width="1.15" fill="none"/>
<path d="M706.33 143V209.9M704.53 143H708.13M704.53 209.9H708.13" stroke="#FFC65D" stroke-width="1.15" fill="none"/>
<path d="M708.89 145.2V209.9M707.09 145.2H710.69M707.09 209.9H710.69" stroke="#FFC65D" stroke-width="1.15" fill="none"/>
<path d="M711.44 144.8V209.5M709.64 144.8H713.24M709.64 209.5H713.24" stroke="#F16745" stroke-width="1.15" fill="none"/>
<path d="M714 142.5V209.5M712.2 142.5H715.8M712.2 209.5H715.8" stroke="#F16745" stroke-width="1.15" fill="none"/>
<path d="M716.55 144.8V209.5M714.75 144.8H718.35M714.75 209.5H718.35" stroke="#F16745" stroke-width="1.15" fill="none"/>
<line x1="686.5" x2="718.5" y1="106.7" y2="106.7" stroke="#D9609B" stroke-width="3.2"/>
<circle cx="688.45" cy="172.6" r="1.35" fill="#000"/>
<circle cx="691" cy="178.2" r="1.35" fill="#000"/>
<circle cx="693.56" cy="178.2" r="1.35" fill="#000"/>
<circle cx="696.11" cy="177.1" r="1.35" fill="#000"/>
<circle cx="698.67" cy="179.3" r="1.35" fill="#000"/>
<circle cx="701.22" cy="172.6" r="1.35" fill="#000"/>
<circle cx="703.78" cy="177.1" r="1.35" fill="#000"/>
<circle cx="706.33" cy="177.1" r="1.35" fill="#000"/>
<circle cx="708.89" cy="177.8" r="1.35" fill="#000"/>
<circle cx="711.44" cy="177.1" r="1.35" fill="#000"/>
<circle cx="714" cy="176.4" r="1.35" fill="#000"/>
<circle cx="716.55" cy="177.1" r="1.35" fill="#000"/>
<rect x="686.5" y="57" width="32" height="184.8" fill="none" stroke="#2B2B2B" stroke-width="1.6"/>
<rect x="725.7" y="133.6" width="2.5" height="78.1" fill="#4CC3D9" fill-opacity="0.3"/>
<rect x="728.25" y="147" width="2.5" height="62" fill="#4CC3D9" fill-opacity="0.3"/>
<rect x="730.81" y="146.5" width="2.5" height="62.5" fill="#4CC3D9" fill-opacity="0.3"/>
<rect x="733.36" y="145.2" width="2.5" height="63.1" fill="#7BC8A4" fill-opacity="0.3"/>
<rect x="735.92" y="150.3" width="2.5" height="58" fill="#7BC8A4" fill-opacity="0.3"/>
<rect x="738.47" y="137" width="2.5" height="71.3" fill="#7BC8A4" fill-opacity="0.3"/>
<rect x="741.03" y="143.6" width="2.5" height="66.3" fill="#FFC65D" fill-opacity="0.3"/>
<rect x="743.58" y="143" width="2.5" height="66.9" fill="#FFC65D" fill-opacity="0.3"/>
<rect x="746.14" y="145.2" width="2.5" height="64.7" fill="#FFC65D" fill-opacity="0.3"/>
<rect x="748.69" y="144.8" width="2.5" height="64.7" fill="#F16745" fill-opacity="0.3"/>
<rect x="751.25" y="142.5" width="2.5" height="67" fill="#F16745" fill-opacity="0.3"/>
<rect x="753.8" y="144.8" width="2.5" height="64.7" fill="#F16745" fill-opacity="0.3"/>
<path d="M726.95 133.6V211.7M725.15 133.6H728.75M725.15 211.7H728.75" stroke="#4CC3D9" stroke-width="1.15" fill="none"/>
<path d="M729.5 147V209M727.7 147H731.3M727.7 209H731.3" stroke="#4CC3D9" stroke-width="1.15" fill="none"/>
<path d="M732.06 146.5V209M730.26 146.5H733.86M730.26 209H733.86" stroke="#4CC3D9" stroke-width="1.15" fill="none"/>
<path d="M734.61 145.2V208.3M732.81 145.2H736.41M732.81 208.3H736.41" stroke="#7BC8A4" stroke-width="1.15" fill="none"/>
<path d="M737.17 150.3V208.3M735.37 150.3H738.97M735.37 208.3H738.97" stroke="#7BC8A4" stroke-width="1.15" fill="none"/>
<path d="M739.72 137V208.3M737.92 137H741.52M737.92 208.3H741.52" stroke="#7BC8A4" stroke-width="1.15" fill="none"/>
<path d="M742.28 143.6V209.9M740.48 143.6H744.08M740.48 209.9H744.08" stroke="#FFC65D" stroke-width="1.15" fill="none"/>
<path d="M744.83 143V209.9M743.03 143H746.63M743.03 209.9H746.63" stroke="#FFC65D" stroke-width="1.15" fill="none"/>
<path d="M747.39 145.2V209.9M745.59 145.2H749.19M745.59 209.9H749.19" stroke="#FFC65D" stroke-width="1.15" fill="none"/>
<path d="M749.94 144.8V209.5M748.14 144.8H751.74M748.14 209.5H751.74" stroke="#F16745" stroke-width="1.15" fill="none"/>
<path d="M752.5 142.5V209.5M750.7 142.5H754.3M750.7 209.5H754.3" stroke="#F16745" stroke-width="1.15" fill="none"/>
<path d="M755.05 144.8V209.5M753.25 144.8H756.85M753.25 209.5H756.85" stroke="#F16745" stroke-width="1.15" fill="none"/>
<line x1="724.5" x2="757.5" y1="106.7" y2="106.7" stroke="#D9609B" stroke-width="3.2"/>
<circle cx="726.95" cy="172.6" r="1.35" fill="#000"/>
<circle cx="729.5" cy="178.2" r="1.35" fill="#000"/>
<circle cx="732.06" cy="178.2" r="1.35" fill="#000"/>
<circle cx="734.61" cy="177.1" r="1.35" fill="#000"/>
<circle cx="737.17" cy="179.3" r="1.35" fill="#000"/>
<circle cx="739.72" cy="172.6" r="1.35" fill="#000"/>
<circle cx="742.28" cy="177.1" r="1.35" fill="#000"/>
<circle cx="744.83" cy="177.1" r="1.35" fill="#000"/>
<circle cx="747.39" cy="177.8" r="1.35" fill="#000"/>
<circle cx="749.94" cy="177.1" r="1.35" fill="#000"/>
<circle cx="752.5" cy="176.4" r="1.35" fill="#000"/>
<circle cx="755.05" cy="177.1" r="1.35" fill="#000"/>
<rect x="724.5" y="57" width="33" height="184.8" fill="none" stroke="#2B2B2B" stroke-width="1.6"/>
<rect x="64.5" y="19.8" width="304" height="12.3" fill="#FDEBDE" stroke="#000" stroke-width="1.3"/>
<text x="216.5" y="29.8" font-size="11" font-weight="bold" text-anchor="middle" fill="#3A3E5C" >WGBS</text>
<rect x="375.5" y="19.8" width="226" height="12.3" fill="#ACC4EA" stroke="#000" stroke-width="1.3"/>
<text x="488.5" y="29.8" font-size="11" font-weight="bold" text-anchor="middle" fill="#3A3E5C" >EMseq</text>
<rect x="608.5" y="19.8" width="149" height="12.3" fill="#3A3E5C" stroke="#000" stroke-width="1.3"/>
<text x="683" y="29.8" font-size="11" font-weight="bold" text-anchor="middle" fill="#FCEADD" >TAPS</text>
<rect x="64.5" y="32.1" width="71" height="12.4" fill="#FDEBDE" stroke="#000" stroke-width="1.3"/>
<text x="100" y="42.6" font-size="11" font-weight="bold" text-anchor="middle" fill="#3A3E5C" >A1</text>
<rect x="142.5" y="32.1" width="71" height="12.4" fill="#FDEBDE" stroke="#000" stroke-width="1.3"/>
<text x="178" y="42.6" font-size="11" font-weight="bold" text-anchor="middle" fill="#3A3E5C" >A2</text>
<rect x="219.5" y="32.1" width="72" height="12.4" fill="#FDEBDE" stroke="#000" stroke-width="1.3"/>
<text x="255.5" y="42.6" font-size="11" font-weight="bold" text-anchor="middle" fill="#3A3E5C" >A3</text>
<rect x="297.5" y="32.1" width="71" height="12.4" fill="#FDEBDE" stroke="#000" stroke-width="1.3"/>
<text x="333" y="42.6" font-size="11" font-weight="bold" text-anchor="middle" fill="#3A3E5C" >A4</text>
<rect x="375.5" y="32.1" width="71" height="12.4" fill="#ACC4EA" stroke="#000" stroke-width="1.3"/>
<text x="411" y="42.6" font-size="11" font-weight="bold" text-anchor="middle" fill="#3A3E5C" >A5</text>
<rect x="453.5" y="32.1" width="71" height="12.4" fill="#ACC4EA" stroke="#000" stroke-width="1.3"/>
<text x="489" y="42.6" font-size="11" font-weight="bold" text-anchor="middle" fill="#3A3E5C" >A6</text>
<rect x="530.5" y="32.1" width="71" height="12.4" fill="#ACC4EA" stroke="#000" stroke-width="1.3"/>
<text x="566" y="42.6" font-size="11" font-weight="bold" text-anchor="middle" fill="#3A3E5C" >A7</text>
<rect x="608.5" y="32.1" width="71" height="12.4" fill="#3A3E5C" stroke="#000" stroke-width="1.3"/>
<text x="644" y="42.6" font-size="11" font-weight="bold" text-anchor="middle" fill="#FCEADD" >A8</text>
<rect x="686.5" y="32.1" width="71" height="12.4" fill="#3A3E5C" stroke="#000" stroke-width="1.3"/>
<text x="722" y="42.6" font-size="11" font-weight="bold" text-anchor="middle" fill="#FCEADD" >A9</text>
<rect x="64.5" y="44.5" width="33" height="12.5" fill="#FDEBDE" stroke="#000" stroke-width="1.3"/>
<text x="81" y="54.7" font-size="11" font-weight="bold" text-anchor="middle" fill="#3A3E5C" >P1</text>
<rect x="103.5" y="44.5" width="32" height="12.5" fill="#FDEBDE" stroke="#000" stroke-width="1.3"/>
<text x="119.5" y="54.7" font-size="11" font-weight="bold" text-anchor="middle" fill="#3A3E5C" >P2</text>
<rect x="142.5" y="44.5" width="32" height="12.5" fill="#FDEBDE" stroke="#000" stroke-width="1.3"/>
<text x="158.5" y="54.7" font-size="11" font-weight="bold" text-anchor="middle" fill="#3A3E5C" >P1</text>
<rect x="181.5" y="44.5" width="32" height="12.5" fill="#FDEBDE" stroke="#000" stroke-width="1.3"/>
<text x="197.5" y="54.7" font-size="11" font-weight="bold" text-anchor="middle" fill="#3A3E5C" >P2</text>
<rect x="219.5" y="44.5" width="33" height="12.5" fill="#FDEBDE" stroke="#000" stroke-width="1.3"/>
<text x="236" y="54.7" font-size="11" font-weight="bold" text-anchor="middle" fill="#3A3E5C" >P1</text>
<rect x="258.5" y="44.5" width="33" height="12.5" fill="#FDEBDE" stroke="#000" stroke-width="1.3"/>
<text x="275" y="54.7" font-size="11" font-weight="bold" text-anchor="middle" fill="#3A3E5C" >P2</text>
<rect x="297.5" y="44.5" width="33" height="12.5" fill="#FDEBDE" stroke="#000" stroke-width="1.3"/>
<text x="314" y="54.7" font-size="11" font-weight="bold" text-anchor="middle" fill="#3A3E5C" >P1</text>
<rect x="336.5" y="44.5" width="32" height="12.5" fill="#FDEBDE" stroke="#000" stroke-width="1.3"/>
<text x="352.5" y="54.7" font-size="11" font-weight="bold" text-anchor="middle" fill="#3A3E5C" >P2</text>
<rect x="375.5" y="44.5" width="32" height="12.5" fill="#ACC4EA" stroke="#000" stroke-width="1.3"/>
<text x="391.5" y="54.7" font-size="11" font-weight="bold" text-anchor="middle" fill="#3A3E5C" >P1</text>
<rect x="414.5" y="44.5" width="32" height="12.5" fill="#ACC4EA" stroke="#000" stroke-width="1.3"/>
<text x="430.5" y="54.7" font-size="11" font-weight="bold" text-anchor="middle" fill="#3A3E5C" >P2</text>
<rect x="453.5" y="44.5" width="32" height="12.5" fill="#ACC4EA" stroke="#000" stroke-width="1.3"/>
<text x="469.5" y="54.7" font-size="11" font-weight="bold" text-anchor="middle" fill="#3A3E5C" >P1</text>
<rect x="491.5" y="44.5" width="33" height="12.5" fill="#ACC4EA" stroke="#000" stroke-width="1.3"/>
<text x="508" y="54.7" font-size="11" font-weight="bold" text-anchor="middle" fill="#3A3E5C" >P2</text>
<rect x="530.5" y="44.5" width="33" height="12.5" fill="#ACC4EA" stroke="#000" stroke-width="1.3"/>
<text x="547" y="54.7" font-size="11" font-weight="bold" text-anchor="middle" fill="#3A3E5C" >P1</text>
<rect x="569.5" y="44.5" width="32" height="12.5" fill="#ACC4EA" stroke="#000" stroke-width="1.3"/>
<text x="585.5" y="54.7" font-size="11" font-weight="bold" text-anchor="middle" fill="#3A3E5C" >P2</text>
<rect x="608.5" y="44.5" width="32" height="12.5" fill="#3A3E5C" stroke="#000" stroke-width="1.3"/>
<text x="624.5" y="54.7" font-size="11" font-weight="bold" text-anchor="middle" fill="#FCEADD" >P3</text>
<rect x="647.5" y="44.5" width="32" height="12.5" fill="#3A3E5C" stroke="#000" stroke-width="1.3"/>
<text x="663.5" y="54.7" font-size="11" font-weight="bold" text-anchor="middle" fill="#FCEADD" >P4</text>
<rect x="686.5" y="44.5" width="32" height="12.5" fill="#3A3E5C" stroke="#000" stroke-width="1.3"/>
<text x="702.5" y="54.7" font-size="11" font-weight="bold" text-anchor="middle" fill="#FCEADD" >P3</text>
<rect x="724.5" y="44.5" width="33" height="12.5" fill="#3A3E5C" stroke="#000" stroke-width="1.3"/>
<text x="741" y="54.7" font-size="11" font-weight="bold" text-anchor="middle" fill="#FCEADD" >P4</text>
<line x1="61.3" x2="64.5" y1="92.97" y2="92.97" stroke="#2B2B2B" stroke-width="1.1"/>
<text x="57.5" y="98.77" font-size="11.5" font-weight="normal" text-anchor="end" fill="#262626" >40%</text>
<line x1="61.3" x2="64.5" y1="149.1" y2="149.1" stroke="#2B2B2B" stroke-width="1.1"/>
<text x="57.5" y="154.9" font-size="11.5" font-weight="normal" text-anchor="end" fill="#262626" >20%</text>
<line x1="61.3" x2="64.5" y1="205.25" y2="205.25" stroke="#2B2B2B" stroke-width="1.1"/>
<text x="57.5" y="211.05" font-size="11.5" font-weight="normal" text-anchor="end" fill="#262626" >0%</text>
<line x1="757.5" x2="760.7" y1="92.97" y2="92.97" stroke="#2B2B2B" stroke-width="1.1"/>
<text x="765" y="98.77" font-size="11.5" font-weight="normal" text-anchor="start" fill="#262626" >20</text>
<line x1="757.5" x2="760.7" y1="121.04" y2="121.04" stroke="#2B2B2B" stroke-width="1.1"/>
<text x="765" y="126.84" font-size="11.5" font-weight="normal" text-anchor="start" fill="#262626" >15</text>
<line x1="757.5" x2="760.7" y1="149.1" y2="149.1" stroke="#2B2B2B" stroke-width="1.1"/>
<text x="765" y="154.9" font-size="11.5" font-weight="normal" text-anchor="start" fill="#262626" >10</text>
<line x1="757.5" x2="760.7" y1="177.2" y2="177.2" stroke="#2B2B2B" stroke-width="1.1"/>
<text x="765" y="183" font-size="11.5" font-weight="normal" text-anchor="start" fill="#262626" >5</text>
<line x1="757.5" x2="760.7" y1="205.25" y2="205.25" stroke="#2B2B2B" stroke-width="1.1"/>
<text x="765" y="211.05" font-size="11.5" font-weight="normal" text-anchor="start" fill="#262626" >0</text>
<text transform="translate(26.2,137.2) rotate(-90)" font-size="11.45" text-anchor="middle" fill="#000">Absolute strand bias (%)</text>
<text transform="translate(789.0,143.4) rotate(90)" font-size="11.6" text-anchor="middle" fill="#000">Mean cytosine depth (×)</text>
<text x="176.2" y="263.4" font-size="11.4" font-weight="bold" text-anchor="start" fill="#000" >Sample</text>
<line x1="232.7" x2="232.7" y1="250.6" y2="267.4" stroke="#4CC3D9" stroke-width="3.0"/>
<text x="241.7" y="263.4" font-size="11.4" font-weight="bold" text-anchor="start" fill="#000" >D5</text>
<line x1="283.2" x2="283.2" y1="250.6" y2="267.4" stroke="#7BC8A4" stroke-width="3.0"/>
<text x="292.2" y="263.4" font-size="11.4" font-weight="bold" text-anchor="start" fill="#000" >D6</text>
<line x1="334" x2="334" y1="250.6" y2="267.4" stroke="#FFC65D" stroke-width="3.0"/>
<text x="343" y="263.4" font-size="11.4" font-weight="bold" text-anchor="start" fill="#000" >F7</text>
<line x1="384.5" x2="384.5" y1="250.6" y2="267.4" stroke="#F16745" stroke-width="3.0"/>
<text x="393.5" y="263.4" font-size="11.4" font-weight="bold" text-anchor="start" fill="#000" >M8</text>
<text x="519.8" y="263.3" font-size="11.3" font-weight="bold" text-anchor="start" fill="#000" >Mean cytosine depth</text>
<line x1="649.8" x2="671.7" y1="260" y2="260" stroke="#D9609B" stroke-width="3.2"/>
<text x="-0.4" y="292.6" font-size="11" font-weight="bold" fill="#000">B</text>
<rect x="65.5" y="350" width="73" height="129" fill="#fff"/>
<line x1="65.5" x2="138.5" y1="359.7" y2="359.7" stroke="#E8E8E8" stroke-width="1.25"/>
<line x1="65.5" x2="138.5" y1="375.6" y2="375.6" stroke="#E8E8E8" stroke-width="1.25"/>
<line x1="65.5" x2="138.5" y1="391.4" y2="391.4" stroke="#E8E8E8" stroke-width="1.25"/>
<line x1="65.5" x2="138.5" y1="407.3" y2="407.3" stroke="#E8E8E8" stroke-width="1.25"/>
<line x1="65.5" x2="138.5" y1="423.1" y2="423.1" stroke="#E8E8E8" stroke-width="1.25"/>
<line x1="65.5" x2="138.5" y1="438.9" y2="438.9" stroke="#E8E8E8" stroke-width="1.25"/>
<line x1="65.5" x2="138.5" y1="454.8" y2="454.8" stroke="#E8E8E8" stroke-width="1.25"/>
<line x1="65.5" x2="138.5" y1="470.7" y2="470.7" stroke="#E8E8E8" stroke-width="1.25"/>
<line x1="102" x2="102" y1="350" y2="479" stroke="#E8E8E8" stroke-width="1.25"/>
<path d="M74.5 392.4V394.4M74.5 400.4V402.4" stroke="#333" stroke-width="1.35"/>
<rect x="72.65" y="394.4" width="3.7" height="6" fill="#9E0142" stroke="#111" stroke-width="1.4"/>
<line x1="72.65" x2="76.35" y1="396.4" y2="396.4" stroke="#111" stroke-width="1.5"/>
<path d="M80.5 398V399.2M80.5 404V407.2" stroke="#333" stroke-width="1.35"/>
<rect x="78.65" y="399.2" width="3.7" height="4.8" fill="#D53E4F" stroke="#111" stroke-width="1.4"/>
<line x1="78.65" x2="82.35" y1="401.2" y2="401.2" stroke="#111" stroke-width="1.5"/>
<path d="M85.5 406V407.2M85.5 412.7V415.2" stroke="#333" stroke-width="1.35"/>
<rect x="83.65" y="407.2" width="3.7" height="5.5" fill="#F46D43" stroke="#111" stroke-width="1.4"/>
<line x1="83.65" x2="87.35" y1="408.8" y2="408.8" stroke="#111" stroke-width="1.5"/>
<path d="M91.5 413.1V414.3M91.5 419V421.6" stroke="#333" stroke-width="1.35"/>
<rect x="89.65" y="414.3" width="3.7" height="4.7" fill="#FDAE61" stroke="#111" stroke-width="1.4"/>
<line x1="89.65" x2="93.35" y1="416.8" y2="416.8" stroke="#111" stroke-width="1.5"/>
<path d="M96.5 418.4V419.5M96.5 424.3V426.4" stroke="#333" stroke-width="1.35"/>
<rect x="94.65" y="419.5" width="3.7" height="4.8" fill="#FEE08B" stroke="#111" stroke-width="1.4"/>
<line x1="94.65" x2="98.35" y1="421.9" y2="421.9" stroke="#111" stroke-width="1.5"/>
<path d="M102.5 422.7V423.8M102.5 428.3V430.2" stroke="#333" stroke-width="1.35"/>
<rect x="100.65" y="423.8" width="3.7" height="4.5" fill="#FFFFBF" stroke="#111" stroke-width="1.4"/>
<line x1="100.65" x2="104.35" y1="425.9" y2="425.9" stroke="#111" stroke-width="1.5"/>
<path d="M107.5 426.4V427.5M107.5 432.3V434.4" stroke="#333" stroke-width="1.35"/>
<rect x="105.65" y="427.5" width="3.7" height="4.8" fill="#E6F598" stroke="#111" stroke-width="1.4"/>
<line x1="105.65" x2="109.35" y1="429.4" y2="429.4" stroke="#111" stroke-width="1.5"/>
<path d="M113.5 430.2V431.5M113.5 435.5V437.1" stroke="#333" stroke-width="1.35"/>
<rect x="111.65" y="431.5" width="3.7" height="4" fill="#ABDDA4" stroke="#111" stroke-width="1.4"/>
<line x1="111.65" x2="115.35" y1="433.1" y2="433.1" stroke="#111" stroke-width="1.5"/>
<path d="M118.5 433.4V434.4M118.5 437.9V439.5" stroke="#333" stroke-width="1.35"/>
<rect x="116.65" y="434.4" width="3.7" height="3.5" fill="#66C2A5" stroke="#111" stroke-width="1.4"/>
<line x1="116.65" x2="120.35" y1="436" y2="436" stroke="#111" stroke-width="1.5"/>
<path d="M124.5 435.5V436.6M124.5 439.8V441.4" stroke="#333" stroke-width="1.35"/>
<rect x="122.65" y="436.6" width="3.7" height="3.2" fill="#3288BD" stroke="#111" stroke-width="1.4"/>
<line x1="122.65" x2="126.35" y1="437.9" y2="437.9" stroke="#111" stroke-width="1.5"/>
<path d="M129.5 438.2V439.2M129.5 442.7V444.3" stroke="#333" stroke-width="1.35"/>
<rect x="127.65" y="439.2" width="3.7" height="3.5" fill="#5E4FA2" stroke="#111" stroke-width="1.4"/>
<line x1="127.65" x2="131.35" y1="440.8" y2="440.8" stroke="#111" stroke-width="1.5"/>
<rect x="65.5" y="350" width="73" height="129" fill="none" stroke="#2B2B2B" stroke-width="1.6"/>
<rect x="143.5" y="350" width="72" height="129" fill="#fff"/>
<line x1="143.5" x2="215.5" y1="359.7" y2="359.7" stroke="#E8E8E8" stroke-width="1.25"/>
<line x1="143.5" x2="215.5" y1="375.6" y2="375.6" stroke="#E8E8E8" stroke-width="1.25"/>
<line x1="143.5" x2="215.5" y1="391.4" y2="391.4" stroke="#E8E8E8" stroke-width="1.25"/>
<line x1="143.5" x2="215.5" y1="407.3" y2="407.3" stroke="#E8E8E8" stroke-width="1.25"/>
<line x1="143.5" x2="215.5" y1="423.1" y2="423.1" stroke="#E8E8E8" stroke-width="1.25"/>
<line x1="143.5" x2="215.5" y1="438.9" y2="438.9" stroke="#E8E8E8" stroke-width="1.25"/>
<line x1="143.5" x2="215.5" y1="454.8" y2="454.8" stroke="#E8E8E8" stroke-width="1.25"/>
<line x1="143.5" x2="215.5" y1="470.7" y2="470.7" stroke="#E8E8E8" stroke-width="1.25"/>
<line x1="179.5" x2="179.5" y1="350" y2="479" stroke="#E8E8E8" stroke-width="1.25"/>
<path d="M152.5 408.3V410.4M152.5 421.9V424.3" stroke="#333" stroke-width="1.35"/>
<rect x="150.65" y="410.4" width="3.7" height="11.5" fill="#9E0142" stroke="#111" stroke-width="1.4"/>
<line x1="150.65" x2="154.35" y1="415.2" y2="415.2" stroke="#111" stroke-width="1.5"/>
<path d="M157.5 411.5V413.6M157.5 422.7V426.4" stroke="#333" stroke-width="1.35"/>
<rect x="155.65" y="413.6" width="3.7" height="9.1" fill="#D53E4F" stroke="#111" stroke-width="1.4"/>
<line x1="155.65" x2="159.35" y1="417.9" y2="417.9" stroke="#111" stroke-width="1.5"/>
<path d="M163.5 415.9V417.9M163.5 425.4V430.7" stroke="#333" stroke-width="1.35"/>
<rect x="161.65" y="417.9" width="3.7" height="7.5" fill="#F46D43" stroke="#111" stroke-width="1.4"/>
<line x1="161.65" x2="165.35" y1="421.1" y2="421.1" stroke="#111" stroke-width="1.5"/>
<path d="M168.5 420.3V422.3M168.5 428V433.9" stroke="#333" stroke-width="1.35"/>
<rect x="166.65" y="422.3" width="3.7" height="5.7" fill="#FDAE61" stroke="#111" stroke-width="1.4"/>
<line x1="166.65" x2="170.35" y1="424.3" y2="424.3" stroke="#111" stroke-width="1.5"/>
<path d="M174.5 424.3V426.4M174.5 431.2V437.1" stroke="#333" stroke-width="1.35"/>
<rect x="172.65" y="426.4" width="3.7" height="4.8" fill="#FEE08B" stroke="#111" stroke-width="1.4"/>
<line x1="172.65" x2="176.35" y1="428.3" y2="428.3" stroke="#111" stroke-width="1.5"/>
<path d="M179.5 428V429.1M179.5 433.4V437.6" stroke="#333" stroke-width="1.35"/>
<rect x="177.65" y="429.1" width="3.7" height="4.3" fill="#FFFFBF" stroke="#111" stroke-width="1.4"/>
<line x1="177.65" x2="181.35" y1="431.2" y2="431.2" stroke="#111" stroke-width="1.5"/>
<circle cx="179.5" cy="440.3" r="0.6" fill="#111"/>
<path d="M185.5 431.2V433.1M185.5 437.1V439.8" stroke="#333" stroke-width="1.35"/>
<rect x="183.65" y="433.1" width="3.7" height="4" fill="#E6F598" stroke="#111" stroke-width="1.4"/>
<line x1="183.65" x2="187.35" y1="435" y2="435" stroke="#111" stroke-width="1.5"/>
<circle cx="185.5" cy="443.5" r="0.6" fill="#111"/>
<path d="M190.5 435.5V436.3M190.5 439.8V443" stroke="#333" stroke-width="1.35"/>
<rect x="188.65" y="436.3" width="3.7" height="3.5" fill="#ABDDA4" stroke="#111" stroke-width="1.4"/>
<line x1="188.65" x2="192.35" y1="437.9" y2="437.9" stroke="#111" stroke-width="1.5"/>
<circle cx="190.5" cy="445.9" r="0.6" fill="#111"/>
<circle cx="190.5" cy="447.5" r="0.6" fill="#111"/>
<path d="M196.5 438.7V439.8M196.5 444V447.8" stroke="#333" stroke-width="1.35"/>
<rect x="194.65" y="439.8" width="3.7" height="4.2" fill="#66C2A5" stroke="#111" stroke-width="1.4"/>
<line x1="194.65" x2="198.35" y1="441.9" y2="441.9" stroke="#111" stroke-width="1.5"/>
<circle cx="196.5" cy="450.4" r="0.6" fill="#111"/>
<path d="M201.5 440.8V441.9M201.5 447.2V452.3" stroke="#333" stroke-width="1.35"/>
<rect x="199.65" y="441.9" width="3.7" height="5.3" fill="#3288BD" stroke="#111" stroke-width="1.4"/>
<line x1="199.65" x2="203.35" y1="444.6" y2="444.6" stroke="#111" stroke-width="1.5"/>
<path d="M207.5 442.4V444.6M207.5 449.4V453.9" stroke="#333" stroke-width="1.35"/>
<rect x="205.65" y="444.6" width="3.7" height="4.8" fill="#5E4FA2" stroke="#111" stroke-width="1.4"/>
<line x1="205.65" x2="209.35" y1="446.7" y2="446.7" stroke="#111" stroke-width="1.5"/>
<rect x="143.5" y="350" width="72" height="129" fill="none" stroke="#2B2B2B" stroke-width="1.6"/>
<rect x="220.5" y="350" width="73" height="129" fill="#fff"/>
<line x1="220.5" x2="293.5" y1="359.7" y2="359.7" stroke="#E8E8E8" stroke-width="1.25"/>
<line x1="220.5" x2="293.5" y1="375.6" y2="375.6" stroke="#E8E8E8" stroke-width="1.25"/>
<line x1="220.5" x2="293.5" y1="391.4" y2="391.4" stroke="#E8E8E8" stroke-width="1.25"/>
<line x1="220.5" x2="293.5" y1="407.3" y2="407.3" stroke="#E8E8E8" stroke-width="1.25"/>
<line x1="220.5" x2="293.5" y1="423.1" y2="423.1" stroke="#E8E8E8" stroke-width="1.25"/>
<line x1="220.5" x2="293.5" y1="438.9" y2="438.9" stroke="#E8E8E8" stroke-width="1.25"/>
<line x1="220.5" x2="293.5" y1="454.8" y2="454.8" stroke="#E8E8E8" stroke-width="1.25"/>
<line x1="220.5" x2="293.5" y1="470.7" y2="470.7" stroke="#E8E8E8" stroke-width="1.25"/>
<line x1="257" x2="257" y1="350" y2="479" stroke="#E8E8E8" stroke-width="1.25"/>
<path d="M229.5 364.1V369.2M229.5 375.3V381.2" stroke="#333" stroke-width="1.35"/>
<rect x="227.65" y="369.2" width="3.7" height="6.1" fill="#9E0142" stroke="#111" stroke-width="1.4"/>
<line x1="227.65" x2="231.35" y1="372.4" y2="372.4" stroke="#111" stroke-width="1.5"/>
<circle cx="229.5" cy="356.4" r="0.6" fill="#111"/>
<circle cx="229.5" cy="384.4" r="0.6" fill="#111"/>
<path d="M235.5 382V386.4M235.5 391.2V395.6" stroke="#333" stroke-width="1.35"/>
<rect x="233.65" y="386.4" width="3.7" height="4.8" fill="#D53E4F" stroke="#111" stroke-width="1.4"/>
<line x1="233.65" x2="237.35" y1="388.4" y2="388.4" stroke="#111" stroke-width="1.5"/>
<circle cx="235.5" cy="379.6" r="0.6" fill="#111"/>
<path d="M240.5 404.3V407.5M240.5 412.3V413.9" stroke="#333" stroke-width="1.35"/>
<rect x="238.65" y="407.5" width="3.7" height="4.8" fill="#F46D43" stroke="#111" stroke-width="1.4"/>
<line x1="238.65" x2="242.35" y1="409.5" y2="409.5" stroke="#111" stroke-width="1.5"/>
<path d="M246.5 417.1V420.7M246.5 425.1V425.9" stroke="#333" stroke-width="1.35"/>
<rect x="244.65" y="420.7" width="3.7" height="4.4" fill="#FDAE61" stroke="#111" stroke-width="1.4"/>
<line x1="244.65" x2="248.35" y1="422.7" y2="422.7" stroke="#111" stroke-width="1.5"/>
<path d="M251.5 427.5V429.1M251.5 432.3V433.4" stroke="#333" stroke-width="1.35"/>
<rect x="249.65" y="429.1" width="3.7" height="3.2" fill="#FEE08B" stroke="#111" stroke-width="1.4"/>
<line x1="249.65" x2="253.35" y1="430.7" y2="430.7" stroke="#111" stroke-width="1.5"/>
<path d="M257.5 433.1V434.4M257.5 437.1V438.2" stroke="#333" stroke-width="1.35"/>
<rect x="255.65" y="434.4" width="3.7" height="2.7" fill="#FFFFBF" stroke="#111" stroke-width="1.4"/>
<line x1="255.65" x2="259.35" y1="435.8" y2="435.8" stroke="#111" stroke-width="1.5"/>
<path d="M262.5 437.1V438.2M262.5 441.1V442.4" stroke="#333" stroke-width="1.35"/>
<rect x="260.65" y="438.2" width="3.7" height="2.9" fill="#E6F598" stroke="#111" stroke-width="1.4"/>
<line x1="260.65" x2="264.35" y1="439.8" y2="439.8" stroke="#111" stroke-width="1.5"/>
<path d="M268.5 440.3V441.4M268.5 444V445.1" stroke="#333" stroke-width="1.35"/>
<rect x="266.65" y="441.4" width="3.7" height="2.6" fill="#ABDDA4" stroke="#111" stroke-width="1.4"/>
<line x1="266.65" x2="270.35" y1="442.7" y2="442.7" stroke="#111" stroke-width="1.5"/>
<path d="M273.5 443.5V444.3M273.5 446.7V447.8" stroke="#333" stroke-width="1.35"/>
<rect x="271.65" y="444.3" width="3.7" height="2.4" fill="#66C2A5" stroke="#111" stroke-width="1.4"/>
<line x1="271.65" x2="275.35" y1="445.6" y2="445.6" stroke="#111" stroke-width="1.5"/>
<path d="M279.5 445.6V446.2M279.5 448.3V449.4" stroke="#333" stroke-width="1.35"/>
<rect x="277.65" y="446.2" width="3.7" height="2.1" fill="#3288BD" stroke="#111" stroke-width="1.4"/>
<line x1="277.65" x2="281.35" y1="447.2" y2="447.2" stroke="#111" stroke-width="1.5"/>
<path d="M284.5 447.2V447.8M284.5 450.4V451.5" stroke="#333" stroke-width="1.35"/>
<rect x="282.65" y="447.8" width="3.7" height="2.6" fill="#5E4FA2" stroke="#111" stroke-width="1.4"/>
<line x1="282.65" x2="286.35" y1="449.1" y2="449.1" stroke="#111" stroke-width="1.5"/>
<rect x="220.5" y="350" width="73" height="129" fill="none" stroke="#2B2B2B" stroke-width="1.6"/>
<rect x="297.5" y="350" width="73" height="129" fill="#fff"/>
<line x1="297.5" x2="370.5" y1="359.7" y2="359.7" stroke="#E8E8E8" stroke-width="1.25"/>
<line x1="297.5" x2="370.5" y1="375.6" y2="375.6" stroke="#E8E8E8" stroke-width="1.25"/>
<line x1="297.5" x2="370.5" y1="391.4" y2="391.4" stroke="#E8E8E8" stroke-width="1.25"/>
<line x1="297.5" x2="370.5" y1="407.3" y2="407.3" stroke="#E8E8E8" stroke-width="1.25"/>
<line x1="297.5" x2="370.5" y1="423.1" y2="423.1" stroke="#E8E8E8" stroke-width="1.25"/>
<line x1="297.5" x2="370.5" y1="438.9" y2="438.9" stroke="#E8E8E8" stroke-width="1.25"/>
<line x1="297.5" x2="370.5" y1="454.8" y2="454.8" stroke="#E8E8E8" stroke-width="1.25"/>
<line x1="297.5" x2="370.5" y1="470.7" y2="470.7" stroke="#E8E8E8" stroke-width="1.25"/>
<line x1="334" x2="334" y1="350" y2="479" stroke="#E8E8E8" stroke-width="1.25"/>
<path d="M306.5 403.1V422.3M306.5 437.1V442.4" stroke="#333" stroke-width="1.35"/>
<rect x="304.65" y="422.3" width="3.7" height="14.8" fill="#9E0142" stroke="#111" stroke-width="1.4"/>
<line x1="304.65" x2="308.35" y1="427" y2="427" stroke="#111" stroke-width="1.5"/>
<path d="M312.5 406.7V423.8M312.5 438.2V442.7" stroke="#333" stroke-width="1.35"/>
<rect x="310.65" y="423.8" width="3.7" height="14.4" fill="#D53E4F" stroke="#111" stroke-width="1.4"/>
<line x1="310.65" x2="314.35" y1="428.3" y2="428.3" stroke="#111" stroke-width="1.5"/>
<path d="M317.5 413.6V427M317.5 441.1V444" stroke="#333" stroke-width="1.35"/>
<rect x="315.65" y="427" width="3.7" height="14.1" fill="#F46D43" stroke="#111" stroke-width="1.4"/>
<line x1="315.65" x2="319.35" y1="431.5" y2="431.5" stroke="#111" stroke-width="1.5"/>
<path d="M323.5 420V430.2M323.5 442.7V444.6" stroke="#333" stroke-width="1.35"/>
<rect x="321.65" y="430.2" width="3.7" height="12.5" fill="#FDAE61" stroke="#111" stroke-width="1.4"/>
<line x1="321.65" x2="325.35" y1="433.4" y2="433.4" stroke="#111" stroke-width="1.5"/>
<path d="M328.5 426.4V433.9M328.5 444.3V445.9" stroke="#333" stroke-width="1.35"/>
<rect x="326.65" y="433.9" width="3.7" height="10.4" fill="#FEE08B" stroke="#111" stroke-width="1.4"/>
<line x1="326.65" x2="330.35" y1="436.6" y2="436.6" stroke="#111" stroke-width="1.5"/>
<path d="M334.5 432.3V437.1M334.5 446.2V447.5" stroke="#333" stroke-width="1.35"/>
<rect x="332.65" y="437.1" width="3.7" height="9.1" fill="#FFFFBF" stroke="#111" stroke-width="1.4"/>
<line x1="332.65" x2="336.35" y1="440.8" y2="440.8" stroke="#111" stroke-width="1.5"/>
<path d="M339.5 436.3V440.3M339.5 447.8V449.1" stroke="#333" stroke-width="1.35"/>
<rect x="337.65" y="440.3" width="3.7" height="7.5" fill="#E6F598" stroke="#111" stroke-width="1.4"/>
<line x1="337.65" x2="341.35" y1="442.7" y2="442.7" stroke="#111" stroke-width="1.5"/>
<path d="M345.5 439.8V443.5M345.5 449.9V451" stroke="#333" stroke-width="1.35"/>
<rect x="343.65" y="443.5" width="3.7" height="6.4" fill="#ABDDA4" stroke="#111" stroke-width="1.4"/>
<line x1="343.65" x2="347.35" y1="445.9" y2="445.9" stroke="#111" stroke-width="1.5"/>
<path d="M350.5 441.9V445.6M350.5 452V453.1" stroke="#333" stroke-width="1.35"/>
<rect x="348.65" y="445.6" width="3.7" height="6.4" fill="#66C2A5" stroke="#111" stroke-width="1.4"/>
<line x1="348.65" x2="352.35" y1="447.8" y2="447.8" stroke="#111" stroke-width="1.5"/>
<path d="M356.5 444.3V448.3M356.5 453.6V455.8" stroke="#333" stroke-width="1.35"/>
<rect x="354.65" y="448.3" width="3.7" height="5.3" fill="#3288BD" stroke="#111" stroke-width="1.4"/>
<line x1="354.65" x2="358.35" y1="450.4" y2="450.4" stroke="#111" stroke-width="1.5"/>
<path d="M361.5 446.7V449.4M361.5 455.5V458.7" stroke="#333" stroke-width="1.35"/>
<rect x="359.65" y="449.4" width="3.7" height="6.1" fill="#5E4FA2" stroke="#111" stroke-width="1.4"/>
<line x1="359.65" x2="363.35" y1="452" y2="452" stroke="#111" stroke-width="1.5"/>
<rect x="297.5" y="350" width="73" height="129" fill="none" stroke="#2B2B2B" stroke-width="1.6"/>
<rect x="375.5" y="350" width="72" height="129" fill="#fff"/>
<line x1="375.5" x2="447.5" y1="359.7" y2="359.7" stroke="#E8E8E8" stroke-width="1.25"/>
<line x1="375.5" x2="447.5" y1="375.6" y2="375.6" stroke="#E8E8E8" stroke-width="1.25"/>
<line x1="375.5" x2="447.5" y1="391.4" y2="391.4" stroke="#E8E8E8" stroke-width="1.25"/>
<line x1="375.5" x2="447.5" y1="407.3" y2="407.3" stroke="#E8E8E8" stroke-width="1.25"/>
<line x1="375.5" x2="447.5" y1="423.1" y2="423.1" stroke="#E8E8E8" stroke-width="1.25"/>
<line x1="375.5" x2="447.5" y1="438.9" y2="438.9" stroke="#E8E8E8" stroke-width="1.25"/>
<line x1="375.5" x2="447.5" y1="454.8" y2="454.8" stroke="#E8E8E8" stroke-width="1.25"/>
<line x1="375.5" x2="447.5" y1="470.7" y2="470.7" stroke="#E8E8E8" stroke-width="1.25"/>
<line x1="411.5" x2="411.5" y1="350" y2="479" stroke="#E8E8E8" stroke-width="1.25"/>
<path d="M384.5 435.5V442.4M384.5 448.3V456.3" stroke="#333" stroke-width="1.35"/>
<rect x="382.65" y="442.4" width="3.7" height="5.9" fill="#9E0142" stroke="#111" stroke-width="1.4"/>
<line x1="382.65" x2="386.35" y1="445.1" y2="445.1" stroke="#111" stroke-width="1.5"/>
<circle cx="384.5" cy="431.5" r="0.6" fill="#111"/>
<path d="M389.5 436.3V442.7M389.5 448.3V456.3" stroke="#333" stroke-width="1.35"/>
<rect x="387.65" y="442.7" width="3.7" height="5.6" fill="#D53E4F" stroke="#111" stroke-width="1.4"/>
<line x1="387.65" x2="391.35" y1="445.1" y2="445.1" stroke="#111" stroke-width="1.5"/>
<circle cx="389.5" cy="432.8" r="0.6" fill="#111"/>
<path d="M395.5 437.1V443.5M395.5 448.8V457.1" stroke="#333" stroke-width="1.35"/>
<rect x="393.65" y="443.5" width="3.7" height="5.3" fill="#F46D43" stroke="#111" stroke-width="1.4"/>
<line x1="393.65" x2="397.35" y1="445.9" y2="445.9" stroke="#111" stroke-width="1.5"/>
<circle cx="395.5" cy="433.9" r="0.6" fill="#111"/>
<path d="M400.5 437.9V444.3M400.5 449.4V457.4" stroke="#333" stroke-width="1.35"/>
<rect x="398.65" y="444.3" width="3.7" height="5.1" fill="#FDAE61" stroke="#111" stroke-width="1.4"/>
<line x1="398.65" x2="402.35" y1="446.7" y2="446.7" stroke="#111" stroke-width="1.5"/>
<circle cx="400.5" cy="435.5" r="0.6" fill="#111"/>
<path d="M406.5 437.6V445.1M406.5 450.4V457.9" stroke="#333" stroke-width="1.35"/>
<rect x="404.65" y="445.1" width="3.7" height="5.3" fill="#FEE08B" stroke="#111" stroke-width="1.4"/>
<line x1="404.65" x2="408.35" y1="447.5" y2="447.5" stroke="#111" stroke-width="1.5"/>
<path d="M411.5 442.4V446.7M411.5 451V453.9" stroke="#333" stroke-width="1.35"/>
<rect x="409.65" y="446.7" width="3.7" height="4.3" fill="#FFFFBF" stroke="#111" stroke-width="1.4"/>
<line x1="409.65" x2="413.35" y1="448.8" y2="448.8" stroke="#111" stroke-width="1.5"/>
<circle cx="411.5" cy="440.3" r="0.6" fill="#111"/>
<circle cx="411.5" cy="457.4" r="0.6" fill="#111"/>
<path d="M417.5 444.6V448.3M417.5 452V454.7" stroke="#333" stroke-width="1.35"/>
<rect x="415.65" y="448.3" width="3.7" height="3.7" fill="#E6F598" stroke="#111" stroke-width="1.4"/>
<line x1="415.65" x2="419.35" y1="449.9" y2="449.9" stroke="#111" stroke-width="1.5"/>
<circle cx="417.5" cy="443.5" r="0.6" fill="#111"/>
<circle cx="417.5" cy="457.4" r="0.6" fill="#111"/>
<path d="M422.5 446.2V449.9M422.5 453.6V455.5" stroke="#333" stroke-width="1.35"/>
<rect x="420.65" y="449.9" width="3.7" height="3.7" fill="#ABDDA4" stroke="#111" stroke-width="1.4"/>
<line x1="420.65" x2="424.35" y1="451.5" y2="451.5" stroke="#111" stroke-width="1.5"/>
<circle cx="422.5" cy="457.9" r="0.6" fill="#111"/>
<path d="M428.5 448.8V451.5M428.5 454.7V456.3" stroke="#333" stroke-width="1.35"/>
<rect x="426.65" y="451.5" width="3.7" height="3.2" fill="#66C2A5" stroke="#111" stroke-width="1.4"/>
<line x1="426.65" x2="430.35" y1="453.1" y2="453.1" stroke="#111" stroke-width="1.5"/>
<circle cx="428.5" cy="457.9" r="0.6" fill="#111"/>
<path d="M433.5 451V454.2M433.5 456.8V457.9" stroke="#333" stroke-width="1.35"/>
<rect x="431.65" y="454.2" width="3.7" height="2.6" fill="#3288BD" stroke="#111" stroke-width="1.4"/>
<line x1="431.65" x2="435.35" y1="455.5" y2="455.5" stroke="#111" stroke-width="1.5"/>
<path d="M439.5 452.3V455.5M439.5 458.7V459.5" stroke="#333" stroke-width="1.35"/>
<rect x="437.65" y="455.5" width="3.7" height="3.2" fill="#5E4FA2" stroke="#111" stroke-width="1.4"/>
<line x1="437.65" x2="441.35" y1="456.8" y2="456.8" stroke="#111" stroke-width="1.5"/>
<rect x="375.5" y="350" width="72" height="129" fill="none" stroke="#2B2B2B" stroke-width="1.6"/>
<rect x="452.5" y="350" width="73" height="129" fill="#fff"/>
<line x1="452.5" x2="525.5" y1="359.7" y2="359.7" stroke="#E8E8E8" stroke-width="1.25"/>
<line x1="452.5" x2="525.5" y1="375.6" y2="375.6" stroke="#E8E8E8" stroke-width="1.25"/>
<line x1="452.5" x2="525.5" y1="391.4" y2="391.4" stroke="#E8E8E8" stroke-width="1.25"/>
<line x1="452.5" x2="525.5" y1="407.3" y2="407.3" stroke="#E8E8E8" stroke-width="1.25"/>
<line x1="452.5" x2="525.5" y1="423.1" y2="423.1" stroke="#E8E8E8" stroke-width="1.25"/>
<line x1="452.5" x2="525.5" y1="438.9" y2="438.9" stroke="#E8E8E8" stroke-width="1.25"/>
<line x1="452.5" x2="525.5" y1="454.8" y2="454.8" stroke="#E8E8E8" stroke-width="1.25"/>
<line x1="452.5" x2="525.5" y1="470.7" y2="470.7" stroke="#E8E8E8" stroke-width="1.25"/>
<line x1="489" x2="489" y1="350" y2="479" stroke="#E8E8E8" stroke-width="1.25"/>
<path d="M461.5 429.1V432.3M461.5 436.3V439.2" stroke="#333" stroke-width="1.35"/>
<rect x="459.65" y="432.3" width="3.7" height="4" fill="#9E0142" stroke="#111" stroke-width="1.4"/>
<line x1="459.65" x2="463.35" y1="434.4" y2="434.4" stroke="#111" stroke-width="1.5"/>
<circle cx="461.5" cy="424.8" r="0.6" fill="#111"/>
<path d="M467.5 429.9V432.8M467.5 437.6V440.3" stroke="#333" stroke-width="1.35"/>
<rect x="465.65" y="432.8" width="3.7" height="4.8" fill="#D53E4F" stroke="#111" stroke-width="1.4"/>
<line x1="465.65" x2="469.35" y1="435" y2="435" stroke="#111" stroke-width="1.5"/>
<circle cx="467.5" cy="426.4" r="0.6" fill="#111"/>
<path d="M472.5 428.3V433.4M472.5 438.2V441.1" stroke="#333" stroke-width="1.35"/>
<rect x="470.65" y="433.4" width="3.7" height="4.8" fill="#F46D43" stroke="#111" stroke-width="1.4"/>
<line x1="470.65" x2="474.35" y1="436.3" y2="436.3" stroke="#111" stroke-width="1.5"/>
<path d="M478.5 430.2V435M478.5 439.2V441.9" stroke="#333" stroke-width="1.35"/>
<rect x="476.65" y="435" width="3.7" height="4.2" fill="#FDAE61" stroke="#111" stroke-width="1.4"/>
<line x1="476.65" x2="480.35" y1="437.1" y2="437.1" stroke="#111" stroke-width="1.5"/>
<path d="M483.5 432.3V436.3M483.5 440.3V442.7" stroke="#333" stroke-width="1.35"/>
<rect x="481.65" y="436.3" width="3.7" height="4" fill="#FEE08B" stroke="#111" stroke-width="1.4"/>
<line x1="481.65" x2="485.35" y1="438.2" y2="438.2" stroke="#111" stroke-width="1.5"/>
<path d="M489.5 435V438.7M489.5 442.4V444.3" stroke="#333" stroke-width="1.35"/>
<rect x="487.65" y="438.7" width="3.7" height="3.7" fill="#FFFFBF" stroke="#111" stroke-width="1.4"/>
<line x1="487.65" x2="491.35" y1="440.8" y2="440.8" stroke="#111" stroke-width="1.5"/>
<path d="M494.5 438.2V441.1M494.5 444.3V445.6" stroke="#333" stroke-width="1.35"/>
<rect x="492.65" y="441.1" width="3.7" height="3.2" fill="#E6F598" stroke="#111" stroke-width="1.4"/>
<line x1="492.65" x2="496.35" y1="442.7" y2="442.7" stroke="#111" stroke-width="1.5"/>
<path d="M500.5 441.4V443M500.5 445.9V447.2" stroke="#333" stroke-width="1.35"/>
<rect x="498.65" y="443" width="3.7" height="2.9" fill="#ABDDA4" stroke="#111" stroke-width="1.4"/>
<line x1="498.65" x2="502.35" y1="444.6" y2="444.6" stroke="#111" stroke-width="1.5"/>
<path d="M505.5 444.3V445.6M505.5 448.3V449.1" stroke="#333" stroke-width="1.35"/>
<rect x="503.65" y="445.6" width="3.7" height="2.7" fill="#66C2A5" stroke="#111" stroke-width="1.4"/>
<line x1="503.65" x2="507.35" y1="446.7" y2="446.7" stroke="#111" stroke-width="1.5"/>
<path d="M511.5 445.9V446.7M511.5 449.1V450.4" stroke="#333" stroke-width="1.35"/>
<rect x="509.65" y="446.7" width="3.7" height="2.4" fill="#3288BD" stroke="#111" stroke-width="1.4"/>
<line x1="509.65" x2="513.35" y1="448" y2="448" stroke="#111" stroke-width="1.5"/>
<path d="M516.5 447.5V448.3M516.5 450.7V451.5" stroke="#333" stroke-width="1.35"/>
<rect x="514.65" y="448.3" width="3.7" height="2.4" fill="#5E4FA2" stroke="#111" stroke-width="1.4"/>
<line x1="514.65" x2="518.35" y1="449.4" y2="449.4" stroke="#111" stroke-width="1.5"/>
<rect x="452.5" y="350" width="73" height="129" fill="none" stroke="#2B2B2B" stroke-width="1.6"/>
<rect x="530.5" y="350" width="72" height="129" fill="#fff"/>
<line x1="530.5" x2="602.5" y1="359.7" y2="359.7" stroke="#E8E8E8" stroke-width="1.25"/>
<line x1="530.5" x2="602.5" y1="375.6" y2="375.6" stroke="#E8E8E8" stroke-width="1.25"/>
<line x1="530.5" x2="602.5" y1="391.4" y2="391.4" stroke="#E8E8E8" stroke-width="1.25"/>
<line x1="530.5" x2="602.5" y1="407.3" y2="407.3" stroke="#E8E8E8" stroke-width="1.25"/>
<line x1="530.5" x2="602.5" y1="423.1" y2="423.1" stroke="#E8E8E8" stroke-width="1.25"/>
<line x1="530.5" x2="602.5" y1="438.9" y2="438.9" stroke="#E8E8E8" stroke-width="1.25"/>
<line x1="530.5" x2="602.5" y1="454.8" y2="454.8" stroke="#E8E8E8" stroke-width="1.25"/>
<line x1="530.5" x2="602.5" y1="470.7" y2="470.7" stroke="#E8E8E8" stroke-width="1.25"/>
<line x1="566.5" x2="566.5" y1="350" y2="479" stroke="#E8E8E8" stroke-width="1.25"/>
<path d="M539.5 397.6V405.1M539.5 412.7V420.3" stroke="#333" stroke-width="1.35"/>
<rect x="537.65" y="405.1" width="3.7" height="7.6" fill="#9E0142" stroke="#111" stroke-width="1.4"/>
<line x1="537.65" x2="541.35" y1="409.1" y2="409.1" stroke="#111" stroke-width="1.5"/>
<path d="M544.5 405.9V412.7M544.5 419V422.7" stroke="#333" stroke-width="1.35"/>
<rect x="542.65" y="412.7" width="3.7" height="6.3" fill="#D53E4F" stroke="#111" stroke-width="1.4"/>
<line x1="542.65" x2="546.35" y1="414.7" y2="414.7" stroke="#111" stroke-width="1.5"/>
<path d="M550.5 418.4V423.5M550.5 432.3V436.6" stroke="#333" stroke-width="1.35"/>
<rect x="548.65" y="423.5" width="3.7" height="8.8" fill="#F46D43" stroke="#111" stroke-width="1.4"/>
<line x1="548.65" x2="552.35" y1="427.5" y2="427.5" stroke="#111" stroke-width="1.5"/>
<path d="M555.5 428V430.7M555.5 441.9V445.6" stroke="#333" stroke-width="1.35"/>
<rect x="553.65" y="430.7" width="3.7" height="11.2" fill="#FDAE61" stroke="#111" stroke-width="1.4"/>
<line x1="553.65" x2="557.35" y1="433.9" y2="433.9" stroke="#111" stroke-width="1.5"/>
<path d="M561.5 435.5V437.1M561.5 448.8V452.3" stroke="#333" stroke-width="1.35"/>
<rect x="559.65" y="437.1" width="3.7" height="11.7" fill="#FEE08B" stroke="#111" stroke-width="1.4"/>
<line x1="559.65" x2="563.35" y1="440.8" y2="440.8" stroke="#111" stroke-width="1.5"/>
<path d="M566.5 440.8V442.4M566.5 453.1V458.4" stroke="#333" stroke-width="1.35"/>
<rect x="564.65" y="442.4" width="3.7" height="10.7" fill="#FFFFBF" stroke="#111" stroke-width="1.4"/>
<line x1="564.65" x2="568.35" y1="445.6" y2="445.6" stroke="#111" stroke-width="1.5"/>
<path d="M572.5 445.1V446.7M572.5 457.4V462.7" stroke="#333" stroke-width="1.35"/>
<rect x="570.65" y="446.7" width="3.7" height="10.7" fill="#E6F598" stroke="#111" stroke-width="1.4"/>
<line x1="570.65" x2="574.35" y1="450.4" y2="450.4" stroke="#111" stroke-width="1.5"/>
<path d="M577.5 447.8V449.9M577.5 460.3V466.4" stroke="#333" stroke-width="1.35"/>
<rect x="575.65" y="449.9" width="3.7" height="10.4" fill="#ABDDA4" stroke="#111" stroke-width="1.4"/>
<line x1="575.65" x2="579.35" y1="454.7" y2="454.7" stroke="#111" stroke-width="1.5"/>
<path d="M583.5 450.4V453.1M583.5 463.8V469.6" stroke="#333" stroke-width="1.35"/>
<rect x="581.65" y="453.1" width="3.7" height="10.7" fill="#66C2A5" stroke="#111" stroke-width="1.4"/>
<line x1="581.65" x2="585.35" y1="458.7" y2="458.7" stroke="#111" stroke-width="1.5"/>
<path d="M588.5 452.3V455.5M588.5 465.4V471.5" stroke="#333" stroke-width="1.35"/>
<rect x="586.65" y="455.5" width="3.7" height="9.9" fill="#3288BD" stroke="#111" stroke-width="1.4"/>
<line x1="586.65" x2="590.35" y1="460.6" y2="460.6" stroke="#111" stroke-width="1.5"/>
<path d="M594.5 454.2V456.3M594.5 467.5V473.1" stroke="#333" stroke-width="1.35"/>
<rect x="592.65" y="456.3" width="3.7" height="11.2" fill="#5E4FA2" stroke="#111" stroke-width="1.4"/>
<line x1="592.65" x2="596.35" y1="462.7" y2="462.7" stroke="#111" stroke-width="1.5"/>
<rect x="530.5" y="350" width="72" height="129" fill="none" stroke="#2B2B2B" stroke-width="1.6"/>
<rect x="607.5" y="350" width="72" height="129" fill="#fff"/>
<line x1="607.5" x2="679.5" y1="359.7" y2="359.7" stroke="#E8E8E8" stroke-width="1.25"/>
<line x1="607.5" x2="679.5" y1="375.6" y2="375.6" stroke="#E8E8E8" stroke-width="1.25"/>
<line x1="607.5" x2="679.5" y1="391.4" y2="391.4" stroke="#E8E8E8" stroke-width="1.25"/>
<line x1="607.5" x2="679.5" y1="407.3" y2="407.3" stroke="#E8E8E8" stroke-width="1.25"/>
<line x1="607.5" x2="679.5" y1="423.1" y2="423.1" stroke="#E8E8E8" stroke-width="1.25"/>
<line x1="607.5" x2="679.5" y1="438.9" y2="438.9" stroke="#E8E8E8" stroke-width="1.25"/>
<line x1="607.5" x2="679.5" y1="454.8" y2="454.8" stroke="#E8E8E8" stroke-width="1.25"/>
<line x1="607.5" x2="679.5" y1="470.7" y2="470.7" stroke="#E8E8E8" stroke-width="1.25"/>
<line x1="643.5" x2="643.5" y1="350" y2="479" stroke="#E8E8E8" stroke-width="1.25"/>
<path d="M616.5 429.92V430.72M616.5 432.8V433.44" stroke="#333" stroke-width="1.35"/>
<rect x="614.65" y="430.72" width="3.7" height="2.08" fill="#9E0142" stroke="#111" stroke-width="1.4"/>
<line x1="614.65" x2="618.35" y1="431.84" y2="431.84" stroke="#111" stroke-width="1.5"/>
<circle cx="616.5" cy="421.61" r="0.6" fill="#111"/>
<circle cx="616.5" cy="425.13" r="0.6" fill="#111"/>
<path d="M621.5 431.52V432.32M621.5 434.4V435.04" stroke="#333" stroke-width="1.35"/>
<rect x="619.65" y="432.32" width="3.7" height="2.08" fill="#D53E4F" stroke="#111" stroke-width="1.4"/>
<line x1="619.65" x2="623.35" y1="433.12" y2="433.12" stroke="#111" stroke-width="1.5"/>
<circle cx="621.5" cy="423.53" r="0.6" fill="#111"/>
<circle cx="621.5" cy="427.05" r="0.6" fill="#111"/>
<path d="M627.5 433.92V434.72M627.5 437.12V437.92" stroke="#333" stroke-width="1.35"/>
<rect x="625.65" y="434.72" width="3.7" height="2.4" fill="#F46D43" stroke="#111" stroke-width="1.4"/>
<line x1="625.65" x2="629.35" y1="436" y2="436" stroke="#111" stroke-width="1.5"/>
<circle cx="627.5" cy="426.41" r="0.6" fill="#111"/>
<circle cx="627.5" cy="429.6" r="0.6" fill="#111"/>
<path d="M632.5 436V436.64M632.5 439.19V439.83" stroke="#333" stroke-width="1.35"/>
<rect x="630.65" y="436.64" width="3.7" height="2.56" fill="#FDAE61" stroke="#111" stroke-width="1.4"/>
<line x1="630.65" x2="634.35" y1="437.92" y2="437.92" stroke="#111" stroke-width="1.5"/>
<circle cx="632.5" cy="428.64" r="0.6" fill="#111"/>
<circle cx="632.5" cy="431.84" r="0.6" fill="#111"/>
<path d="M638.5 437.6V438.24M638.5 441.11V441.91" stroke="#333" stroke-width="1.35"/>
<rect x="636.65" y="438.24" width="3.7" height="2.88" fill="#FEE08B" stroke="#111" stroke-width="1.4"/>
<line x1="636.65" x2="640.35" y1="439.83" y2="439.83" stroke="#111" stroke-width="1.5"/>
<circle cx="638.5" cy="431.2" r="0.6" fill="#111"/>
<circle cx="638.5" cy="433.92" r="0.6" fill="#111"/>
<path d="M643.5 439.51V440.31M643.5 442.71V443.51" stroke="#333" stroke-width="1.35"/>
<rect x="641.65" y="440.31" width="3.7" height="2.4" fill="#FFFFBF" stroke="#111" stroke-width="1.4"/>
<line x1="641.65" x2="645.35" y1="441.43" y2="441.43" stroke="#111" stroke-width="1.5"/>
<circle cx="643.5" cy="433.44" r="0.6" fill="#111"/>
<circle cx="643.5" cy="436.32" r="0.6" fill="#111"/>
<circle cx="643.5" cy="445.11" r="0.6" fill="#111"/>
<path d="M649.5 441.11V441.91M649.5 444.63V445.59" stroke="#333" stroke-width="1.35"/>
<rect x="647.65" y="441.91" width="3.7" height="2.72" fill="#E6F598" stroke="#111" stroke-width="1.4"/>
<line x1="647.65" x2="651.35" y1="443.51" y2="443.51" stroke="#111" stroke-width="1.5"/>
<circle cx="649.5" cy="436" r="0.6" fill="#111"/>
<circle cx="649.5" cy="438.24" r="0.6" fill="#111"/>
<circle cx="649.5" cy="446.71" r="0.6" fill="#111"/>
<path d="M654.5 443.99V444.63M654.5 447.19V447.83" stroke="#333" stroke-width="1.35"/>
<rect x="652.65" y="444.63" width="3.7" height="2.56" fill="#ABDDA4" stroke="#111" stroke-width="1.4"/>
<line x1="652.65" x2="656.35" y1="445.91" y2="445.91" stroke="#111" stroke-width="1.5"/>
<circle cx="654.5" cy="438.24" r="0.6" fill="#111"/>
<circle cx="654.5" cy="441.11" r="0.6" fill="#111"/>
<circle cx="654.5" cy="449.1" r="0.6" fill="#111"/>
<path d="M660.5 445.91V446.71M660.5 449.9V450.7" stroke="#333" stroke-width="1.35"/>
<rect x="658.65" y="446.71" width="3.7" height="3.2" fill="#66C2A5" stroke="#111" stroke-width="1.4"/>
<line x1="658.65" x2="662.35" y1="448.31" y2="448.31" stroke="#111" stroke-width="1.5"/>
<circle cx="660.5" cy="441.11" r="0.6" fill="#111"/>
<circle cx="660.5" cy="444.31" r="0.6" fill="#111"/>
<path d="M665.5 448.79V449.42M665.5 452.3V453.1" stroke="#333" stroke-width="1.35"/>
<rect x="663.65" y="449.42" width="3.7" height="2.88" fill="#3288BD" stroke="#111" stroke-width="1.4"/>
<line x1="663.65" x2="667.35" y1="451.02" y2="451.02" stroke="#111" stroke-width="1.5"/>
<circle cx="665.5" cy="443.51" r="0.6" fill="#111"/>
<circle cx="665.5" cy="446.71" r="0.6" fill="#111"/>
<path d="M671.5 452.3V453.1M671.5 456.3V457.1" stroke="#333" stroke-width="1.35"/>
<rect x="669.65" y="453.1" width="3.7" height="3.2" fill="#5E4FA2" stroke="#111" stroke-width="1.4"/>
<line x1="669.65" x2="673.35" y1="454.7" y2="454.7" stroke="#111" stroke-width="1.5"/>
<circle cx="671.5" cy="445.59" r="0.6" fill="#111"/>
<circle cx="671.5" cy="448.79" r="0.6" fill="#111"/>
<rect x="607.5" y="350" width="72" height="129" fill="none" stroke="#2B2B2B" stroke-width="1.6"/>
<rect x="684.5" y="350" width="73" height="129" fill="#fff"/>
<line x1="684.5" x2="757.5" y1="359.7" y2="359.7" stroke="#E8E8E8" stroke-width="1.25"/>
<line x1="684.5" x2="757.5" y1="375.6" y2="375.6" stroke="#E8E8E8" stroke-width="1.25"/>
<line x1="684.5" x2="757.5" y1="391.4" y2="391.4" stroke="#E8E8E8" stroke-width="1.25"/>
<line x1="684.5" x2="757.5" y1="407.3" y2="407.3" stroke="#E8E8E8" stroke-width="1.25"/>
<line x1="684.5" x2="757.5" y1="423.1" y2="423.1" stroke="#E8E8E8" stroke-width="1.25"/>
<line x1="684.5" x2="757.5" y1="438.9" y2="438.9" stroke="#E8E8E8" stroke-width="1.25"/>
<line x1="684.5" x2="757.5" y1="454.8" y2="454.8" stroke="#E8E8E8" stroke-width="1.25"/>
<line x1="684.5" x2="757.5" y1="470.7" y2="470.7" stroke="#E8E8E8" stroke-width="1.25"/>
<line x1="721" x2="721" y1="350" y2="479" stroke="#E8E8E8" stroke-width="1.25"/>
<path d="M693.5 436V437.12M693.5 440.31V443.03" stroke="#333" stroke-width="1.35"/>
<rect x="691.65" y="437.12" width="3.7" height="3.2" fill="#9E0142" stroke="#111" stroke-width="1.4"/>
<line x1="691.65" x2="695.35" y1="438.71" y2="438.71" stroke="#111" stroke-width="1.5"/>
<circle cx="693.5" cy="428.32" r="0.6" fill="#111"/>
<path d="M699.5 437.12V437.92M699.5 441.43V444.31" stroke="#333" stroke-width="1.35"/>
<rect x="697.65" y="437.92" width="3.7" height="3.52" fill="#D53E4F" stroke="#111" stroke-width="1.4"/>
<line x1="697.65" x2="701.35" y1="439.83" y2="439.83" stroke="#111" stroke-width="1.5"/>
<circle cx="699.5" cy="429.6" r="0.6" fill="#111"/>
<path d="M704.5 438.71V439.51M704.5 443.03V445.59" stroke="#333" stroke-width="1.35"/>
<rect x="702.65" y="439.51" width="3.7" height="3.52" fill="#F46D43" stroke="#111" stroke-width="1.4"/>
<line x1="702.65" x2="706.35" y1="441.43" y2="441.43" stroke="#111" stroke-width="1.5"/>
<circle cx="704.5" cy="432.32" r="0.6" fill="#111"/>
<circle cx="704.5" cy="433.44" r="0.6" fill="#111"/>
<path d="M710.5 439.83V441.11M710.5 444.31V446.71" stroke="#333" stroke-width="1.35"/>
<rect x="708.65" y="441.11" width="3.7" height="3.2" fill="#FDAE61" stroke="#111" stroke-width="1.4"/>
<line x1="708.65" x2="712.35" y1="442.71" y2="442.71" stroke="#111" stroke-width="1.5"/>
<circle cx="710.5" cy="433.44" r="0.6" fill="#111"/>
<circle cx="710.5" cy="435.52" r="0.6" fill="#111"/>
<path d="M715.5 440.31V442.39M715.5 445.59V447.51" stroke="#333" stroke-width="1.35"/>
<rect x="713.65" y="442.39" width="3.7" height="3.2" fill="#FEE08B" stroke="#111" stroke-width="1.4"/>
<line x1="713.65" x2="717.35" y1="443.99" y2="443.99" stroke="#111" stroke-width="1.5"/>
<circle cx="715.5" cy="435.52" r="0.6" fill="#111"/>
<path d="M721.5 441.91V443.99M721.5 447.19V448.31" stroke="#333" stroke-width="1.35"/>
<rect x="719.65" y="443.99" width="3.7" height="3.2" fill="#FFFFBF" stroke="#111" stroke-width="1.4"/>
<line x1="719.65" x2="723.35" y1="445.59" y2="445.59" stroke="#111" stroke-width="1.5"/>
<circle cx="721.5" cy="437.12" r="0.6" fill="#111"/>
<path d="M726.5 443.51V445.11M726.5 448.31V449.1" stroke="#333" stroke-width="1.35"/>
<rect x="724.65" y="445.11" width="3.7" height="3.2" fill="#E6F598" stroke="#111" stroke-width="1.4"/>
<line x1="724.65" x2="728.35" y1="446.71" y2="446.71" stroke="#111" stroke-width="1.5"/>
<circle cx="726.5" cy="439.19" r="0.6" fill="#111"/>
<path d="M732.5 445.11V446.23M732.5 448.79V449.9" stroke="#333" stroke-width="1.35"/>
<rect x="730.65" y="446.23" width="3.7" height="2.56" fill="#ABDDA4" stroke="#111" stroke-width="1.4"/>
<line x1="730.65" x2="734.35" y1="447.51" y2="447.51" stroke="#111" stroke-width="1.5"/>
<circle cx="732.5" cy="441.91" r="0.6" fill="#111"/>
<path d="M737.5 447.19V448.31M737.5 450.7V451.5" stroke="#333" stroke-width="1.35"/>
<rect x="735.65" y="448.31" width="3.7" height="2.4" fill="#66C2A5" stroke="#111" stroke-width="1.4"/>
<line x1="735.65" x2="739.35" y1="449.42" y2="449.42" stroke="#111" stroke-width="1.5"/>
<circle cx="737.5" cy="444.31" r="0.6" fill="#111"/>
<path d="M743.5 449.1V449.9M743.5 452.3V453.1" stroke="#333" stroke-width="1.35"/>
<rect x="741.65" y="449.9" width="3.7" height="2.4" fill="#3288BD" stroke="#111" stroke-width="1.4"/>
<line x1="741.65" x2="745.35" y1="451.02" y2="451.02" stroke="#111" stroke-width="1.5"/>
<circle cx="743.5" cy="446.71" r="0.6" fill="#111"/>
<path d="M748.5 450.38V451.02M748.5 454.22V454.7" stroke="#333" stroke-width="1.35"/>
<rect x="746.65" y="451.02" width="3.7" height="3.2" fill="#5E4FA2" stroke="#111" stroke-width="1.4"/>
<line x1="746.65" x2="750.35" y1="452.62" y2="452.62" stroke="#111" stroke-width="1.5"/>
<rect x="684.5" y="350" width="73" height="129" fill="none" stroke="#2B2B2B" stroke-width="1.6"/>
<line x1="62.7" x2="65.5" y1="375.6" y2="375.6" stroke="#2B2B2B" stroke-width="1.1"/>
<text x="60.3" y="381.8" font-size="11.5" font-weight="normal" text-anchor="end" fill="#262626" >20</text>
<line x1="62.7" x2="65.5" y1="407.3" y2="407.3" stroke="#2B2B2B" stroke-width="1.1"/>
<text x="60.3" y="413.5" font-size="11.5" font-weight="normal" text-anchor="end" fill="#262626" >15</text>
<line x1="62.7" x2="65.5" y1="438.9" y2="438.9" stroke="#2B2B2B" stroke-width="1.1"/>
<text x="60.3" y="445.1" font-size="11.5" font-weight="normal" text-anchor="end" fill="#262626" >10</text>
<line x1="62.7" x2="65.5" y1="470.7" y2="470.7" stroke="#2B2B2B" stroke-width="1.1"/>
<text x="60.3" y="476.9" font-size="11.5" font-weight="normal" text-anchor="end" fill="#262626" >5</text>
<rect x="66.5" y="488.5" width="73" height="129.1" fill="#fff"/>
<line x1="66.5" x2="139.5" y1="494.1" y2="494.1" stroke="#E8E8E8" stroke-width="1.25"/>
<line x1="66.5" x2="139.5" y1="508.95" y2="508.95" stroke="#E8E8E8" stroke-width="1.25"/>
<line x1="66.5" x2="139.5" y1="523.8" y2="523.8" stroke="#E8E8E8" stroke-width="1.25"/>
<line x1="66.5" x2="139.5" y1="538.65" y2="538.65" stroke="#E8E8E8" stroke-width="1.25"/>
<line x1="66.5" x2="139.5" y1="553.5" y2="553.5" stroke="#E8E8E8" stroke-width="1.25"/>
<line x1="66.5" x2="139.5" y1="568.35" y2="568.35" stroke="#E8E8E8" stroke-width="1.25"/>
<line x1="66.5" x2="139.5" y1="583.2" y2="583.2" stroke="#E8E8E8" stroke-width="1.25"/>
<line x1="66.5" x2="139.5" y1="598.05" y2="598.05" stroke="#E8E8E8" stroke-width="1.25"/>
<line x1="66.5" x2="139.5" y1="612.9" y2="612.9" stroke="#E8E8E8" stroke-width="1.25"/>
<line x1="103" x2="103" y1="488.5" y2="617.6" stroke="#E8E8E8" stroke-width="1.25"/>
<path d="M75.5 497.99V498.95M75.5 502.18V506.04" stroke="#333" stroke-width="1.35"/>
<rect x="73.65" y="498.95" width="3.7" height="3.22" fill="#9E0142" stroke="#111" stroke-width="1.4"/>
<line x1="73.65" x2="77.35" y1="500.08" y2="500.08" stroke="#111" stroke-width="1.5"/>
<path d="M81.5 507.33V509.26M81.5 516.19V523.44" stroke="#333" stroke-width="1.35"/>
<rect x="79.65" y="509.26" width="3.7" height="6.93" fill="#D53E4F" stroke="#111" stroke-width="1.4"/>
<line x1="79.65" x2="83.35" y1="512.16" y2="512.16" stroke="#111" stroke-width="1.5"/>
<path d="M86.5 529.08V532.78M86.5 543.09V552.11" stroke="#333" stroke-width="1.35"/>
<rect x="84.65" y="532.78" width="3.7" height="10.31" fill="#F46D43" stroke="#111" stroke-width="1.4"/>
<line x1="84.65" x2="88.35" y1="537.61" y2="537.61" stroke="#111" stroke-width="1.5"/>
<path d="M92.5 548.89V552.11M92.5 562.1V569.35" stroke="#333" stroke-width="1.35"/>
<rect x="90.65" y="552.11" width="3.7" height="9.99" fill="#FDAE61" stroke="#111" stroke-width="1.4"/>
<line x1="90.65" x2="94.35" y1="556.46" y2="556.46" stroke="#111" stroke-width="1.5"/>
<path d="M97.5 563.39V566.12M97.5 574.18V581.11" stroke="#333" stroke-width="1.35"/>
<rect x="95.65" y="566.12" width="3.7" height="8.05" fill="#FEE08B" stroke="#111" stroke-width="1.4"/>
<line x1="95.65" x2="99.35" y1="570.15" y2="570.15" stroke="#111" stroke-width="1.5"/>
<path d="M103.5 574.98V576.27M103.5 583.04V589.48" stroke="#333" stroke-width="1.35"/>
<rect x="101.65" y="576.27" width="3.7" height="6.77" fill="#FFFFBF" stroke="#111" stroke-width="1.4"/>
<line x1="101.65" x2="105.35" y1="579.82" y2="579.82" stroke="#111" stroke-width="1.5"/>
<path d="M108.5 583.04V584.33M108.5 589.8V595.12" stroke="#333" stroke-width="1.35"/>
<rect x="106.65" y="584.33" width="3.7" height="5.48" fill="#E6F598" stroke="#111" stroke-width="1.4"/>
<line x1="106.65" x2="110.35" y1="587.07" y2="587.07" stroke="#111" stroke-width="1.5"/>
<path d="M114.5 588.68V590.29M114.5 595.6V599.95" stroke="#333" stroke-width="1.35"/>
<rect x="112.65" y="590.29" width="3.7" height="5.32" fill="#ABDDA4" stroke="#111" stroke-width="1.4"/>
<line x1="112.65" x2="116.35" y1="593.03" y2="593.03" stroke="#111" stroke-width="1.5"/>
<path d="M119.5 593.03V594.64M119.5 599.15V603.17" stroke="#333" stroke-width="1.35"/>
<rect x="117.65" y="594.64" width="3.7" height="4.51" fill="#66C2A5" stroke="#111" stroke-width="1.4"/>
<line x1="117.65" x2="121.35" y1="597.21" y2="597.21" stroke="#111" stroke-width="1.5"/>
<path d="M125.5 595.6V597.54M125.5 603.17V606.4" stroke="#333" stroke-width="1.35"/>
<rect x="123.65" y="597.54" width="3.7" height="5.64" fill="#3288BD" stroke="#111" stroke-width="1.4"/>
<line x1="123.65" x2="127.35" y1="599.95" y2="599.95" stroke="#111" stroke-width="1.5"/>
<path d="M130.5 596.25V598.82M130.5 605.27V607.52" stroke="#333" stroke-width="1.35"/>
<rect x="128.65" y="598.82" width="3.7" height="6.44" fill="#5E4FA2" stroke="#111" stroke-width="1.4"/>
<line x1="128.65" x2="132.35" y1="601.08" y2="601.08" stroke="#111" stroke-width="1.5"/>
<rect x="66.5" y="488.5" width="73" height="129.1" fill="none" stroke="#2B2B2B" stroke-width="1.6"/>
<rect x="144.5" y="488.5" width="72" height="129.1" fill="#fff"/>
<line x1="144.5" x2="216.5" y1="494.1" y2="494.1" stroke="#E8E8E8" stroke-width="1.25"/>
<line x1="144.5" x2="216.5" y1="508.95" y2="508.95" stroke="#E8E8E8" stroke-width="1.25"/>
<line x1="144.5" x2="216.5" y1="523.8" y2="523.8" stroke="#E8E8E8" stroke-width="1.25"/>
<line x1="144.5" x2="216.5" y1="538.65" y2="538.65" stroke="#E8E8E8" stroke-width="1.25"/>
<line x1="144.5" x2="216.5" y1="553.5" y2="553.5" stroke="#E8E8E8" stroke-width="1.25"/>
<line x1="144.5" x2="216.5" y1="568.35" y2="568.35" stroke="#E8E8E8" stroke-width="1.25"/>
<line x1="144.5" x2="216.5" y1="583.2" y2="583.2" stroke="#E8E8E8" stroke-width="1.25"/>
<line x1="144.5" x2="216.5" y1="598.05" y2="598.05" stroke="#E8E8E8" stroke-width="1.25"/>
<line x1="144.5" x2="216.5" y1="612.9" y2="612.9" stroke="#E8E8E8" stroke-width="1.25"/>
<line x1="180.5" x2="180.5" y1="488.5" y2="617.6" stroke="#E8E8E8" stroke-width="1.25"/>
<path d="M153.5 495.25V495.25M153.5 497.34V497.99" stroke="#333" stroke-width="1.35"/>
<rect x="151.65" y="495.25" width="3.7" height="2.09" fill="#9E0142" stroke="#111" stroke-width="1.4"/>
<line x1="151.65" x2="155.35" y1="496.05" y2="496.05" stroke="#111" stroke-width="1.5"/>
<path d="M158.5 496.05V497.34M158.5 502.5V503.79" stroke="#333" stroke-width="1.35"/>
<rect x="156.65" y="497.34" width="3.7" height="5.15" fill="#D53E4F" stroke="#111" stroke-width="1.4"/>
<line x1="156.65" x2="160.35" y1="498.95" y2="498.95" stroke="#111" stroke-width="1.5"/>
<path d="M164.5 500.08V505.4M164.5 518.93V522.15" stroke="#333" stroke-width="1.35"/>
<rect x="162.65" y="505.4" width="3.7" height="13.53" fill="#F46D43" stroke="#111" stroke-width="1.4"/>
<line x1="162.65" x2="166.35" y1="508.62" y2="508.62" stroke="#111" stroke-width="1.5"/>
<path d="M169.5 508.62V520.22M169.5 541.16V544.38" stroke="#333" stroke-width="1.35"/>
<rect x="167.65" y="520.22" width="3.7" height="20.94" fill="#FDAE61" stroke="#111" stroke-width="1.4"/>
<line x1="167.65" x2="171.35" y1="525.05" y2="525.05" stroke="#111" stroke-width="1.5"/>
<path d="M175.5 523.76V539.87M175.5 563.39V566.93" stroke="#333" stroke-width="1.35"/>
<rect x="173.65" y="539.87" width="3.7" height="23.52" fill="#FEE08B" stroke="#111" stroke-width="1.4"/>
<line x1="173.65" x2="177.35" y1="545.18" y2="545.18" stroke="#111" stroke-width="1.5"/>
<path d="M180.5 543.09V561.29M180.5 581.75V584.97" stroke="#333" stroke-width="1.35"/>
<rect x="178.65" y="561.29" width="3.7" height="20.46" fill="#FFFFBF" stroke="#111" stroke-width="1.4"/>
<line x1="178.65" x2="182.35" y1="566.12" y2="566.12" stroke="#111" stroke-width="1.5"/>
<path d="M186.5 562.9V579.49M186.5 594.64V597.21" stroke="#333" stroke-width="1.35"/>
<rect x="184.65" y="579.49" width="3.7" height="15.14" fill="#E6F598" stroke="#111" stroke-width="1.4"/>
<line x1="184.65" x2="188.35" y1="583.84" y2="583.84" stroke="#111" stroke-width="1.5"/>
<path d="M191.5 576.6V590.77M191.5 602.05V603.66" stroke="#333" stroke-width="1.35"/>
<rect x="189.65" y="590.77" width="3.7" height="11.28" fill="#ABDDA4" stroke="#111" stroke-width="1.4"/>
<line x1="189.65" x2="193.35" y1="593.51" y2="593.51" stroke="#111" stroke-width="1.5"/>
<path d="M197.5 587.87V598.34M197.5 605.91V606.88" stroke="#333" stroke-width="1.35"/>
<rect x="195.65" y="598.34" width="3.7" height="7.57" fill="#66C2A5" stroke="#111" stroke-width="1.4"/>
<line x1="195.65" x2="199.35" y1="599.95" y2="599.95" stroke="#111" stroke-width="1.5"/>
<path d="M202.5 595.12V599.95M202.5 605.91V607.52" stroke="#333" stroke-width="1.35"/>
<rect x="200.65" y="599.95" width="3.7" height="5.96" fill="#3288BD" stroke="#111" stroke-width="1.4"/>
<line x1="200.65" x2="204.35" y1="602.69" y2="602.69" stroke="#111" stroke-width="1.5"/>
<path d="M208.5 594.31V599.15M208.5 603.98V608.01" stroke="#333" stroke-width="1.35"/>
<rect x="206.65" y="599.15" width="3.7" height="4.83" fill="#5E4FA2" stroke="#111" stroke-width="1.4"/>
<line x1="206.65" x2="210.35" y1="601.56" y2="601.56" stroke="#111" stroke-width="1.5"/>
<rect x="144.5" y="488.5" width="72" height="129.1" fill="none" stroke="#2B2B2B" stroke-width="1.6"/>
<rect x="221.5" y="488.5" width="72" height="129.1" fill="#fff"/>
<line x1="221.5" x2="293.5" y1="494.1" y2="494.1" stroke="#E8E8E8" stroke-width="1.25"/>
<line x1="221.5" x2="293.5" y1="508.95" y2="508.95" stroke="#E8E8E8" stroke-width="1.25"/>
<line x1="221.5" x2="293.5" y1="523.8" y2="523.8" stroke="#E8E8E8" stroke-width="1.25"/>
<line x1="221.5" x2="293.5" y1="538.65" y2="538.65" stroke="#E8E8E8" stroke-width="1.25"/>
<line x1="221.5" x2="293.5" y1="553.5" y2="553.5" stroke="#E8E8E8" stroke-width="1.25"/>
<line x1="221.5" x2="293.5" y1="568.35" y2="568.35" stroke="#E8E8E8" stroke-width="1.25"/>
<line x1="221.5" x2="293.5" y1="583.2" y2="583.2" stroke="#E8E8E8" stroke-width="1.25"/>
<line x1="221.5" x2="293.5" y1="598.05" y2="598.05" stroke="#E8E8E8" stroke-width="1.25"/>
<line x1="221.5" x2="293.5" y1="612.9" y2="612.9" stroke="#E8E8E8" stroke-width="1.25"/>
<line x1="257.5" x2="257.5" y1="488.5" y2="617.6" stroke="#E8E8E8" stroke-width="1.25"/>
<path d="M230.5 510.23V515.06M230.5 526.34V534.39" stroke="#333" stroke-width="1.35"/>
<rect x="228.65" y="515.06" width="3.7" height="11.28" fill="#9E0142" stroke="#111" stroke-width="1.4"/>
<line x1="228.65" x2="232.35" y1="520.22" y2="520.22" stroke="#111" stroke-width="1.5"/>
<path d="M235.5 534.71V543.57M235.5 557.59V566.12" stroke="#333" stroke-width="1.35"/>
<rect x="233.65" y="543.57" width="3.7" height="14.01" fill="#D53E4F" stroke="#111" stroke-width="1.4"/>
<line x1="233.65" x2="237.35" y1="550.02" y2="550.02" stroke="#111" stroke-width="1.5"/>
<path d="M241.5 569.83V579.01M241.5 587.55V591.41" stroke="#333" stroke-width="1.35"/>
<rect x="239.65" y="579.01" width="3.7" height="8.54" fill="#F46D43" stroke="#111" stroke-width="1.4"/>
<line x1="239.65" x2="243.35" y1="583.04" y2="583.04" stroke="#111" stroke-width="1.5"/>
<path d="M246.5 588.68V594.31M246.5 599.15V601.56" stroke="#333" stroke-width="1.35"/>
<rect x="244.65" y="594.31" width="3.7" height="4.83" fill="#FDAE61" stroke="#111" stroke-width="1.4"/>
<line x1="244.65" x2="248.35" y1="596.73" y2="596.73" stroke="#111" stroke-width="1.5"/>
<path d="M252.5 598.34V600.76M252.5 603.98V605.27" stroke="#333" stroke-width="1.35"/>
<rect x="250.65" y="600.76" width="3.7" height="3.22" fill="#FEE08B" stroke="#111" stroke-width="1.4"/>
<line x1="250.65" x2="254.35" y1="602.37" y2="602.37" stroke="#111" stroke-width="1.5"/>
<path d="M257.5 602.69V603.98M257.5 606.4V607.52" stroke="#333" stroke-width="1.35"/>
<rect x="255.65" y="603.98" width="3.7" height="2.42" fill="#FFFFBF" stroke="#111" stroke-width="1.4"/>
<line x1="255.65" x2="259.35" y1="605.27" y2="605.27" stroke="#111" stroke-width="1.5"/>
<path d="M263.5 605.91V606.4M263.5 608.01V608.81" stroke="#333" stroke-width="1.35"/>
<rect x="261.65" y="606.4" width="3.7" height="1.61" fill="#E6F598" stroke="#111" stroke-width="1.4"/>
<line x1="261.65" x2="265.35" y1="607.2" y2="607.2" stroke="#111" stroke-width="1.5"/>
<path d="M268.5 607.52V608.01M268.5 609.13V609.62" stroke="#333" stroke-width="1.35"/>
<rect x="266.65" y="608.01" width="3.7" height="1.13" fill="#ABDDA4" stroke="#111" stroke-width="1.4"/>
<line x1="266.65" x2="270.35" y1="608.49" y2="608.49" stroke="#111" stroke-width="1.5"/>
<path d="M274.5 608.81V609.13M274.5 610.1V610.42" stroke="#333" stroke-width="1.35"/>
<rect x="272.65" y="609.13" width="3.7" height="0.97" fill="#66C2A5" stroke="#111" stroke-width="1.4"/>
<line x1="272.65" x2="276.35" y1="609.62" y2="609.62" stroke="#111" stroke-width="1.5"/>
<path d="M279.5 609.62V610.1M279.5 610.74V611.23" stroke="#333" stroke-width="1.35"/>
<rect x="277.65" y="610.1" width="3.7" height="0.64" fill="#3288BD" stroke="#111" stroke-width="1.4"/>
<line x1="277.65" x2="281.35" y1="610.42" y2="610.42" stroke="#111" stroke-width="1.5"/>
<path d="M285.5 610.1V610.42M285.5 611.23V611.71" stroke="#333" stroke-width="1.35"/>
<rect x="283.65" y="610.42" width="3.7" height="0.81" fill="#5E4FA2" stroke="#111" stroke-width="1.4"/>
<line x1="283.65" x2="287.35" y1="610.91" y2="610.91" stroke="#111" stroke-width="1.5"/>
<rect x="221.5" y="488.5" width="72" height="129.1" fill="none" stroke="#2B2B2B" stroke-width="1.6"/>
<rect x="298.5" y="488.5" width="73" height="129.1" fill="#fff"/>
<line x1="298.5" x2="371.5" y1="494.1" y2="494.1" stroke="#E8E8E8" stroke-width="1.25"/>
<line x1="298.5" x2="371.5" y1="508.95" y2="508.95" stroke="#E8E8E8" stroke-width="1.25"/>
<line x1="298.5" x2="371.5" y1="523.8" y2="523.8" stroke="#E8E8E8" stroke-width="1.25"/>
<line x1="298.5" x2="371.5" y1="538.65" y2="538.65" stroke="#E8E8E8" stroke-width="1.25"/>
<line x1="298.5" x2="371.5" y1="553.5" y2="553.5" stroke="#E8E8E8" stroke-width="1.25"/>
<line x1="298.5" x2="371.5" y1="568.35" y2="568.35" stroke="#E8E8E8" stroke-width="1.25"/>
<line x1="298.5" x2="371.5" y1="583.2" y2="583.2" stroke="#E8E8E8" stroke-width="1.25"/>
<line x1="298.5" x2="371.5" y1="598.05" y2="598.05" stroke="#E8E8E8" stroke-width="1.25"/>
<line x1="298.5" x2="371.5" y1="612.9" y2="612.9" stroke="#E8E8E8" stroke-width="1.25"/>
<line x1="335" x2="335" y1="488.5" y2="617.6" stroke="#E8E8E8" stroke-width="1.25"/>
<path d="M307.5 494.77V494.77M307.5 496.05V496.38" stroke="#333" stroke-width="1.35"/>
<rect x="305.65" y="494.77" width="3.7" height="1.29" fill="#9E0142" stroke="#111" stroke-width="1.4"/>
<line x1="305.65" x2="309.35" y1="495.25" y2="495.25" stroke="#111" stroke-width="1.5"/>
<path d="M313.5 495.25V495.73M313.5 497.99V500.08" stroke="#333" stroke-width="1.35"/>
<rect x="311.65" y="495.73" width="3.7" height="2.26" fill="#D53E4F" stroke="#111" stroke-width="1.4"/>
<line x1="311.65" x2="315.35" y1="496.86" y2="496.86" stroke="#111" stroke-width="1.5"/>
<path d="M318.5 496.86V500.08M318.5 505.72V511.36" stroke="#333" stroke-width="1.35"/>
<rect x="316.65" y="500.08" width="3.7" height="5.64" fill="#F46D43" stroke="#111" stroke-width="1.4"/>
<line x1="316.65" x2="320.35" y1="503.3" y2="503.3" stroke="#111" stroke-width="1.5"/>
<circle cx="318.5" cy="516.99" r="0.6" fill="#111"/>
<path d="M324.5 499.28V505.4M324.5 516.67V526.66" stroke="#333" stroke-width="1.35"/>
<rect x="322.65" y="505.4" width="3.7" height="11.28" fill="#FDAE61" stroke="#111" stroke-width="1.4"/>
<line x1="322.65" x2="326.35" y1="510.87" y2="510.87" stroke="#111" stroke-width="1.5"/>
<circle cx="324.5" cy="541.16" r="0.6" fill="#111"/>
<path d="M329.5 502.18V512.16M329.5 530.69V544.38" stroke="#333" stroke-width="1.35"/>
<rect x="327.65" y="512.16" width="3.7" height="18.52" fill="#FEE08B" stroke="#111" stroke-width="1.4"/>
<line x1="327.65" x2="331.35" y1="523.76" y2="523.76" stroke="#111" stroke-width="1.5"/>
<circle cx="329.5" cy="565.32" r="0.6" fill="#111"/>
<path d="M335.5 506.52V519.89M335.5 546.31V584.33" stroke="#333" stroke-width="1.35"/>
<rect x="333.65" y="519.89" width="3.7" height="26.42" fill="#FFFFBF" stroke="#111" stroke-width="1.4"/>
<line x1="333.65" x2="337.35" y1="538.26" y2="538.26" stroke="#111" stroke-width="1.5"/>
<path d="M340.5 512.16V529.56M340.5 563.39V595.6" stroke="#333" stroke-width="1.35"/>
<rect x="338.65" y="529.56" width="3.7" height="33.83" fill="#E6F598" stroke="#111" stroke-width="1.4"/>
<line x1="338.65" x2="342.35" y1="553.72" y2="553.72" stroke="#111" stroke-width="1.5"/>
<path d="M346.5 518.93V540.35M346.5 577.88V601.56" stroke="#333" stroke-width="1.35"/>
<rect x="344.65" y="540.35" width="3.7" height="37.53" fill="#ABDDA4" stroke="#111" stroke-width="1.4"/>
<line x1="344.65" x2="348.35" y1="568.22" y2="568.22" stroke="#111" stroke-width="1.5"/>
<path d="M351.5 526.98V551.63M351.5 589.16V601.56" stroke="#333" stroke-width="1.35"/>
<rect x="349.65" y="551.63" width="3.7" height="37.53" fill="#66C2A5" stroke="#111" stroke-width="1.4"/>
<line x1="349.65" x2="353.35" y1="580.62" y2="580.62" stroke="#111" stroke-width="1.5"/>
<path d="M357.5 536.32V562.42M357.5 597.21V602.69" stroke="#333" stroke-width="1.35"/>
<rect x="355.65" y="562.42" width="3.7" height="34.79" fill="#3288BD" stroke="#111" stroke-width="1.4"/>
<line x1="355.65" x2="359.35" y1="590.77" y2="590.77" stroke="#111" stroke-width="1.5"/>
<path d="M362.5 546.8V573.05M362.5 601.08V605.91" stroke="#333" stroke-width="1.35"/>
<rect x="360.65" y="573.05" width="3.7" height="28.03" fill="#5E4FA2" stroke="#111" stroke-width="1.4"/>
<line x1="360.65" x2="364.35" y1="596.25" y2="596.25" stroke="#111" stroke-width="1.5"/>
<rect x="298.5" y="488.5" width="73" height="129.1" fill="none" stroke="#2B2B2B" stroke-width="1.6"/>
<rect x="376.5" y="488.5" width="72" height="129.1" fill="#fff"/>
<line x1="376.5" x2="448.5" y1="494.1" y2="494.1" stroke="#E8E8E8" stroke-width="1.25"/>
<line x1="376.5" x2="448.5" y1="508.95" y2="508.95" stroke="#E8E8E8" stroke-width="1.25"/>
<line x1="376.5" x2="448.5" y1="523.8" y2="523.8" stroke="#E8E8E8" stroke-width="1.25"/>
<line x1="376.5" x2="448.5" y1="538.65" y2="538.65" stroke="#E8E8E8" stroke-width="1.25"/>
<line x1="376.5" x2="448.5" y1="553.5" y2="553.5" stroke="#E8E8E8" stroke-width="1.25"/>
<line x1="376.5" x2="448.5" y1="568.35" y2="568.35" stroke="#E8E8E8" stroke-width="1.25"/>
<line x1="376.5" x2="448.5" y1="583.2" y2="583.2" stroke="#E8E8E8" stroke-width="1.25"/>
<line x1="376.5" x2="448.5" y1="598.05" y2="598.05" stroke="#E8E8E8" stroke-width="1.25"/>
<line x1="376.5" x2="448.5" y1="612.9" y2="612.9" stroke="#E8E8E8" stroke-width="1.25"/>
<line x1="412.5" x2="412.5" y1="488.5" y2="617.6" stroke="#E8E8E8" stroke-width="1.25"/>
<path d="M385.5 494.12V494.12M385.5 495.25V495.25" stroke="#333" stroke-width="1.35"/>
<rect x="383.65" y="494.12" width="3.7" height="1.13" fill="#9E0142" stroke="#111" stroke-width="1.4"/>
<line x1="383.65" x2="387.35" y1="494.77" y2="494.77" stroke="#111" stroke-width="1.5"/>
<path d="M390.5 494.44V494.44M390.5 495.73V496.05" stroke="#333" stroke-width="1.35"/>
<rect x="388.65" y="494.44" width="3.7" height="1.29" fill="#D53E4F" stroke="#111" stroke-width="1.4"/>
<line x1="388.65" x2="392.35" y1="495.09" y2="495.09" stroke="#111" stroke-width="1.5"/>
<path d="M396.5 494.77V494.77M396.5 496.86V497.99" stroke="#333" stroke-width="1.35"/>
<rect x="394.65" y="494.77" width="3.7" height="2.09" fill="#F46D43" stroke="#111" stroke-width="1.4"/>
<line x1="394.65" x2="398.35" y1="495.73" y2="495.73" stroke="#111" stroke-width="1.5"/>
<path d="M401.5 495.25V496.05M401.5 499.6V504.11" stroke="#333" stroke-width="1.35"/>
<rect x="399.65" y="496.05" width="3.7" height="3.54" fill="#FDAE61" stroke="#111" stroke-width="1.4"/>
<line x1="399.65" x2="403.35" y1="497.66" y2="497.66" stroke="#111" stroke-width="1.5"/>
<path d="M407.5 495.73V498.95M407.5 505.72V508.14" stroke="#333" stroke-width="1.35"/>
<rect x="405.65" y="498.95" width="3.7" height="6.77" fill="#FEE08B" stroke="#111" stroke-width="1.4"/>
<line x1="405.65" x2="409.35" y1="502.18" y2="502.18" stroke="#111" stroke-width="1.5"/>
<circle cx="407.5" cy="517.32" r="0.6" fill="#111"/>
<path d="M412.5 496.05V504.11M412.5 515.38V521.51" stroke="#333" stroke-width="1.35"/>
<rect x="410.65" y="504.11" width="3.7" height="11.28" fill="#FFFFBF" stroke="#111" stroke-width="1.4"/>
<line x1="410.65" x2="414.35" y1="508.62" y2="508.62" stroke="#111" stroke-width="1.5"/>
<circle cx="412.5" cy="536" r="0.6" fill="#111"/>
<path d="M418.5 496.38V512.16M418.5 530.2V541.48" stroke="#333" stroke-width="1.35"/>
<rect x="416.65" y="512.16" width="3.7" height="18.04" fill="#E6F598" stroke="#111" stroke-width="1.4"/>
<line x1="416.65" x2="420.35" y1="520.54" y2="520.54" stroke="#111" stroke-width="1.5"/>
<circle cx="418.5" cy="557.27" r="0.6" fill="#111"/>
<path d="M423.5 497.34V523.44M423.5 547.92V576.27" stroke="#333" stroke-width="1.35"/>
<rect x="421.65" y="523.44" width="3.7" height="24.48" fill="#ABDDA4" stroke="#111" stroke-width="1.4"/>
<line x1="421.65" x2="425.35" y1="536" y2="536" stroke="#111" stroke-width="1.5"/>
<path d="M429.5 498.95V539.22M429.5 566.61V590.29" stroke="#333" stroke-width="1.35"/>
<rect x="427.65" y="539.22" width="3.7" height="27.38" fill="#66C2A5" stroke="#111" stroke-width="1.4"/>
<line x1="427.65" x2="431.35" y1="554.37" y2="554.37" stroke="#111" stroke-width="1.5"/>
<path d="M434.5 534.39V556.46M434.5 581.11V599.15" stroke="#333" stroke-width="1.35"/>
<rect x="432.65" y="556.46" width="3.7" height="24.65" fill="#3288BD" stroke="#111" stroke-width="1.4"/>
<line x1="432.65" x2="436.35" y1="571.76" y2="571.76" stroke="#111" stroke-width="1.5"/>
<circle cx="434.5" cy="500.56" r="0.6" fill="#111"/>
<circle cx="434.5" cy="508.62" r="0.6" fill="#111"/>
<path d="M440.5 550.5V572.09M440.5 593.51V604.3" stroke="#333" stroke-width="1.35"/>
<rect x="438.65" y="572.09" width="3.7" height="21.42" fill="#5E4FA2" stroke="#111" stroke-width="1.4"/>
<line x1="438.65" x2="442.35" y1="585.45" y2="585.45" stroke="#111" stroke-width="1.5"/>
<circle cx="440.5" cy="504.11" r="0.6" fill="#111"/>
<circle cx="440.5" cy="513.77" r="0.6" fill="#111"/>
<rect x="376.5" y="488.5" width="72" height="129.1" fill="none" stroke="#2B2B2B" stroke-width="1.6"/>
<rect x="453.5" y="488.5" width="72" height="129.1" fill="#fff"/>
<line x1="453.5" x2="525.5" y1="494.1" y2="494.1" stroke="#E8E8E8" stroke-width="1.25"/>
<line x1="453.5" x2="525.5" y1="508.95" y2="508.95" stroke="#E8E8E8" stroke-width="1.25"/>
<line x1="453.5" x2="525.5" y1="523.8" y2="523.8" stroke="#E8E8E8" stroke-width="1.25"/>
<line x1="453.5" x2="525.5" y1="538.65" y2="538.65" stroke="#E8E8E8" stroke-width="1.25"/>
<line x1="453.5" x2="525.5" y1="553.5" y2="553.5" stroke="#E8E8E8" stroke-width="1.25"/>
<line x1="453.5" x2="525.5" y1="568.35" y2="568.35" stroke="#E8E8E8" stroke-width="1.25"/>
<line x1="453.5" x2="525.5" y1="583.2" y2="583.2" stroke="#E8E8E8" stroke-width="1.25"/>
<line x1="453.5" x2="525.5" y1="598.05" y2="598.05" stroke="#E8E8E8" stroke-width="1.25"/>
<line x1="453.5" x2="525.5" y1="612.9" y2="612.9" stroke="#E8E8E8" stroke-width="1.25"/>
<line x1="489.5" x2="489.5" y1="488.5" y2="617.6" stroke="#E8E8E8" stroke-width="1.25"/>
<path d="M462.5 494.44V494.44M462.5 495.25V495.25" stroke="#333" stroke-width="1.35"/>
<rect x="460.65" y="494.44" width="3.7" height="0.81" fill="#9E0142" stroke="#111" stroke-width="1.4"/>
<line x1="460.65" x2="464.35" y1="494.77" y2="494.77" stroke="#111" stroke-width="1.5"/>
<path d="M467.5 495.25V495.25M467.5 496.38V496.38" stroke="#333" stroke-width="1.35"/>
<rect x="465.65" y="495.25" width="3.7" height="1.13" fill="#D53E4F" stroke="#111" stroke-width="1.4"/>
<line x1="465.65" x2="469.35" y1="495.73" y2="495.73" stroke="#111" stroke-width="1.5"/>
<path d="M473.5 497.66V498.47M473.5 501.69V503.3" stroke="#333" stroke-width="1.35"/>
<rect x="471.65" y="498.47" width="3.7" height="3.22" fill="#F46D43" stroke="#111" stroke-width="1.4"/>
<line x1="471.65" x2="475.35" y1="499.6" y2="499.6" stroke="#111" stroke-width="1.5"/>
<path d="M478.5 502.5V505.4M478.5 511.36V517.8" stroke="#333" stroke-width="1.35"/>
<rect x="476.65" y="505.4" width="3.7" height="5.96" fill="#FDAE61" stroke="#111" stroke-width="1.4"/>
<line x1="476.65" x2="480.35" y1="508.14" y2="508.14" stroke="#111" stroke-width="1.5"/>
<path d="M484.5 511.84V517.32M484.5 528.27V539.87" stroke="#333" stroke-width="1.35"/>
<rect x="482.65" y="517.32" width="3.7" height="10.95" fill="#FEE08B" stroke="#111" stroke-width="1.4"/>
<line x1="482.65" x2="486.35" y1="523.76" y2="523.76" stroke="#111" stroke-width="1.5"/>
<path d="M489.5 526.34V535.04M489.5 550.82V564.03" stroke="#333" stroke-width="1.35"/>
<rect x="487.65" y="535.04" width="3.7" height="15.79" fill="#FFFFBF" stroke="#111" stroke-width="1.4"/>
<line x1="487.65" x2="491.35" y1="544.7" y2="544.7" stroke="#111" stroke-width="1.5"/>
<path d="M495.5 545.18V556.46M495.5 570.96V583.84" stroke="#333" stroke-width="1.35"/>
<rect x="493.65" y="556.46" width="3.7" height="14.5" fill="#E6F598" stroke="#111" stroke-width="1.4"/>
<line x1="493.65" x2="497.35" y1="566.12" y2="566.12" stroke="#111" stroke-width="1.5"/>
<path d="M500.5 564.51V574.98M500.5 586.58V596.73" stroke="#333" stroke-width="1.35"/>
<rect x="498.65" y="574.98" width="3.7" height="11.6" fill="#ABDDA4" stroke="#111" stroke-width="1.4"/>
<line x1="498.65" x2="502.35" y1="583.84" y2="583.84" stroke="#111" stroke-width="1.5"/>
<path d="M506.5 581.11V588.19M506.5 597.54V603.66" stroke="#333" stroke-width="1.35"/>
<rect x="504.65" y="588.19" width="3.7" height="9.34" fill="#66C2A5" stroke="#111" stroke-width="1.4"/>
<line x1="504.65" x2="508.35" y1="594.64" y2="594.64" stroke="#111" stroke-width="1.5"/>
<path d="M511.5 591.9V596.25M511.5 603.17V605.27" stroke="#333" stroke-width="1.35"/>
<rect x="509.65" y="596.25" width="3.7" height="6.93" fill="#3288BD" stroke="#111" stroke-width="1.4"/>
<line x1="509.65" x2="513.35" y1="599.47" y2="599.47" stroke="#111" stroke-width="1.5"/>
<path d="M517.5 596.25V598.34M517.5 604.78V605.91" stroke="#333" stroke-width="1.35"/>
<rect x="515.65" y="598.34" width="3.7" height="6.44" fill="#5E4FA2" stroke="#111" stroke-width="1.4"/>
<line x1="515.65" x2="519.35" y1="601.08" y2="601.08" stroke="#111" stroke-width="1.5"/>
<rect x="453.5" y="488.5" width="72" height="129.1" fill="none" stroke="#2B2B2B" stroke-width="1.6"/>
<rect x="530.5" y="488.5" width="73" height="129.1" fill="#fff"/>
<line x1="530.5" x2="603.5" y1="494.1" y2="494.1" stroke="#E8E8E8" stroke-width="1.25"/>
<line x1="530.5" x2="603.5" y1="508.95" y2="508.95" stroke="#E8E8E8" stroke-width="1.25"/>
<line x1="530.5" x2="603.5" y1="523.8" y2="523.8" stroke="#E8E8E8" stroke-width="1.25"/>
<line x1="530.5" x2="603.5" y1="538.65" y2="538.65" stroke="#E8E8E8" stroke-width="1.25"/>
<line x1="530.5" x2="603.5" y1="553.5" y2="553.5" stroke="#E8E8E8" stroke-width="1.25"/>
<line x1="530.5" x2="603.5" y1="568.35" y2="568.35" stroke="#E8E8E8" stroke-width="1.25"/>
<line x1="530.5" x2="603.5" y1="583.2" y2="583.2" stroke="#E8E8E8" stroke-width="1.25"/>
<line x1="530.5" x2="603.5" y1="598.05" y2="598.05" stroke="#E8E8E8" stroke-width="1.25"/>
<line x1="530.5" x2="603.5" y1="612.9" y2="612.9" stroke="#E8E8E8" stroke-width="1.25"/>
<line x1="567" x2="567" y1="488.5" y2="617.6" stroke="#E8E8E8" stroke-width="1.25"/>
<path d="M539.5 496.38V497.99M539.5 503.79V509.26" stroke="#333" stroke-width="1.35"/>
<rect x="537.65" y="497.99" width="3.7" height="5.8" fill="#9E0142" stroke="#111" stroke-width="1.4"/>
<line x1="537.65" x2="541.35" y1="500.56" y2="500.56" stroke="#111" stroke-width="1.5"/>
<path d="M545.5 500.08V505.4M545.5 515.38V523.44" stroke="#333" stroke-width="1.35"/>
<rect x="543.65" y="505.4" width="3.7" height="9.99" fill="#D53E4F" stroke="#111" stroke-width="1.4"/>
<line x1="543.65" x2="547.35" y1="510.55" y2="510.55" stroke="#111" stroke-width="1.5"/>
<path d="M550.5 513.45V523.76M550.5 537.61V548.41" stroke="#333" stroke-width="1.35"/>
<rect x="548.65" y="523.76" width="3.7" height="13.85" fill="#F46D43" stroke="#111" stroke-width="1.4"/>
<line x1="548.65" x2="552.35" y1="531.17" y2="531.17" stroke="#111" stroke-width="1.5"/>
<path d="M556.5 530.69V540.35M556.5 554.37V564.51" stroke="#333" stroke-width="1.35"/>
<rect x="554.65" y="540.35" width="3.7" height="14.01" fill="#FDAE61" stroke="#111" stroke-width="1.4"/>
<line x1="554.65" x2="558.35" y1="547.92" y2="547.92" stroke="#111" stroke-width="1.5"/>
<path d="M561.5 544.38V553.72M561.5 569.83V579.01" stroke="#333" stroke-width="1.35"/>
<rect x="559.65" y="553.72" width="3.7" height="16.11" fill="#FEE08B" stroke="#111" stroke-width="1.4"/>
<line x1="559.65" x2="563.35" y1="561.29" y2="561.29" stroke="#111" stroke-width="1.5"/>
<path d="M567.5 552.43V565.32M567.5 580.62V589.48" stroke="#333" stroke-width="1.35"/>
<rect x="565.65" y="565.32" width="3.7" height="15.3" fill="#FFFFBF" stroke="#111" stroke-width="1.4"/>
<line x1="565.65" x2="569.35" y1="571.44" y2="571.44" stroke="#111" stroke-width="1.5"/>
<path d="M572.5 559.2V575.31M572.5 589.16V596.25" stroke="#333" stroke-width="1.35"/>
<rect x="570.65" y="575.31" width="3.7" height="13.85" fill="#E6F598" stroke="#111" stroke-width="1.4"/>
<line x1="570.65" x2="574.35" y1="579.49" y2="579.49" stroke="#111" stroke-width="1.5"/>
<path d="M578.5 568.86V583.36M578.5 594.64V600.76" stroke="#333" stroke-width="1.35"/>
<rect x="576.65" y="583.36" width="3.7" height="11.28" fill="#ABDDA4" stroke="#111" stroke-width="1.4"/>
<line x1="576.65" x2="580.35" y1="587.87" y2="587.87" stroke="#111" stroke-width="1.5"/>
<circle cx="578.5" cy="565" r="0.6" fill="#111"/>
<path d="M583.5 574.98V587.55M583.5 598.82V604.3" stroke="#333" stroke-width="1.35"/>
<rect x="581.65" y="587.55" width="3.7" height="11.28" fill="#66C2A5" stroke="#111" stroke-width="1.4"/>
<line x1="581.65" x2="585.35" y1="594.31" y2="594.31" stroke="#111" stroke-width="1.5"/>
<circle cx="583.5" cy="569.35" r="0.6" fill="#111"/>
<path d="M589.5 579.01V591.09M589.5 602.05V607.52" stroke="#333" stroke-width="1.35"/>
<rect x="587.65" y="591.09" width="3.7" height="10.95" fill="#3288BD" stroke="#111" stroke-width="1.4"/>
<line x1="587.65" x2="591.35" y1="599.15" y2="599.15" stroke="#111" stroke-width="1.5"/>
<circle cx="589.5" cy="573.05" r="0.6" fill="#111"/>
<circle cx="589.5" cy="575.31" r="0.6" fill="#111"/>
<path d="M594.5 583.36V594.31M594.5 604.3V608.49" stroke="#333" stroke-width="1.35"/>
<rect x="592.65" y="594.31" width="3.7" height="9.99" fill="#5E4FA2" stroke="#111" stroke-width="1.4"/>
<line x1="592.65" x2="596.35" y1="601.56" y2="601.56" stroke="#111" stroke-width="1.5"/>
<circle cx="594.5" cy="576.27" r="0.6" fill="#111"/>
<circle cx="594.5" cy="578.53" r="0.6" fill="#111"/>
<rect x="530.5" y="488.5" width="73" height="129.1" fill="none" stroke="#2B2B2B" stroke-width="1.6"/>
<rect x="608.5" y="488.5" width="72" height="129.1" fill="#fff"/>
<line x1="608.5" x2="680.5" y1="494.1" y2="494.1" stroke="#E8E8E8" stroke-width="1.25"/>
<line x1="608.5" x2="680.5" y1="508.95" y2="508.95" stroke="#E8E8E8" stroke-width="1.25"/>
<line x1="608.5" x2="680.5" y1="523.8" y2="523.8" stroke="#E8E8E8" stroke-width="1.25"/>
<line x1="608.5" x2="680.5" y1="538.65" y2="538.65" stroke="#E8E8E8" stroke-width="1.25"/>
<line x1="608.5" x2="680.5" y1="553.5" y2="553.5" stroke="#E8E8E8" stroke-width="1.25"/>
<line x1="608.5" x2="680.5" y1="568.35" y2="568.35" stroke="#E8E8E8" stroke-width="1.25"/>
<line x1="608.5" x2="680.5" y1="583.2" y2="583.2" stroke="#E8E8E8" stroke-width="1.25"/>
<line x1="608.5" x2="680.5" y1="598.05" y2="598.05" stroke="#E8E8E8" stroke-width="1.25"/>
<line x1="608.5" x2="680.5" y1="612.9" y2="612.9" stroke="#E8E8E8" stroke-width="1.25"/>
<line x1="644.5" x2="644.5" y1="488.5" y2="617.6" stroke="#E8E8E8" stroke-width="1.25"/>
<path d="M617.5 494.44V494.44M617.5 495.25V495.25" stroke="#333" stroke-width="1.35"/>
<rect x="615.65" y="494.44" width="3.7" height="0.81" fill="#9E0142" stroke="#111" stroke-width="1.4"/>
<line x1="615.65" x2="619.35" y1="494.77" y2="494.77" stroke="#111" stroke-width="1.5"/>
<path d="M622.5 495.73V495.73M622.5 496.86V496.86" stroke="#333" stroke-width="1.35"/>
<rect x="620.65" y="495.73" width="3.7" height="1.13" fill="#D53E4F" stroke="#111" stroke-width="1.4"/>
<line x1="620.65" x2="624.35" y1="496.38" y2="496.38" stroke="#111" stroke-width="1.5"/>
<path d="M628.5 498.63V498.95M628.5 500.56V500.89" stroke="#333" stroke-width="1.35"/>
<rect x="626.65" y="498.95" width="3.7" height="1.61" fill="#F46D43" stroke="#111" stroke-width="1.4"/>
<line x1="626.65" x2="630.35" y1="499.6" y2="499.6" stroke="#111" stroke-width="1.5"/>
<circle cx="628.5" cy="502.18" r="0.6" fill="#111"/>
<path d="M633.5 502.82V503.3M633.5 505.4V506.52" stroke="#333" stroke-width="1.35"/>
<rect x="631.65" y="503.3" width="3.7" height="2.09" fill="#FDAE61" stroke="#111" stroke-width="1.4"/>
<line x1="631.65" x2="635.35" y1="504.11" y2="504.11" stroke="#111" stroke-width="1.5"/>
<circle cx="633.5" cy="501.69" r="0.6" fill="#111"/>
<circle cx="633.5" cy="508.62" r="0.6" fill="#111"/>
<path d="M639.5 507.33V508.62M639.5 511.36V513.45" stroke="#333" stroke-width="1.35"/>
<rect x="637.65" y="508.62" width="3.7" height="2.74" fill="#FEE08B" stroke="#111" stroke-width="1.4"/>
<line x1="637.65" x2="641.35" y1="509.75" y2="509.75" stroke="#111" stroke-width="1.5"/>
<circle cx="639.5" cy="505.4" r="0.6" fill="#111"/>
<circle cx="639.5" cy="516.99" r="0.6" fill="#111"/>
<path d="M644.5 514.1V516.19M644.5 519.41V522.63" stroke="#333" stroke-width="1.35"/>
<rect x="642.65" y="516.19" width="3.7" height="3.22" fill="#FFFFBF" stroke="#111" stroke-width="1.4"/>
<line x1="642.65" x2="646.35" y1="517.8" y2="517.8" stroke="#111" stroke-width="1.5"/>
<circle cx="644.5" cy="510.23" r="0.6" fill="#111"/>
<circle cx="644.5" cy="526.98" r="0.6" fill="#111"/>
<path d="M650.5 520.22V525.37M650.5 530.69V536" stroke="#333" stroke-width="1.35"/>
<rect x="648.65" y="525.37" width="3.7" height="5.32" fill="#E6F598" stroke="#111" stroke-width="1.4"/>
<line x1="648.65" x2="652.35" y1="528.27" y2="528.27" stroke="#111" stroke-width="1.5"/>
<circle cx="650.5" cy="515.71" r="0.6" fill="#111"/>
<circle cx="650.5" cy="540.84" r="0.6" fill="#111"/>
<path d="M655.5 523.12V535.04M655.5 543.57V550.5" stroke="#333" stroke-width="1.35"/>
<rect x="653.65" y="535.04" width="3.7" height="8.54" fill="#ABDDA4" stroke="#111" stroke-width="1.4"/>
<line x1="653.65" x2="657.35" y1="538.26" y2="538.26" stroke="#111" stroke-width="1.5"/>
<circle cx="655.5" cy="555.65" r="0.6" fill="#111"/>
<path d="M661.5 531.17V546.31M661.5 556.94V570.47" stroke="#333" stroke-width="1.35"/>
<rect x="659.65" y="546.31" width="3.7" height="10.63" fill="#66C2A5" stroke="#111" stroke-width="1.4"/>
<line x1="659.65" x2="663.35" y1="552.11" y2="552.11" stroke="#111" stroke-width="1.5"/>
<path d="M666.5 543.09V558.07M666.5 569.35V582.72" stroke="#333" stroke-width="1.35"/>
<rect x="664.65" y="558.07" width="3.7" height="11.28" fill="#3288BD" stroke="#111" stroke-width="1.4"/>
<line x1="664.65" x2="668.35" y1="563.71" y2="563.71" stroke="#111" stroke-width="1.5"/>
<circle cx="666.5" cy="540.35" r="0.6" fill="#111"/>
<path d="M672.5 568.54V569.35M672.5 580.62V591.9" stroke="#333" stroke-width="1.35"/>
<rect x="670.65" y="569.35" width="3.7" height="11.28" fill="#5E4FA2" stroke="#111" stroke-width="1.4"/>
<line x1="670.65" x2="674.35" y1="574.98" y2="574.98" stroke="#111" stroke-width="1.5"/>
<circle cx="672.5" cy="551.14" r="0.6" fill="#111"/>
<rect x="608.5" y="488.5" width="72" height="129.1" fill="none" stroke="#2B2B2B" stroke-width="1.6"/>
<rect x="685.5" y="488.5" width="73" height="129.1" fill="#fff"/>
<line x1="685.5" x2="758.5" y1="494.1" y2="494.1" stroke="#E8E8E8" stroke-width="1.25"/>
<line x1="685.5" x2="758.5" y1="508.95" y2="508.95" stroke="#E8E8E8" stroke-width="1.25"/>
<line x1="685.5" x2="758.5" y1="523.8" y2="523.8" stroke="#E8E8E8" stroke-width="1.25"/>
<line x1="685.5" x2="758.5" y1="538.65" y2="538.65" stroke="#E8E8E8" stroke-width="1.25"/>
<line x1="685.5" x2="758.5" y1="553.5" y2="553.5" stroke="#E8E8E8" stroke-width="1.25"/>
<line x1="685.5" x2="758.5" y1="568.35" y2="568.35" stroke="#E8E8E8" stroke-width="1.25"/>
<line x1="685.5" x2="758.5" y1="583.2" y2="583.2" stroke="#E8E8E8" stroke-width="1.25"/>
<line x1="685.5" x2="758.5" y1="598.05" y2="598.05" stroke="#E8E8E8" stroke-width="1.25"/>
<line x1="685.5" x2="758.5" y1="612.9" y2="612.9" stroke="#E8E8E8" stroke-width="1.25"/>
<line x1="722" x2="722" y1="488.5" y2="617.6" stroke="#E8E8E8" stroke-width="1.25"/>
<path d="M694.5 494.12V494.12M694.5 495.25V495.25" stroke="#333" stroke-width="1.35"/>
<rect x="692.65" y="494.12" width="3.7" height="1.13" fill="#9E0142" stroke="#111" stroke-width="1.4"/>
<line x1="692.65" x2="696.35" y1="494.77" y2="494.77" stroke="#111" stroke-width="1.5"/>
<path d="M700.5 495.25V495.25M700.5 496.86V496.86" stroke="#333" stroke-width="1.35"/>
<rect x="698.65" y="495.25" width="3.7" height="1.61" fill="#D53E4F" stroke="#111" stroke-width="1.4"/>
<line x1="698.65" x2="702.35" y1="495.73" y2="495.73" stroke="#111" stroke-width="1.5"/>
<path d="M705.5 496.86V497.34M705.5 499.28V499.6" stroke="#333" stroke-width="1.35"/>
<rect x="703.65" y="497.34" width="3.7" height="1.93" fill="#F46D43" stroke="#111" stroke-width="1.4"/>
<line x1="703.65" x2="707.35" y1="497.99" y2="497.99" stroke="#111" stroke-width="1.5"/>
<circle cx="705.5" cy="503.3" r="0.6" fill="#111"/>
<path d="M711.5 498.47V500.08M711.5 503.3V504.11" stroke="#333" stroke-width="1.35"/>
<rect x="709.65" y="500.08" width="3.7" height="3.22" fill="#FDAE61" stroke="#111" stroke-width="1.4"/>
<line x1="709.65" x2="713.35" y1="501.21" y2="501.21" stroke="#111" stroke-width="1.5"/>
<circle cx="711.5" cy="510.55" r="0.6" fill="#111"/>
<path d="M716.5 500.56V504.11M716.5 508.14V509.75" stroke="#333" stroke-width="1.35"/>
<rect x="714.65" y="504.11" width="3.7" height="4.03" fill="#FEE08B" stroke="#111" stroke-width="1.4"/>
<line x1="714.65" x2="718.35" y1="506.04" y2="506.04" stroke="#111" stroke-width="1.5"/>
<circle cx="716.5" cy="521.02" r="0.6" fill="#111"/>
<path d="M722.5 503.3V508.62M722.5 513.77V519.89" stroke="#333" stroke-width="1.35"/>
<rect x="720.65" y="508.62" width="3.7" height="5.15" fill="#FFFFBF" stroke="#111" stroke-width="1.4"/>
<line x1="720.65" x2="724.35" y1="510.55" y2="510.55" stroke="#111" stroke-width="1.5"/>
<circle cx="722.5" cy="533.91" r="0.6" fill="#111"/>
<path d="M727.5 506.04V515.06M727.5 522.15V531.17" stroke="#333" stroke-width="1.35"/>
<rect x="725.65" y="515.06" width="3.7" height="7.09" fill="#E6F598" stroke="#111" stroke-width="1.4"/>
<line x1="725.65" x2="729.35" y1="516.99" y2="516.99" stroke="#111" stroke-width="1.5"/>
<circle cx="727.5" cy="549.53" r="0.6" fill="#111"/>
<path d="M733.5 510.23V522.63M733.5 533.43V545.18" stroke="#333" stroke-width="1.35"/>
<rect x="731.65" y="522.63" width="3.7" height="10.79" fill="#ABDDA4" stroke="#111" stroke-width="1.4"/>
<line x1="731.65" x2="735.35" y1="525.37" y2="525.37" stroke="#111" stroke-width="1.5"/>
<circle cx="733.5" cy="565.64" r="0.6" fill="#111"/>
<path d="M738.5 515.06V532.3M738.5 544.7V559.68" stroke="#333" stroke-width="1.35"/>
<rect x="736.65" y="532.3" width="3.7" height="12.4" fill="#66C2A5" stroke="#111" stroke-width="1.4"/>
<line x1="736.65" x2="740.35" y1="536" y2="536" stroke="#111" stroke-width="1.5"/>
<circle cx="738.5" cy="579.49" r="0.6" fill="#111"/>
<path d="M744.5 539.87V543.57M744.5 557.27V573.05" stroke="#333" stroke-width="1.35"/>
<rect x="742.65" y="543.57" width="3.7" height="13.69" fill="#3288BD" stroke="#111" stroke-width="1.4"/>
<line x1="742.65" x2="746.35" y1="548.41" y2="548.41" stroke="#111" stroke-width="1.5"/>
<circle cx="744.5" cy="520.54" r="0.6" fill="#111"/>
<circle cx="744.5" cy="589.8" r="0.6" fill="#111"/>
<path d="M749.5 552.11V554.37M749.5 569.35V583.84" stroke="#333" stroke-width="1.35"/>
<rect x="747.65" y="554.37" width="3.7" height="14.98" fill="#5E4FA2" stroke="#111" stroke-width="1.4"/>
<line x1="747.65" x2="751.35" y1="560.81" y2="560.81" stroke="#111" stroke-width="1.5"/>
<circle cx="749.5" cy="526.98" r="0.6" fill="#111"/>
<circle cx="749.5" cy="596.25" r="0.6" fill="#111"/>
<rect x="685.5" y="488.5" width="73" height="129.1" fill="none" stroke="#2B2B2B" stroke-width="1.6"/>
<line x1="63.7" x2="66.5" y1="494.1" y2="494.1" stroke="#2B2B2B" stroke-width="1.1"/>
<line x1="63.7" x2="66.5" y1="523.8" y2="523.8" stroke="#2B2B2B" stroke-width="1.1"/>
<text x="61.3" y="530" font-size="11.5" font-weight="normal" text-anchor="end" fill="#262626" >0.75</text>
<line x1="63.7" x2="66.5" y1="553.5" y2="553.5" stroke="#2B2B2B" stroke-width="1.1"/>
<text x="61.3" y="559.7" font-size="11.5" font-weight="normal" text-anchor="end" fill="#262626" >0.50</text>
<line x1="63.7" x2="66.5" y1="583.2" y2="583.2" stroke="#2B2B2B" stroke-width="1.1"/>
<text x="61.3" y="589.4" font-size="11.5" font-weight="normal" text-anchor="end" fill="#262626" >0.25</text>
<line x1="63.7" x2="66.5" y1="612.9" y2="612.9" stroke="#2B2B2B" stroke-width="1.1"/>
<rect x="67.5" y="626.6" width="72" height="129" fill="#fff"/>
<line x1="67.5" x2="139.5" y1="637.3" y2="637.3" stroke="#E8E8E8" stroke-width="1.25"/>
<line x1="67.5" x2="139.5" y1="652.8" y2="652.8" stroke="#E8E8E8" stroke-width="1.25"/>
<line x1="67.5" x2="139.5" y1="668.3" y2="668.3" stroke="#E8E8E8" stroke-width="1.25"/>
<line x1="67.5" x2="139.5" y1="683.8" y2="683.8" stroke="#E8E8E8" stroke-width="1.25"/>
<line x1="67.5" x2="139.5" y1="699.3" y2="699.3" stroke="#E8E8E8" stroke-width="1.25"/>
<line x1="67.5" x2="139.5" y1="714.8" y2="714.8" stroke="#E8E8E8" stroke-width="1.25"/>
<line x1="67.5" x2="139.5" y1="730.3" y2="730.3" stroke="#E8E8E8" stroke-width="1.25"/>
<line x1="67.5" x2="139.5" y1="745.8" y2="745.8" stroke="#E8E8E8" stroke-width="1.25"/>
<line x1="103.5" x2="103.5" y1="626.6" y2="755.6" stroke="#E8E8E8" stroke-width="1.25"/>
<path d="M76.5 689.14V693.33M76.5 703V708.15" stroke="#333" stroke-width="1.35"/>
<rect x="74.65" y="693.33" width="3.7" height="9.66" fill="#9E0142" stroke="#111" stroke-width="1.4"/>
<line x1="74.65" x2="78.35" y1="698.16" y2="698.16" stroke="#111" stroke-width="1.5"/>
<path d="M81.5 682.38V686.41M81.5 695.27V697.68" stroke="#333" stroke-width="1.35"/>
<rect x="79.65" y="686.41" width="3.7" height="8.86" fill="#D53E4F" stroke="#111" stroke-width="1.4"/>
<line x1="79.65" x2="83.35" y1="690.43" y2="690.43" stroke="#111" stroke-width="1.5"/>
<path d="M87.5 671.1V675.61M87.5 684.31V685.92" stroke="#333" stroke-width="1.35"/>
<rect x="85.65" y="675.61" width="3.7" height="8.7" fill="#F46D43" stroke="#111" stroke-width="1.4"/>
<line x1="85.65" x2="89.35" y1="678.84" y2="678.84" stroke="#111" stroke-width="1.5"/>
<path d="M92.5 663.05V667.08M92.5 673.52V677.55" stroke="#333" stroke-width="1.35"/>
<rect x="90.65" y="667.08" width="3.7" height="6.44" fill="#FDAE61" stroke="#111" stroke-width="1.4"/>
<line x1="90.65" x2="94.35" y1="669.81" y2="669.81" stroke="#111" stroke-width="1.5"/>
<path d="M98.5 657.41V661.12M98.5 667.08V670.3" stroke="#333" stroke-width="1.35"/>
<rect x="96.65" y="661.12" width="3.7" height="5.96" fill="#FEE08B" stroke="#111" stroke-width="1.4"/>
<line x1="96.65" x2="100.35" y1="663.85" y2="663.85" stroke="#111" stroke-width="1.5"/>
<path d="M103.5 653.38V656.93M103.5 662.24V665.47" stroke="#333" stroke-width="1.35"/>
<rect x="101.65" y="656.93" width="3.7" height="5.32" fill="#FFFFBF" stroke="#111" stroke-width="1.4"/>
<line x1="101.65" x2="105.35" y1="659.83" y2="659.83" stroke="#111" stroke-width="1.5"/>
<path d="M109.5 650.48V653.38M109.5 659.02V661.44" stroke="#333" stroke-width="1.35"/>
<rect x="107.65" y="653.38" width="3.7" height="5.64" fill="#E6F598" stroke="#111" stroke-width="1.4"/>
<line x1="107.65" x2="111.35" y1="655.8" y2="655.8" stroke="#111" stroke-width="1.5"/>
<path d="M114.5 648.23V650.97M114.5 655.8V659.02" stroke="#333" stroke-width="1.35"/>
<rect x="112.65" y="650.97" width="3.7" height="4.83" fill="#ABDDA4" stroke="#111" stroke-width="1.4"/>
<line x1="112.65" x2="116.35" y1="653.38" y2="653.38" stroke="#111" stroke-width="1.5"/>
<path d="M120.5 646.62V649.36M120.5 653.38V656.61" stroke="#333" stroke-width="1.35"/>
<rect x="118.65" y="649.36" width="3.7" height="4.03" fill="#66C2A5" stroke="#111" stroke-width="1.4"/>
<line x1="118.65" x2="122.35" y1="650.97" y2="650.97" stroke="#111" stroke-width="1.5"/>
<path d="M125.5 644.52V647.75M125.5 653.38V655.8" stroke="#333" stroke-width="1.35"/>
<rect x="123.65" y="647.75" width="3.7" height="5.64" fill="#3288BD" stroke="#111" stroke-width="1.4"/>
<line x1="123.65" x2="127.35" y1="650.48" y2="650.48" stroke="#111" stroke-width="1.5"/>
<path d="M131.5 643.4V646.94M131.5 654.19V657.41" stroke="#333" stroke-width="1.35"/>
<rect x="129.65" y="646.94" width="3.7" height="7.25" fill="#5E4FA2" stroke="#111" stroke-width="1.4"/>
<line x1="129.65" x2="133.35" y1="650.16" y2="650.16" stroke="#111" stroke-width="1.5"/>
<rect x="67.5" y="626.6" width="72" height="129" fill="none" stroke="#2B2B2B" stroke-width="1.6"/>
<rect x="144.5" y="626.6" width="72" height="129" fill="#fff"/>
<line x1="144.5" x2="216.5" y1="637.3" y2="637.3" stroke="#E8E8E8" stroke-width="1.25"/>
<line x1="144.5" x2="216.5" y1="652.8" y2="652.8" stroke="#E8E8E8" stroke-width="1.25"/>
<line x1="144.5" x2="216.5" y1="668.3" y2="668.3" stroke="#E8E8E8" stroke-width="1.25"/>
<line x1="144.5" x2="216.5" y1="683.8" y2="683.8" stroke="#E8E8E8" stroke-width="1.25"/>
<line x1="144.5" x2="216.5" y1="699.3" y2="699.3" stroke="#E8E8E8" stroke-width="1.25"/>
<line x1="144.5" x2="216.5" y1="714.8" y2="714.8" stroke="#E8E8E8" stroke-width="1.25"/>
<line x1="144.5" x2="216.5" y1="730.3" y2="730.3" stroke="#E8E8E8" stroke-width="1.25"/>
<line x1="144.5" x2="216.5" y1="745.8" y2="745.8" stroke="#E8E8E8" stroke-width="1.25"/>
<line x1="180.5" x2="180.5" y1="626.6" y2="755.6" stroke="#E8E8E8" stroke-width="1.25"/>
<path d="M153.5 663.05V666.59M153.5 680.45V683.18" stroke="#333" stroke-width="1.35"/>
<rect x="151.65" y="666.59" width="3.7" height="13.85" fill="#9E0142" stroke="#111" stroke-width="1.4"/>
<line x1="151.65" x2="155.35" y1="673.52" y2="673.52" stroke="#111" stroke-width="1.5"/>
<path d="M158.5 660.15V664.66M158.5 675.13V678.35" stroke="#333" stroke-width="1.35"/>
<rect x="156.65" y="664.66" width="3.7" height="10.47" fill="#D53E4F" stroke="#111" stroke-width="1.4"/>
<line x1="156.65" x2="160.35" y1="669.49" y2="669.49" stroke="#111" stroke-width="1.5"/>
<path d="M164.5 655.8V661.12M164.5 669.17V671.43" stroke="#333" stroke-width="1.35"/>
<rect x="162.65" y="661.12" width="3.7" height="8.05" fill="#F46D43" stroke="#111" stroke-width="1.4"/>
<line x1="162.65" x2="166.35" y1="663.85" y2="663.85" stroke="#111" stroke-width="1.5"/>
<path d="M169.5 653.06V658.22M169.5 664.34V666.27" stroke="#333" stroke-width="1.35"/>
<rect x="167.65" y="658.22" width="3.7" height="6.12" fill="#FDAE61" stroke="#111" stroke-width="1.4"/>
<line x1="167.65" x2="171.35" y1="661.44" y2="661.44" stroke="#111" stroke-width="1.5"/>
<path d="M175.5 650.48V654.67M175.5 659.83V662.24" stroke="#333" stroke-width="1.35"/>
<rect x="173.65" y="654.67" width="3.7" height="5.15" fill="#FEE08B" stroke="#111" stroke-width="1.4"/>
<line x1="173.65" x2="177.35" y1="657.41" y2="657.41" stroke="#111" stroke-width="1.5"/>
<path d="M180.5 648.23V650.97M180.5 654.99V658.22" stroke="#333" stroke-width="1.35"/>
<rect x="178.65" y="650.97" width="3.7" height="4.03" fill="#FFFFBF" stroke="#111" stroke-width="1.4"/>
<line x1="178.65" x2="182.35" y1="652.58" y2="652.58" stroke="#111" stroke-width="1.5"/>
<path d="M186.5 644.04V646.94M186.5 650.97V654.19" stroke="#333" stroke-width="1.35"/>
<rect x="184.65" y="646.94" width="3.7" height="4.03" fill="#E6F598" stroke="#111" stroke-width="1.4"/>
<line x1="184.65" x2="188.35" y1="648.55" y2="648.55" stroke="#111" stroke-width="1.5"/>
<path d="M191.5 640.18V644.52M191.5 648.55V651.77" stroke="#333" stroke-width="1.35"/>
<rect x="189.65" y="644.52" width="3.7" height="4.03" fill="#ABDDA4" stroke="#111" stroke-width="1.4"/>
<line x1="189.65" x2="193.35" y1="646.14" y2="646.14" stroke="#111" stroke-width="1.5"/>
<path d="M197.5 636.95V641.3M197.5 646.94V650.16" stroke="#333" stroke-width="1.35"/>
<rect x="195.65" y="641.3" width="3.7" height="5.64" fill="#66C2A5" stroke="#111" stroke-width="1.4"/>
<line x1="195.65" x2="199.35" y1="643.72" y2="643.72" stroke="#111" stroke-width="1.5"/>
<path d="M202.5 635.99V640.18M202.5 649.36V652.58" stroke="#333" stroke-width="1.35"/>
<rect x="200.65" y="640.18" width="3.7" height="9.18" fill="#3288BD" stroke="#111" stroke-width="1.4"/>
<line x1="200.65" x2="204.35" y1="644.52" y2="644.52" stroke="#111" stroke-width="1.5"/>
<path d="M208.5 635.34V640.18M208.5 651.45V653.71" stroke="#333" stroke-width="1.35"/>
<rect x="206.65" y="640.18" width="3.7" height="11.28" fill="#5E4FA2" stroke="#111" stroke-width="1.4"/>
<line x1="206.65" x2="210.35" y1="644.52" y2="644.52" stroke="#111" stroke-width="1.5"/>
<rect x="144.5" y="626.6" width="72" height="129" fill="none" stroke="#2B2B2B" stroke-width="1.6"/>
<rect x="221.5" y="626.6" width="73" height="129" fill="#fff"/>
<line x1="221.5" x2="294.5" y1="637.3" y2="637.3" stroke="#E8E8E8" stroke-width="1.25"/>
<line x1="221.5" x2="294.5" y1="652.8" y2="652.8" stroke="#E8E8E8" stroke-width="1.25"/>
<line x1="221.5" x2="294.5" y1="668.3" y2="668.3" stroke="#E8E8E8" stroke-width="1.25"/>
<line x1="221.5" x2="294.5" y1="683.8" y2="683.8" stroke="#E8E8E8" stroke-width="1.25"/>
<line x1="221.5" x2="294.5" y1="699.3" y2="699.3" stroke="#E8E8E8" stroke-width="1.25"/>
<line x1="221.5" x2="294.5" y1="714.8" y2="714.8" stroke="#E8E8E8" stroke-width="1.25"/>
<line x1="221.5" x2="294.5" y1="730.3" y2="730.3" stroke="#E8E8E8" stroke-width="1.25"/>
<line x1="221.5" x2="294.5" y1="745.8" y2="745.8" stroke="#E8E8E8" stroke-width="1.25"/>
<line x1="258" x2="258" y1="626.6" y2="755.6" stroke="#E8E8E8" stroke-width="1.25"/>
<path d="M230.5 716.21V725.07M230.5 734.25V739.56" stroke="#333" stroke-width="1.35"/>
<rect x="228.65" y="725.07" width="3.7" height="9.18" fill="#9E0142" stroke="#111" stroke-width="1.4"/>
<line x1="228.65" x2="232.35" y1="729.9" y2="729.9" stroke="#111" stroke-width="1.5"/>
<circle cx="230.5" cy="748.42" r="0.6" fill="#111"/>
<circle cx="230.5" cy="749.71" r="0.6" fill="#111"/>
<path d="M236.5 694.46V699.29M236.5 707.35V716.21" stroke="#333" stroke-width="1.35"/>
<rect x="234.65" y="699.29" width="3.7" height="8.05" fill="#D53E4F" stroke="#111" stroke-width="1.4"/>
<line x1="234.65" x2="238.35" y1="703" y2="703" stroke="#111" stroke-width="1.5"/>
<path d="M241.5 669.81V673.52M241.5 681.57V684.8" stroke="#333" stroke-width="1.35"/>
<rect x="239.65" y="673.52" width="3.7" height="8.05" fill="#F46D43" stroke="#111" stroke-width="1.4"/>
<line x1="239.65" x2="243.35" y1="677.22" y2="677.22" stroke="#111" stroke-width="1.5"/>
<path d="M247.5 657.41V659.83M247.5 666.59V669.81" stroke="#333" stroke-width="1.35"/>
<rect x="245.65" y="659.83" width="3.7" height="6.77" fill="#FDAE61" stroke="#111" stroke-width="1.4"/>
<line x1="245.65" x2="249.35" y1="662.73" y2="662.73" stroke="#111" stroke-width="1.5"/>
<path d="M252.5 650.97V653.06M252.5 657.41V660.63" stroke="#333" stroke-width="1.35"/>
<rect x="250.65" y="653.06" width="3.7" height="4.35" fill="#FEE08B" stroke="#111" stroke-width="1.4"/>
<line x1="250.65" x2="254.35" y1="655.32" y2="655.32" stroke="#111" stroke-width="1.5"/>
<path d="M258.5 646.94V648.55M258.5 653.06V654.99" stroke="#333" stroke-width="1.35"/>
<rect x="256.65" y="648.55" width="3.7" height="4.51" fill="#FFFFBF" stroke="#111" stroke-width="1.4"/>
<line x1="256.65" x2="260.35" y1="650.16" y2="650.16" stroke="#111" stroke-width="1.5"/>
<path d="M263.5 644.04V645.33M263.5 649.36V650.97" stroke="#333" stroke-width="1.35"/>
<rect x="261.65" y="645.33" width="3.7" height="4.03" fill="#E6F598" stroke="#111" stroke-width="1.4"/>
<line x1="261.65" x2="265.35" y1="646.94" y2="646.94" stroke="#111" stroke-width="1.5"/>
<path d="M269.5 642.11V642.91M269.5 646.14V647.75" stroke="#333" stroke-width="1.35"/>
<rect x="267.65" y="642.91" width="3.7" height="3.22" fill="#ABDDA4" stroke="#111" stroke-width="1.4"/>
<line x1="267.65" x2="271.35" y1="644.52" y2="644.52" stroke="#111" stroke-width="1.5"/>
<path d="M274.5 640.5V641.3M274.5 644.52V646.14" stroke="#333" stroke-width="1.35"/>
<rect x="272.65" y="641.3" width="3.7" height="3.22" fill="#66C2A5" stroke="#111" stroke-width="1.4"/>
<line x1="272.65" x2="276.35" y1="642.43" y2="642.43" stroke="#111" stroke-width="1.5"/>
<path d="M280.5 639.69V640.18M280.5 642.91V645.01" stroke="#333" stroke-width="1.35"/>
<rect x="278.65" y="640.18" width="3.7" height="2.74" fill="#3288BD" stroke="#111" stroke-width="1.4"/>
<line x1="278.65" x2="282.35" y1="641.3" y2="641.3" stroke="#111" stroke-width="1.5"/>
<path d="M285.5 638.08V638.89M285.5 642.11V644.04" stroke="#333" stroke-width="1.35"/>
<rect x="283.65" y="638.89" width="3.7" height="3.22" fill="#5E4FA2" stroke="#111" stroke-width="1.4"/>
<line x1="283.65" x2="287.35" y1="640.5" y2="640.5" stroke="#111" stroke-width="1.5"/>
<rect x="221.5" y="626.6" width="73" height="129" fill="none" stroke="#2B2B2B" stroke-width="1.6"/>
<rect x="299.5" y="626.6" width="72" height="129" fill="#fff"/>
<line x1="299.5" x2="371.5" y1="637.3" y2="637.3" stroke="#E8E8E8" stroke-width="1.25"/>
<line x1="299.5" x2="371.5" y1="652.8" y2="652.8" stroke="#E8E8E8" stroke-width="1.25"/>
<line x1="299.5" x2="371.5" y1="668.3" y2="668.3" stroke="#E8E8E8" stroke-width="1.25"/>
<line x1="299.5" x2="371.5" y1="683.8" y2="683.8" stroke="#E8E8E8" stroke-width="1.25"/>
<line x1="299.5" x2="371.5" y1="699.3" y2="699.3" stroke="#E8E8E8" stroke-width="1.25"/>
<line x1="299.5" x2="371.5" y1="714.8" y2="714.8" stroke="#E8E8E8" stroke-width="1.25"/>
<line x1="299.5" x2="371.5" y1="730.3" y2="730.3" stroke="#E8E8E8" stroke-width="1.25"/>
<line x1="299.5" x2="371.5" y1="745.8" y2="745.8" stroke="#E8E8E8" stroke-width="1.25"/>
<line x1="335.5" x2="335.5" y1="626.6" y2="755.6" stroke="#E8E8E8" stroke-width="1.25"/>
<path d="M308.5 647.75V652.58M308.5 667.08V685.6" stroke="#333" stroke-width="1.35"/>
<rect x="306.65" y="652.58" width="3.7" height="14.5" fill="#9E0142" stroke="#111" stroke-width="1.4"/>
<line x1="306.65" x2="310.35" y1="663.05" y2="663.05" stroke="#111" stroke-width="1.5"/>
<path d="M313.5 646.62V649.84M313.5 663.05V679.96" stroke="#333" stroke-width="1.35"/>
<rect x="311.65" y="649.84" width="3.7" height="13.21" fill="#D53E4F" stroke="#111" stroke-width="1.4"/>
<line x1="311.65" x2="315.35" y1="659.02" y2="659.02" stroke="#111" stroke-width="1.5"/>
<path d="M319.5 644.04V646.62M319.5 659.02V671.43" stroke="#333" stroke-width="1.35"/>
<rect x="317.65" y="646.62" width="3.7" height="12.4" fill="#F46D43" stroke="#111" stroke-width="1.4"/>
<line x1="317.65" x2="321.35" y1="655.8" y2="655.8" stroke="#111" stroke-width="1.5"/>
<path d="M324.5 643.4V645.33M324.5 655.32V663.85" stroke="#333" stroke-width="1.35"/>
<rect x="322.65" y="645.33" width="3.7" height="9.99" fill="#FDAE61" stroke="#111" stroke-width="1.4"/>
<line x1="322.65" x2="326.35" y1="653.71" y2="653.71" stroke="#111" stroke-width="1.5"/>
<path d="M330.5 641.79V643.72M330.5 652.58V657.41" stroke="#333" stroke-width="1.35"/>
<rect x="328.65" y="643.72" width="3.7" height="8.86" fill="#FEE08B" stroke="#111" stroke-width="1.4"/>
<line x1="328.65" x2="332.35" y1="650.97" y2="650.97" stroke="#111" stroke-width="1.5"/>
<path d="M335.5 640.18V642.11M335.5 649.84V652.58" stroke="#333" stroke-width="1.35"/>
<rect x="333.65" y="642.11" width="3.7" height="7.73" fill="#FFFFBF" stroke="#111" stroke-width="1.4"/>
<line x1="333.65" x2="337.35" y1="646.14" y2="646.14" stroke="#111" stroke-width="1.5"/>
<path d="M341.5 639.21V640.5M341.5 647.75V649.84" stroke="#333" stroke-width="1.35"/>
<rect x="339.65" y="640.5" width="3.7" height="7.25" fill="#E6F598" stroke="#111" stroke-width="1.4"/>
<line x1="339.65" x2="343.35" y1="644.04" y2="644.04" stroke="#111" stroke-width="1.5"/>
<path d="M346.5 637.28V639.21M346.5 645.01V648.87" stroke="#333" stroke-width="1.35"/>
<rect x="344.65" y="639.21" width="3.7" height="5.8" fill="#ABDDA4" stroke="#111" stroke-width="1.4"/>
<line x1="344.65" x2="348.35" y1="642.11" y2="642.11" stroke="#111" stroke-width="1.5"/>
<circle cx="346.5" cy="650.97" r="0.6" fill="#111"/>
<path d="M352.5 635.34V636.95M352.5 642.91V644.52" stroke="#333" stroke-width="1.35"/>
<rect x="350.65" y="636.95" width="3.7" height="5.96" fill="#66C2A5" stroke="#111" stroke-width="1.4"/>
<line x1="350.65" x2="354.35" y1="639.69" y2="639.69" stroke="#111" stroke-width="1.5"/>
<circle cx="352.5" cy="651.77" r="0.6" fill="#111"/>
<circle cx="352.5" cy="652.1" r="0.6" fill="#111"/>
<path d="M357.5 633.73V635.66M357.5 640.82V643.4" stroke="#333" stroke-width="1.35"/>
<rect x="355.65" y="635.66" width="3.7" height="5.15" fill="#3288BD" stroke="#111" stroke-width="1.4"/>
<line x1="355.65" x2="359.35" y1="638.08" y2="638.08" stroke="#111" stroke-width="1.5"/>
<circle cx="357.5" cy="653.38" r="0.6" fill="#111"/>
<path d="M363.5 632.44V634.86M363.5 640.5V642.91" stroke="#333" stroke-width="1.35"/>
<rect x="361.65" y="634.86" width="3.7" height="5.64" fill="#5E4FA2" stroke="#111" stroke-width="1.4"/>
<line x1="361.65" x2="365.35" y1="637.28" y2="637.28" stroke="#111" stroke-width="1.5"/>
<circle cx="363.5" cy="651.45" r="0.6" fill="#111"/>
<rect x="299.5" y="626.6" width="72" height="129" fill="none" stroke="#2B2B2B" stroke-width="1.6"/>
<rect x="376.5" y="626.6" width="72" height="129" fill="#fff"/>
<line x1="376.5" x2="448.5" y1="637.3" y2="637.3" stroke="#E8E8E8" stroke-width="1.25"/>
<line x1="376.5" x2="448.5" y1="652.8" y2="652.8" stroke="#E8E8E8" stroke-width="1.25"/>
<line x1="376.5" x2="448.5" y1="668.3" y2="668.3" stroke="#E8E8E8" stroke-width="1.25"/>
<line x1="376.5" x2="448.5" y1="683.8" y2="683.8" stroke="#E8E8E8" stroke-width="1.25"/>
<line x1="376.5" x2="448.5" y1="699.3" y2="699.3" stroke="#E8E8E8" stroke-width="1.25"/>
<line x1="376.5" x2="448.5" y1="714.8" y2="714.8" stroke="#E8E8E8" stroke-width="1.25"/>
<line x1="376.5" x2="448.5" y1="730.3" y2="730.3" stroke="#E8E8E8" stroke-width="1.25"/>
<line x1="376.5" x2="448.5" y1="745.8" y2="745.8" stroke="#E8E8E8" stroke-width="1.25"/>
<line x1="412.5" x2="412.5" y1="626.6" y2="755.6" stroke="#E8E8E8" stroke-width="1.25"/>
<path d="M385.5 637.6V641.79M385.5 646.62V651.77" stroke="#333" stroke-width="1.35"/>
<rect x="383.65" y="641.79" width="3.7" height="4.83" fill="#9E0142" stroke="#111" stroke-width="1.4"/>
<line x1="383.65" x2="387.35" y1="643.72" y2="643.72" stroke="#111" stroke-width="1.5"/>
<circle cx="385.5" cy="655.8" r="0.6" fill="#111"/>
<path d="M390.5 636.95V641.3M390.5 645.01V649.36" stroke="#333" stroke-width="1.35"/>
<rect x="388.65" y="641.3" width="3.7" height="3.7" fill="#D53E4F" stroke="#111" stroke-width="1.4"/>
<line x1="388.65" x2="392.35" y1="642.43" y2="642.43" stroke="#111" stroke-width="1.5"/>
<circle cx="390.5" cy="652.1" r="0.6" fill="#111"/>
<circle cx="390.5" cy="654.19" r="0.6" fill="#111"/>
<path d="M396.5 636.47V640.18M396.5 643.72V648.55" stroke="#333" stroke-width="1.35"/>
<rect x="394.65" y="640.18" width="3.7" height="3.54" fill="#F46D43" stroke="#111" stroke-width="1.4"/>
<line x1="394.65" x2="398.35" y1="641.79" y2="641.79" stroke="#111" stroke-width="1.5"/>
<circle cx="396.5" cy="650.97" r="0.6" fill="#111"/>
<circle cx="396.5" cy="652.1" r="0.6" fill="#111"/>
<path d="M401.5 635.99V639.69M401.5 643.4V646.94" stroke="#333" stroke-width="1.35"/>
<rect x="399.65" y="639.69" width="3.7" height="3.7" fill="#FDAE61" stroke="#111" stroke-width="1.4"/>
<line x1="399.65" x2="403.35" y1="641.3" y2="641.3" stroke="#111" stroke-width="1.5"/>
<circle cx="401.5" cy="650.16" r="0.6" fill="#111"/>
<path d="M407.5 635.99V639.21M407.5 642.43V645.33" stroke="#333" stroke-width="1.35"/>
<rect x="405.65" y="639.21" width="3.7" height="3.22" fill="#FEE08B" stroke="#111" stroke-width="1.4"/>
<line x1="405.65" x2="409.35" y1="640.5" y2="640.5" stroke="#111" stroke-width="1.5"/>
<circle cx="407.5" cy="634.86" r="0.6" fill="#111"/>
<circle cx="407.5" cy="648.55" r="0.6" fill="#111"/>
<path d="M412.5 635.66V638.56M412.5 641.79V644.04" stroke="#333" stroke-width="1.35"/>
<rect x="410.65" y="638.56" width="3.7" height="3.22" fill="#FFFFBF" stroke="#111" stroke-width="1.4"/>
<line x1="410.65" x2="414.35" y1="640.18" y2="640.18" stroke="#111" stroke-width="1.5"/>
<circle cx="412.5" cy="646.62" r="0.6" fill="#111"/>
<path d="M418.5 635.34V637.28M418.5 640.82V642.11" stroke="#333" stroke-width="1.35"/>
<rect x="416.65" y="637.28" width="3.7" height="3.54" fill="#E6F598" stroke="#111" stroke-width="1.4"/>
<line x1="416.65" x2="420.35" y1="638.89" y2="638.89" stroke="#111" stroke-width="1.5"/>
<path d="M423.5 634.86V636.95M423.5 638.89V640.18" stroke="#333" stroke-width="1.35"/>
<rect x="421.65" y="636.95" width="3.7" height="1.93" fill="#ABDDA4" stroke="#111" stroke-width="1.4"/>
<line x1="421.65" x2="425.35" y1="637.6" y2="637.6" stroke="#111" stroke-width="1.5"/>
<circle cx="423.5" cy="642.11" r="0.6" fill="#111"/>
<path d="M429.5 634.86V635.66M429.5 637.6V638.89" stroke="#333" stroke-width="1.35"/>
<rect x="427.65" y="635.66" width="3.7" height="1.93" fill="#66C2A5" stroke="#111" stroke-width="1.4"/>
<line x1="427.65" x2="431.35" y1="636.47" y2="636.47" stroke="#111" stroke-width="1.5"/>
<circle cx="429.5" cy="640.18" r="0.6" fill="#111"/>
<path d="M434.5 633.73V634.86M434.5 636.47V638.08" stroke="#333" stroke-width="1.35"/>
<rect x="432.65" y="634.86" width="3.7" height="1.61" fill="#3288BD" stroke="#111" stroke-width="1.4"/>
<line x1="432.65" x2="436.35" y1="635.66" y2="635.66" stroke="#111" stroke-width="1.5"/>
<path d="M440.5 632.77V633.73M440.5 635.34V637.28" stroke="#333" stroke-width="1.35"/>
<rect x="438.65" y="633.73" width="3.7" height="1.61" fill="#5E4FA2" stroke="#111" stroke-width="1.4"/>
<line x1="438.65" x2="442.35" y1="634.38" y2="634.38" stroke="#111" stroke-width="1.5"/>
<rect x="376.5" y="626.6" width="72" height="129" fill="none" stroke="#2B2B2B" stroke-width="1.6"/>
<rect x="453.5" y="626.6" width="73" height="129" fill="#fff"/>
<line x1="453.5" x2="526.5" y1="637.3" y2="637.3" stroke="#E8E8E8" stroke-width="1.25"/>
<line x1="453.5" x2="526.5" y1="652.8" y2="652.8" stroke="#E8E8E8" stroke-width="1.25"/>
<line x1="453.5" x2="526.5" y1="668.3" y2="668.3" stroke="#E8E8E8" stroke-width="1.25"/>
<line x1="453.5" x2="526.5" y1="683.8" y2="683.8" stroke="#E8E8E8" stroke-width="1.25"/>
<line x1="453.5" x2="526.5" y1="699.3" y2="699.3" stroke="#E8E8E8" stroke-width="1.25"/>
<line x1="453.5" x2="526.5" y1="714.8" y2="714.8" stroke="#E8E8E8" stroke-width="1.25"/>
<line x1="453.5" x2="526.5" y1="730.3" y2="730.3" stroke="#E8E8E8" stroke-width="1.25"/>
<line x1="453.5" x2="526.5" y1="745.8" y2="745.8" stroke="#E8E8E8" stroke-width="1.25"/>
<line x1="490" x2="490" y1="626.6" y2="755.6" stroke="#E8E8E8" stroke-width="1.25"/>
<path d="M462.5 649.36V652.1M462.5 656.28V658.22" stroke="#333" stroke-width="1.35"/>
<rect x="460.65" y="652.1" width="3.7" height="4.19" fill="#9E0142" stroke="#111" stroke-width="1.4"/>
<line x1="460.65" x2="464.35" y1="654.19" y2="654.19" stroke="#111" stroke-width="1.5"/>
<circle cx="462.5" cy="663.37" r="0.6" fill="#111"/>
<path d="M468.5 648.23V650.48M468.5 654.19V656.61" stroke="#333" stroke-width="1.35"/>
<rect x="466.65" y="650.48" width="3.7" height="3.7" fill="#D53E4F" stroke="#111" stroke-width="1.4"/>
<line x1="466.65" x2="470.35" y1="652.58" y2="652.58" stroke="#111" stroke-width="1.5"/>
<circle cx="468.5" cy="660.15" r="0.6" fill="#111"/>
<path d="M473.5 646.94V649.36M473.5 652.58V654.99" stroke="#333" stroke-width="1.35"/>
<rect x="471.65" y="649.36" width="3.7" height="3.22" fill="#F46D43" stroke="#111" stroke-width="1.4"/>
<line x1="471.65" x2="475.35" y1="650.97" y2="650.97" stroke="#111" stroke-width="1.5"/>
<circle cx="473.5" cy="659.02" r="0.6" fill="#111"/>
<path d="M479.5 646.62V648.55M479.5 651.77V654.19" stroke="#333" stroke-width="1.35"/>
<rect x="477.65" y="648.55" width="3.7" height="3.22" fill="#FDAE61" stroke="#111" stroke-width="1.4"/>
<line x1="477.65" x2="481.35" y1="650.16" y2="650.16" stroke="#111" stroke-width="1.5"/>
<circle cx="479.5" cy="657.89" r="0.6" fill="#111"/>
<path d="M484.5 646.14V647.75M484.5 651.45V653.71" stroke="#333" stroke-width="1.35"/>
<rect x="482.65" y="647.75" width="3.7" height="3.7" fill="#FEE08B" stroke="#111" stroke-width="1.4"/>
<line x1="482.65" x2="486.35" y1="649.84" y2="649.84" stroke="#111" stroke-width="1.5"/>
<circle cx="484.5" cy="656.28" r="0.6" fill="#111"/>
<path d="M490.5 645.01V646.14M490.5 649.36V653.06" stroke="#333" stroke-width="1.35"/>
<rect x="488.65" y="646.14" width="3.7" height="3.22" fill="#FFFFBF" stroke="#111" stroke-width="1.4"/>
<line x1="488.65" x2="492.35" y1="647.75" y2="647.75" stroke="#111" stroke-width="1.5"/>
<path d="M495.5 643.72V644.52M495.5 647.75V649.84" stroke="#333" stroke-width="1.35"/>
<rect x="493.65" y="644.52" width="3.7" height="3.22" fill="#E6F598" stroke="#111" stroke-width="1.4"/>
<line x1="493.65" x2="497.35" y1="646.14" y2="646.14" stroke="#111" stroke-width="1.5"/>
<path d="M501.5 642.11V642.91M501.5 646.14V647.75" stroke="#333" stroke-width="1.35"/>
<rect x="499.65" y="642.91" width="3.7" height="3.22" fill="#ABDDA4" stroke="#111" stroke-width="1.4"/>
<line x1="499.65" x2="503.35" y1="644.04" y2="644.04" stroke="#111" stroke-width="1.5"/>
<path d="M506.5 640.82V641.79M506.5 644.52V646.14" stroke="#333" stroke-width="1.35"/>
<rect x="504.65" y="641.79" width="3.7" height="2.74" fill="#66C2A5" stroke="#111" stroke-width="1.4"/>
<line x1="504.65" x2="508.35" y1="642.91" y2="642.91" stroke="#111" stroke-width="1.5"/>
<path d="M512.5 640.18V641.3M512.5 645.01V646.94" stroke="#333" stroke-width="1.35"/>
<rect x="510.65" y="641.3" width="3.7" height="3.7" fill="#3288BD" stroke="#111" stroke-width="1.4"/>
<line x1="510.65" x2="514.35" y1="642.91" y2="642.91" stroke="#111" stroke-width="1.5"/>
<path d="M517.5 641.79V642.91M517.5 646.14V648.55" stroke="#333" stroke-width="1.35"/>
<rect x="515.65" y="642.91" width="3.7" height="3.22" fill="#5E4FA2" stroke="#111" stroke-width="1.4"/>
<line x1="515.65" x2="519.35" y1="644.04" y2="644.04" stroke="#111" stroke-width="1.5"/>
<rect x="453.5" y="626.6" width="73" height="129" fill="none" stroke="#2B2B2B" stroke-width="1.6"/>
<rect x="531.5" y="626.6" width="72" height="129" fill="#fff"/>
<line x1="531.5" x2="603.5" y1="637.3" y2="637.3" stroke="#E8E8E8" stroke-width="1.25"/>
<line x1="531.5" x2="603.5" y1="652.8" y2="652.8" stroke="#E8E8E8" stroke-width="1.25"/>
<line x1="531.5" x2="603.5" y1="668.3" y2="668.3" stroke="#E8E8E8" stroke-width="1.25"/>
<line x1="531.5" x2="603.5" y1="683.8" y2="683.8" stroke="#E8E8E8" stroke-width="1.25"/>
<line x1="531.5" x2="603.5" y1="699.3" y2="699.3" stroke="#E8E8E8" stroke-width="1.25"/>
<line x1="531.5" x2="603.5" y1="714.8" y2="714.8" stroke="#E8E8E8" stroke-width="1.25"/>
<line x1="531.5" x2="603.5" y1="730.3" y2="730.3" stroke="#E8E8E8" stroke-width="1.25"/>
<line x1="531.5" x2="603.5" y1="745.8" y2="745.8" stroke="#E8E8E8" stroke-width="1.25"/>
<line x1="567.5" x2="567.5" y1="626.6" y2="755.6" stroke="#E8E8E8" stroke-width="1.25"/>
<path d="M540.5 669.81V683.18M540.5 698.49V707.35" stroke="#333" stroke-width="1.35"/>
<rect x="538.65" y="683.18" width="3.7" height="15.3" fill="#9E0142" stroke="#111" stroke-width="1.4"/>
<line x1="538.65" x2="542.35" y1="690.43" y2="690.43" stroke="#111" stroke-width="1.5"/>
<path d="M545.5 667.56V676.74M545.5 686.41V696.88" stroke="#333" stroke-width="1.35"/>
<rect x="543.65" y="676.74" width="3.7" height="9.66" fill="#D53E4F" stroke="#111" stroke-width="1.4"/>
<line x1="543.65" x2="547.35" y1="680.77" y2="680.77" stroke="#111" stroke-width="1.5"/>
<path d="M551.5 658.22V665.47M551.5 674.32V682.7" stroke="#333" stroke-width="1.35"/>
<rect x="549.65" y="665.47" width="3.7" height="8.86" fill="#F46D43" stroke="#111" stroke-width="1.4"/>
<line x1="549.65" x2="553.35" y1="669.17" y2="669.17" stroke="#111" stroke-width="1.5"/>
<path d="M556.5 650.97V659.02M556.5 665.95V674" stroke="#333" stroke-width="1.35"/>
<rect x="554.65" y="659.02" width="3.7" height="6.93" fill="#FDAE61" stroke="#111" stroke-width="1.4"/>
<line x1="554.65" x2="558.35" y1="662.24" y2="662.24" stroke="#111" stroke-width="1.5"/>
<path d="M562.5 647.26V655.32M562.5 662.24V667.56" stroke="#333" stroke-width="1.35"/>
<rect x="560.65" y="655.32" width="3.7" height="6.93" fill="#FEE08B" stroke="#111" stroke-width="1.4"/>
<line x1="560.65" x2="564.35" y1="659.02" y2="659.02" stroke="#111" stroke-width="1.5"/>
<path d="M567.5 646.14V652.1M567.5 657.89V663.85" stroke="#333" stroke-width="1.35"/>
<rect x="565.65" y="652.1" width="3.7" height="5.8" fill="#FFFFBF" stroke="#111" stroke-width="1.4"/>
<line x1="565.65" x2="569.35" y1="654.99" y2="654.99" stroke="#111" stroke-width="1.5"/>
<path d="M573.5 645.01V649.36M573.5 654.99V659.51" stroke="#333" stroke-width="1.35"/>
<rect x="571.65" y="649.36" width="3.7" height="5.64" fill="#E6F598" stroke="#111" stroke-width="1.4"/>
<line x1="571.65" x2="575.35" y1="651.77" y2="651.77" stroke="#111" stroke-width="1.5"/>
<circle cx="573.5" cy="664.34" r="0.6" fill="#111"/>
<path d="M578.5 644.04V646.94M578.5 653.06V659.02" stroke="#333" stroke-width="1.35"/>
<rect x="576.65" y="646.94" width="3.7" height="6.12" fill="#ABDDA4" stroke="#111" stroke-width="1.4"/>
<line x1="576.65" x2="580.35" y1="649.84" y2="649.84" stroke="#111" stroke-width="1.5"/>
<circle cx="578.5" cy="664.34" r="0.6" fill="#111"/>
<path d="M584.5 643.4V645.33M584.5 652.1V659.83" stroke="#333" stroke-width="1.35"/>
<rect x="582.65" y="645.33" width="3.7" height="6.77" fill="#66C2A5" stroke="#111" stroke-width="1.4"/>
<line x1="582.65" x2="586.35" y1="648.55" y2="648.55" stroke="#111" stroke-width="1.5"/>
<circle cx="584.5" cy="664.34" r="0.6" fill="#111"/>
<path d="M589.5 642.11V645.01M589.5 652.1V660.63" stroke="#333" stroke-width="1.35"/>
<rect x="587.65" y="645.01" width="3.7" height="7.09" fill="#3288BD" stroke="#111" stroke-width="1.4"/>
<line x1="587.65" x2="591.35" y1="648.55" y2="648.55" stroke="#111" stroke-width="1.5"/>
<circle cx="589.5" cy="663.85" r="0.6" fill="#111"/>
<path d="M595.5 641.79V644.04M595.5 651.77V661.76" stroke="#333" stroke-width="1.35"/>
<rect x="593.65" y="644.04" width="3.7" height="7.73" fill="#5E4FA2" stroke="#111" stroke-width="1.4"/>
<line x1="593.65" x2="597.35" y1="647.75" y2="647.75" stroke="#111" stroke-width="1.5"/>
<rect x="531.5" y="626.6" width="72" height="129" fill="none" stroke="#2B2B2B" stroke-width="1.6"/>
<rect x="608.5" y="626.6" width="73" height="129" fill="#fff"/>
<line x1="608.5" x2="681.5" y1="637.3" y2="637.3" stroke="#E8E8E8" stroke-width="1.25"/>
<line x1="608.5" x2="681.5" y1="652.8" y2="652.8" stroke="#E8E8E8" stroke-width="1.25"/>
<line x1="608.5" x2="681.5" y1="668.3" y2="668.3" stroke="#E8E8E8" stroke-width="1.25"/>
<line x1="608.5" x2="681.5" y1="683.8" y2="683.8" stroke="#E8E8E8" stroke-width="1.25"/>
<line x1="608.5" x2="681.5" y1="699.3" y2="699.3" stroke="#E8E8E8" stroke-width="1.25"/>
<line x1="608.5" x2="681.5" y1="714.8" y2="714.8" stroke="#E8E8E8" stroke-width="1.25"/>
<line x1="608.5" x2="681.5" y1="730.3" y2="730.3" stroke="#E8E8E8" stroke-width="1.25"/>
<line x1="608.5" x2="681.5" y1="745.8" y2="745.8" stroke="#E8E8E8" stroke-width="1.25"/>
<line x1="645" x2="645" y1="626.6" y2="755.6" stroke="#E8E8E8" stroke-width="1.25"/>
<path d="M617.5 654.67V655.32M617.5 657.41V658.22" stroke="#333" stroke-width="1.35"/>
<rect x="615.65" y="655.32" width="3.7" height="2.09" fill="#9E0142" stroke="#111" stroke-width="1.4"/>
<line x1="615.65" x2="619.35" y1="656.28" y2="656.28" stroke="#111" stroke-width="1.5"/>
<circle cx="617.5" cy="663.37" r="0.6" fill="#111"/>
<circle cx="617.5" cy="667.56" r="0.6" fill="#111"/>
<path d="M623.5 651.13V651.77M623.5 653.71V654.35" stroke="#333" stroke-width="1.35"/>
<rect x="621.65" y="651.77" width="3.7" height="1.93" fill="#D53E4F" stroke="#111" stroke-width="1.4"/>
<line x1="621.65" x2="625.35" y1="652.58" y2="652.58" stroke="#111" stroke-width="1.5"/>
<circle cx="623.5" cy="659.83" r="0.6" fill="#111"/>
<circle cx="623.5" cy="663.85" r="0.6" fill="#111"/>
<path d="M628.5 647.91V648.55M628.5 650.48V651.13" stroke="#333" stroke-width="1.35"/>
<rect x="626.65" y="648.55" width="3.7" height="1.93" fill="#F46D43" stroke="#111" stroke-width="1.4"/>
<line x1="626.65" x2="630.35" y1="649.36" y2="649.36" stroke="#111" stroke-width="1.5"/>
<circle cx="628.5" cy="655.8" r="0.6" fill="#111"/>
<circle cx="628.5" cy="659.02" r="0.6" fill="#111"/>
<path d="M634.5 645.97V646.62M634.5 648.23V648.87" stroke="#333" stroke-width="1.35"/>
<rect x="632.65" y="646.62" width="3.7" height="1.61" fill="#FDAE61" stroke="#111" stroke-width="1.4"/>
<line x1="632.65" x2="636.35" y1="647.26" y2="647.26" stroke="#111" stroke-width="1.5"/>
<circle cx="634.5" cy="653.38" r="0.6" fill="#111"/>
<circle cx="634.5" cy="655.8" r="0.6" fill="#111"/>
<path d="M639.5 644.36V645.01M639.5 646.62V647.26" stroke="#333" stroke-width="1.35"/>
<rect x="637.65" y="645.01" width="3.7" height="1.61" fill="#FEE08B" stroke="#111" stroke-width="1.4"/>
<line x1="637.65" x2="641.35" y1="645.65" y2="645.65" stroke="#111" stroke-width="1.5"/>
<circle cx="639.5" cy="650.97" r="0.6" fill="#111"/>
<circle cx="639.5" cy="653.38" r="0.6" fill="#111"/>
<path d="M645.5 642.27V642.91M645.5 644.52V645.17" stroke="#333" stroke-width="1.35"/>
<rect x="643.65" y="642.91" width="3.7" height="1.61" fill="#FFFFBF" stroke="#111" stroke-width="1.4"/>
<line x1="643.65" x2="647.35" y1="643.4" y2="643.4" stroke="#111" stroke-width="1.5"/>
<circle cx="645.5" cy="648.55" r="0.6" fill="#111"/>
<circle cx="645.5" cy="650.97" r="0.6" fill="#111"/>
<path d="M650.5 640.66V641.3M650.5 642.91V643.56" stroke="#333" stroke-width="1.35"/>
<rect x="648.65" y="641.3" width="3.7" height="1.61" fill="#E6F598" stroke="#111" stroke-width="1.4"/>
<line x1="648.65" x2="652.35" y1="641.79" y2="641.79" stroke="#111" stroke-width="1.5"/>
<circle cx="650.5" cy="646.62" r="0.6" fill="#111"/>
<circle cx="650.5" cy="649.36" r="0.6" fill="#111"/>
<path d="M656.5 639.05V639.69M656.5 641.3V641.95" stroke="#333" stroke-width="1.35"/>
<rect x="654.65" y="639.69" width="3.7" height="1.61" fill="#ABDDA4" stroke="#111" stroke-width="1.4"/>
<line x1="654.65" x2="658.35" y1="640.18" y2="640.18" stroke="#111" stroke-width="1.5"/>
<circle cx="656.5" cy="644.52" r="0.6" fill="#111"/>
<circle cx="656.5" cy="646.62" r="0.6" fill="#111"/>
<path d="M661.5 637.28V638.08M661.5 640.18V642.11" stroke="#333" stroke-width="1.35"/>
<rect x="659.65" y="638.08" width="3.7" height="2.09" fill="#66C2A5" stroke="#111" stroke-width="1.4"/>
<line x1="659.65" x2="663.35" y1="638.89" y2="638.89" stroke="#111" stroke-width="1.5"/>
<circle cx="661.5" cy="645.65" r="0.6" fill="#111"/>
<path d="M667.5 635.66V636.47M667.5 638.89V639.69" stroke="#333" stroke-width="1.35"/>
<rect x="665.65" y="636.47" width="3.7" height="2.42" fill="#3288BD" stroke="#111" stroke-width="1.4"/>
<line x1="665.65" x2="669.35" y1="637.6" y2="637.6" stroke="#111" stroke-width="1.5"/>
<circle cx="667.5" cy="644.04" r="0.6" fill="#111"/>
<path d="M672.5 634.86V635.66M672.5 638.08V638.89" stroke="#333" stroke-width="1.35"/>
<rect x="670.65" y="635.66" width="3.7" height="2.42" fill="#5E4FA2" stroke="#111" stroke-width="1.4"/>
<line x1="670.65" x2="674.35" y1="636.47" y2="636.47" stroke="#111" stroke-width="1.5"/>
<circle cx="672.5" cy="644.04" r="0.6" fill="#111"/>
<rect x="608.5" y="626.6" width="73" height="129" fill="none" stroke="#2B2B2B" stroke-width="1.6"/>
<rect x="685.5" y="626.6" width="73" height="129" fill="#fff"/>
<line x1="685.5" x2="758.5" y1="637.3" y2="637.3" stroke="#E8E8E8" stroke-width="1.25"/>
<line x1="685.5" x2="758.5" y1="652.8" y2="652.8" stroke="#E8E8E8" stroke-width="1.25"/>
<line x1="685.5" x2="758.5" y1="668.3" y2="668.3" stroke="#E8E8E8" stroke-width="1.25"/>
<line x1="685.5" x2="758.5" y1="683.8" y2="683.8" stroke="#E8E8E8" stroke-width="1.25"/>
<line x1="685.5" x2="758.5" y1="699.3" y2="699.3" stroke="#E8E8E8" stroke-width="1.25"/>
<line x1="685.5" x2="758.5" y1="714.8" y2="714.8" stroke="#E8E8E8" stroke-width="1.25"/>
<line x1="685.5" x2="758.5" y1="730.3" y2="730.3" stroke="#E8E8E8" stroke-width="1.25"/>
<line x1="685.5" x2="758.5" y1="745.8" y2="745.8" stroke="#E8E8E8" stroke-width="1.25"/>
<line x1="722" x2="722" y1="626.6" y2="755.6" stroke="#E8E8E8" stroke-width="1.25"/>
<path d="M694.5 648.23V648.87M694.5 652.58V653.06" stroke="#333" stroke-width="1.35"/>
<rect x="692.65" y="648.87" width="3.7" height="3.7" fill="#9E0142" stroke="#111" stroke-width="1.4"/>
<line x1="692.65" x2="696.35" y1="650.48" y2="650.48" stroke="#111" stroke-width="1.5"/>
<circle cx="694.5" cy="658.22" r="0.6" fill="#111"/>
<circle cx="694.5" cy="660.15" r="0.6" fill="#111"/>
<path d="M700.5 645.33V646.62M700.5 650.16V650.97" stroke="#333" stroke-width="1.35"/>
<rect x="698.65" y="646.62" width="3.7" height="3.54" fill="#D53E4F" stroke="#111" stroke-width="1.4"/>
<line x1="698.65" x2="702.35" y1="648.23" y2="648.23" stroke="#111" stroke-width="1.5"/>
<circle cx="700.5" cy="654.99" r="0.6" fill="#111"/>
<circle cx="700.5" cy="657.41" r="0.6" fill="#111"/>
<path d="M705.5 643.4V644.52M705.5 647.75V650.16" stroke="#333" stroke-width="1.35"/>
<rect x="703.65" y="644.52" width="3.7" height="3.22" fill="#F46D43" stroke="#111" stroke-width="1.4"/>
<line x1="703.65" x2="707.35" y1="645.65" y2="645.65" stroke="#111" stroke-width="1.5"/>
<circle cx="705.5" cy="653.71" r="0.6" fill="#111"/>
<path d="M711.5 641.79V642.91M711.5 646.14V648.23" stroke="#333" stroke-width="1.35"/>
<rect x="709.65" y="642.91" width="3.7" height="3.22" fill="#FDAE61" stroke="#111" stroke-width="1.4"/>
<line x1="709.65" x2="713.35" y1="644.04" y2="644.04" stroke="#111" stroke-width="1.5"/>
<circle cx="711.5" cy="651.45" r="0.6" fill="#111"/>
<path d="M716.5 640.5V641.3M716.5 644.52V646.62" stroke="#333" stroke-width="1.35"/>
<rect x="714.65" y="641.3" width="3.7" height="3.22" fill="#FEE08B" stroke="#111" stroke-width="1.4"/>
<line x1="714.65" x2="718.35" y1="642.43" y2="642.43" stroke="#111" stroke-width="1.5"/>
<circle cx="716.5" cy="649.84" r="0.6" fill="#111"/>
<path d="M722.5 639.69V640.5M722.5 643.4V645.01" stroke="#333" stroke-width="1.35"/>
<rect x="720.65" y="640.5" width="3.7" height="2.9" fill="#FFFFBF" stroke="#111" stroke-width="1.4"/>
<line x1="720.65" x2="724.35" y1="641.79" y2="641.79" stroke="#111" stroke-width="1.5"/>
<circle cx="722.5" cy="647.75" r="0.6" fill="#111"/>
<path d="M727.5 638.89V639.69M727.5 642.11V642.91" stroke="#333" stroke-width="1.35"/>
<rect x="725.65" y="639.69" width="3.7" height="2.42" fill="#E6F598" stroke="#111" stroke-width="1.4"/>
<line x1="725.65" x2="729.35" y1="640.5" y2="640.5" stroke="#111" stroke-width="1.5"/>
<circle cx="727.5" cy="646.14" r="0.6" fill="#111"/>
<path d="M733.5 637.6V638.56M733.5 640.82V641.79" stroke="#333" stroke-width="1.35"/>
<rect x="731.65" y="638.56" width="3.7" height="2.26" fill="#ABDDA4" stroke="#111" stroke-width="1.4"/>
<line x1="731.65" x2="735.35" y1="639.21" y2="639.21" stroke="#111" stroke-width="1.5"/>
<circle cx="733.5" cy="644.04" r="0.6" fill="#111"/>
<path d="M738.5 636.95V637.6M738.5 639.69V640.82" stroke="#333" stroke-width="1.35"/>
<rect x="736.65" y="637.6" width="3.7" height="2.09" fill="#66C2A5" stroke="#111" stroke-width="1.4"/>
<line x1="736.65" x2="740.35" y1="638.56" y2="638.56" stroke="#111" stroke-width="1.5"/>
<circle cx="738.5" cy="642.43" r="0.6" fill="#111"/>
<path d="M744.5 635.66V636.47M744.5 638.89V640.5" stroke="#333" stroke-width="1.35"/>
<rect x="742.65" y="636.47" width="3.7" height="2.42" fill="#3288BD" stroke="#111" stroke-width="1.4"/>
<line x1="742.65" x2="746.35" y1="637.28" y2="637.28" stroke="#111" stroke-width="1.5"/>
<circle cx="744.5" cy="641.3" r="0.6" fill="#111"/>
<path d="M749.5 634.86V635.66M749.5 638.56V640.82" stroke="#333" stroke-width="1.35"/>
<rect x="747.65" y="635.66" width="3.7" height="2.9" fill="#5E4FA2" stroke="#111" stroke-width="1.4"/>
<line x1="747.65" x2="751.35" y1="636.47" y2="636.47" stroke="#111" stroke-width="1.5"/>
<circle cx="749.5" cy="641.79" r="0.6" fill="#111"/>
<rect x="685.5" y="626.6" width="73" height="129" fill="none" stroke="#2B2B2B" stroke-width="1.6"/>
<line x1="64.7" x2="67.5" y1="652.8" y2="652.8" stroke="#2B2B2B" stroke-width="1.1"/>
<text x="62.3" y="659" font-size="11.5" font-weight="normal" text-anchor="end" fill="#262626" >0.9</text>
<line x1="64.7" x2="67.5" y1="683.8" y2="683.8" stroke="#2B2B2B" stroke-width="1.1"/>
<text x="62.3" y="690" font-size="11.5" font-weight="normal" text-anchor="end" fill="#262626" >0.8</text>
<line x1="64.7" x2="67.5" y1="714.8" y2="714.8" stroke="#2B2B2B" stroke-width="1.1"/>
<text x="62.3" y="721" font-size="11.5" font-weight="normal" text-anchor="end" fill="#262626" >0.7</text>
<line x1="64.7" x2="67.5" y1="745.8" y2="745.8" stroke="#2B2B2B" stroke-width="1.1"/>
<text x="62.3" y="752" font-size="11.5" font-weight="normal" text-anchor="end" fill="#262626" >0.6</text>
<line x1="76" x2="76" y1="755.6" y2="758" stroke="#2B2B2B" stroke-width="1.1"/>
<text x="76" y="768.9" font-size="8.2" font-weight="normal" text-anchor="middle" fill="#111" >1×</text>
<line x1="103.5" x2="103.5" y1="755.6" y2="758" stroke="#2B2B2B" stroke-width="1.1"/>
<text x="103.5" y="768.9" font-size="8.2" font-weight="normal" text-anchor="middle" fill="#111" >10×</text>
<line x1="131" x2="131" y1="755.6" y2="758" stroke="#2B2B2B" stroke-width="1.1"/>
<text x="131" y="768.9" font-size="8.2" font-weight="normal" text-anchor="middle" fill="#111" >20×</text>
<line x1="153" x2="153" y1="755.6" y2="758" stroke="#2B2B2B" stroke-width="1.1"/>
<text x="153" y="768.9" font-size="8.2" font-weight="normal" text-anchor="middle" fill="#111" >1×</text>
<line x1="180.5" x2="180.5" y1="755.6" y2="758" stroke="#2B2B2B" stroke-width="1.1"/>
<text x="180.5" y="768.9" font-size="8.2" font-weight="normal" text-anchor="middle" fill="#111" >10×</text>
<line x1="208" x2="208" y1="755.6" y2="758" stroke="#2B2B2B" stroke-width="1.1"/>
<text x="208" y="768.9" font-size="8.2" font-weight="normal" text-anchor="middle" fill="#111" >20×</text>
<line x1="230.5" x2="230.5" y1="755.6" y2="758" stroke="#2B2B2B" stroke-width="1.1"/>
<text x="230.5" y="768.9" font-size="8.2" font-weight="normal" text-anchor="middle" fill="#111" >1×</text>
<line x1="258" x2="258" y1="755.6" y2="758" stroke="#2B2B2B" stroke-width="1.1"/>
<text x="258" y="768.9" font-size="8.2" font-weight="normal" text-anchor="middle" fill="#111" >10×</text>
<line x1="285.5" x2="285.5" y1="755.6" y2="758" stroke="#2B2B2B" stroke-width="1.1"/>
<text x="285.5" y="768.9" font-size="8.2" font-weight="normal" text-anchor="middle" fill="#111" >20×</text>
<line x1="308" x2="308" y1="755.6" y2="758" stroke="#2B2B2B" stroke-width="1.1"/>
<text x="308" y="768.9" font-size="8.2" font-weight="normal" text-anchor="middle" fill="#111" >1×</text>
<line x1="335.5" x2="335.5" y1="755.6" y2="758" stroke="#2B2B2B" stroke-width="1.1"/>
<text x="335.5" y="768.9" font-size="8.2" font-weight="normal" text-anchor="middle" fill="#111" >10×</text>
<line x1="363" x2="363" y1="755.6" y2="758" stroke="#2B2B2B" stroke-width="1.1"/>
<text x="363" y="768.9" font-size="8.2" font-weight="normal" text-anchor="middle" fill="#111" >20×</text>
<line x1="385" x2="385" y1="755.6" y2="758" stroke="#2B2B2B" stroke-width="1.1"/>
<text x="385" y="768.9" font-size="8.2" font-weight="normal" text-anchor="middle" fill="#111" >1×</text>
<line x1="412.5" x2="412.5" y1="755.6" y2="758" stroke="#2B2B2B" stroke-width="1.1"/>
<text x="412.5" y="768.9" font-size="8.2" font-weight="normal" text-anchor="middle" fill="#111" >10×</text>
<line x1="440" x2="440" y1="755.6" y2="758" stroke="#2B2B2B" stroke-width="1.1"/>
<text x="440" y="768.9" font-size="8.2" font-weight="normal" text-anchor="middle" fill="#111" >20×</text>
<line x1="462.5" x2="462.5" y1="755.6" y2="758" stroke="#2B2B2B" stroke-width="1.1"/>
<text x="462.5" y="768.9" font-size="8.2" font-weight="normal" text-anchor="middle" fill="#111" >1×</text>
<line x1="490" x2="490" y1="755.6" y2="758" stroke="#2B2B2B" stroke-width="1.1"/>
<text x="490" y="768.9" font-size="8.2" font-weight="normal" text-anchor="middle" fill="#111" >10×</text>
<line x1="517.5" x2="517.5" y1="755.6" y2="758" stroke="#2B2B2B" stroke-width="1.1"/>
<text x="517.5" y="768.9" font-size="8.2" font-weight="normal" text-anchor="middle" fill="#111" >20×</text>
<line x1="540" x2="540" y1="755.6" y2="758" stroke="#2B2B2B" stroke-width="1.1"/>
<text x="540" y="768.9" font-size="8.2" font-weight="normal" text-anchor="middle" fill="#111" >1×</text>
<line x1="567.5" x2="567.5" y1="755.6" y2="758" stroke="#2B2B2B" stroke-width="1.1"/>
<text x="567.5" y="768.9" font-size="8.2" font-weight="normal" text-anchor="middle" fill="#111" >10×</text>
<line x1="595" x2="595" y1="755.6" y2="758" stroke="#2B2B2B" stroke-width="1.1"/>
<text x="595" y="768.9" font-size="8.2" font-weight="normal" text-anchor="middle" fill="#111" >20×</text>
<line x1="617.5" x2="617.5" y1="755.6" y2="758" stroke="#2B2B2B" stroke-width="1.1"/>
<text x="617.5" y="768.9" font-size="8.2" font-weight="normal" text-anchor="middle" fill="#111" >1×</text>
<line x1="645" x2="645" y1="755.6" y2="758" stroke="#2B2B2B" stroke-width="1.1"/>
<text x="645" y="768.9" font-size="8.2" font-weight="normal" text-anchor="middle" fill="#111" >10×</text>
<line x1="672.5" x2="672.5" y1="755.6" y2="758" stroke="#2B2B2B" stroke-width="1.1"/>
<text x="672.5" y="768.9" font-size="8.2" font-weight="normal" text-anchor="middle" fill="#111" >20×</text>
<line x1="694.5" x2="694.5" y1="755.6" y2="758" stroke="#2B2B2B" stroke-width="1.1"/>
<text x="694.5" y="768.9" font-size="8.2" font-weight="normal" text-anchor="middle" fill="#111" >1×</text>
<line x1="722" x2="722" y1="755.6" y2="758" stroke="#2B2B2B" stroke-width="1.1"/>
<text x="722" y="768.9" font-size="8.2" font-weight="normal" text-anchor="middle" fill="#111" >10×</text>
<line x1="749.5" x2="749.5" y1="755.6" y2="758" stroke="#2B2B2B" stroke-width="1.1"/>
<text x="749.5" y="768.9" font-size="8.2" font-weight="normal" text-anchor="middle" fill="#111" >20×</text>
<text transform="translate(768.4,417.1) rotate(90)" font-size="11.3" text-anchor="middle" fill="#1a1a1a">Absolute strand bias (%)</text>
<text transform="translate(768.4,553.05) rotate(90)" font-size="11.3" text-anchor="middle" fill="#1a1a1a">Jaccard</text>
<text transform="translate(768.4,691.6) rotate(90)" font-size="11.3" text-anchor="middle" fill="#1a1a1a">PCC</text>
<rect x="65.5" y="315.9" width="305" height="16.9" fill="#FDEBDE" stroke="#000" stroke-width="1.3"/>
<text x="218" y="328.4" font-size="11" font-weight="bold" text-anchor="middle" fill="#3A3E5C" >WGBS</text>
<rect x="375.5" y="315.9" width="227" height="16.9" fill="#ACC4EA" stroke="#000" stroke-width="1.3"/>
<text x="489" y="328.4" font-size="11" font-weight="bold" text-anchor="middle" fill="#3A3E5C" >EMseq</text>
<rect x="607.5" y="315.9" width="150" height="16.9" fill="#3A3E5C" stroke="#000" stroke-width="1.3"/>
<text x="682.5" y="328.4" font-size="11" font-weight="bold" text-anchor="middle" fill="#FCEADD" >TAPS</text>
<rect x="65.5" y="332.8" width="73" height="17.1" fill="#FDEBDE" stroke="#000" stroke-width="1.3"/>
<text x="102.5" y="344.4" font-size="11" font-weight="bold" text-anchor="middle" fill="#3A3E5C" >A1</text>
<rect x="143.5" y="332.8" width="72" height="17.1" fill="#FDEBDE" stroke="#000" stroke-width="1.3"/>
<text x="180.55" y="344.4" font-size="11" font-weight="bold" text-anchor="middle" fill="#3A3E5C" >A2</text>
<rect x="220.5" y="332.8" width="73" height="17.1" fill="#FDEBDE" stroke="#000" stroke-width="1.3"/>
<text x="258.55" y="344.4" font-size="11" font-weight="bold" text-anchor="middle" fill="#3A3E5C" >A3</text>
<rect x="297.5" y="332.8" width="73" height="17.1" fill="#FDEBDE" stroke="#000" stroke-width="1.3"/>
<text x="336.15" y="344.4" font-size="11" font-weight="bold" text-anchor="middle" fill="#3A3E5C" >A4</text>
<rect x="375.5" y="332.8" width="72" height="17.1" fill="#ACC4EA" stroke="#000" stroke-width="1.3"/>
<text x="414.6" y="344.4" font-size="11" font-weight="bold" text-anchor="middle" fill="#3A3E5C" >A5</text>
<rect x="452.5" y="332.8" width="73" height="17.1" fill="#ACC4EA" stroke="#000" stroke-width="1.3"/>
<text x="490.4" y="344.4" font-size="11" font-weight="bold" text-anchor="middle" fill="#3A3E5C" >A6</text>
<rect x="530.5" y="332.8" width="72" height="17.1" fill="#ACC4EA" stroke="#000" stroke-width="1.3"/>
<text x="567" y="344.4" font-size="11" font-weight="bold" text-anchor="middle" fill="#3A3E5C" >A7</text>
<rect x="607.5" y="332.8" width="72" height="17.1" fill="#3A3E5C" stroke="#000" stroke-width="1.3"/>
<text x="645.6" y="344.4" font-size="11" font-weight="bold" text-anchor="middle" fill="#FCEADD" >A8</text>
<rect x="684.5" y="332.8" width="73" height="17.1" fill="#3A3E5C" stroke="#000" stroke-width="1.3"/>
<text x="722.1" y="344.4" font-size="11" font-weight="bold" text-anchor="middle" fill="#FCEADD" >A9</text>
<text x="76" y="804.3" font-size="11.4" font-weight="bold" text-anchor="start" fill="#000" >Cytosine depth cutoff</text>
<line x1="217.4" x2="217.4" y1="793.6" y2="808" stroke="#222" stroke-width="1"/>
<rect x="211" y="796.2" width="12.8" height="8.4" fill="#9E0142" stroke="#111" stroke-width="1"/>
<line x1="211" x2="223.8" y1="800.4" y2="800.4" stroke="#111" stroke-width="1.3"/>
<text x="229.3" y="804.3" font-size="9" font-weight="bold" text-anchor="start" fill="#111" >1×</text>
<line x1="265.5" x2="265.5" y1="793.6" y2="808" stroke="#222" stroke-width="1"/>
<rect x="259.1" y="796.2" width="12.8" height="8.4" fill="#D53E4F" stroke="#111" stroke-width="1"/>
<line x1="259.1" x2="271.9" y1="800.4" y2="800.4" stroke="#111" stroke-width="1.3"/>
<text x="277.4" y="804.3" font-size="9" font-weight="bold" text-anchor="start" fill="#111" >2×</text>
<line x1="314.4" x2="314.4" y1="793.6" y2="808" stroke="#222" stroke-width="1"/>
<rect x="308" y="796.2" width="12.8" height="8.4" fill="#F46D43" stroke="#111" stroke-width="1"/>
<line x1="308" x2="320.8" y1="800.4" y2="800.4" stroke="#111" stroke-width="1.3"/>
<text x="326.3" y="804.3" font-size="9" font-weight="bold" text-anchor="start" fill="#111" >4×</text>
<line x1="362.5" x2="362.5" y1="793.6" y2="808" stroke="#222" stroke-width="1"/>
<rect x="356.1" y="796.2" width="12.8" height="8.4" fill="#FDAE61" stroke="#111" stroke-width="1"/>
<line x1="356.1" x2="368.9" y1="800.4" y2="800.4" stroke="#111" stroke-width="1.3"/>
<text x="374.4" y="804.3" font-size="9" font-weight="bold" text-anchor="start" fill="#111" >6×</text>
<line x1="411" x2="411" y1="793.6" y2="808" stroke="#222" stroke-width="1"/>
<rect x="404.6" y="796.2" width="12.8" height="8.4" fill="#FEE08B" stroke="#111" stroke-width="1"/>
<line x1="404.6" x2="417.4" y1="800.4" y2="800.4" stroke="#111" stroke-width="1.3"/>
<text x="422.9" y="804.3" font-size="9" font-weight="bold" text-anchor="start" fill="#111" >8×</text>
<line x1="459.7" x2="459.7" y1="793.6" y2="808" stroke="#222" stroke-width="1"/>
<rect x="453.3" y="796.2" width="12.8" height="8.4" fill="#FFFFBF" stroke="#111" stroke-width="1"/>
<line x1="453.3" x2="466.1" y1="800.4" y2="800.4" stroke="#111" stroke-width="1.3"/>
<text x="471.6" y="804.3" font-size="9" font-weight="bold" text-anchor="start" fill="#111" >10×</text>
<line x1="512.8" x2="512.8" y1="793.6" y2="808" stroke="#222" stroke-width="1"/>
<rect x="506.4" y="796.2" width="12.8" height="8.4" fill="#E6F598" stroke="#111" stroke-width="1"/>
<line x1="506.4" x2="519.2" y1="800.4" y2="800.4" stroke="#111" stroke-width="1.3"/>
<text x="524.7" y="804.3" font-size="9" font-weight="bold" text-anchor="start" fill="#111" >12×</text>
<line x1="565.3" x2="565.3" y1="793.6" y2="808" stroke="#222" stroke-width="1"/>
<rect x="558.9" y="796.2" width="12.8" height="8.4" fill="#ABDDA4" stroke="#111" stroke-width="1"/>
<line x1="558.9" x2="571.7" y1="800.4" y2="800.4" stroke="#111" stroke-width="1.3"/>
<text x="577.2" y="804.3" font-size="9" font-weight="bold" text-anchor="start" fill="#111" >14×</text>
<line x1="618.2" x2="618.2" y1="793.6" y2="808" stroke="#222" stroke-width="1"/>
<rect x="611.8" y="796.2" width="12.8" height="8.4" fill="#66C2A5" stroke="#111" stroke-width="1"/>
<line x1="611.8" x2="624.6" y1="800.4" y2="800.4" stroke="#111" stroke-width="1.3"/>
<text x="630.1" y="804.3" font-size="9" font-weight="bold" text-anchor="start" fill="#111" >16×</text>
<line x1="670.7" x2="670.7" y1="793.6" y2="808" stroke="#222" stroke-width="1"/>
<rect x="664.3" y="796.2" width="12.8" height="8.4" fill="#3288BD" stroke="#111" stroke-width="1"/>
<line x1="664.3" x2="677.1" y1="800.4" y2="800.4" stroke="#111" stroke-width="1.3"/>
<text x="682.6" y="804.3" font-size="9" font-weight="bold" text-anchor="start" fill="#111" >18×</text>
<line x1="724.5" x2="724.5" y1="793.6" y2="808" stroke="#222" stroke-width="1"/>
<rect x="718.1" y="796.2" width="12.8" height="8.4" fill="#5E4FA2" stroke="#111" stroke-width="1"/>
<line x1="718.1" x2="730.9" y1="800.4" y2="800.4" stroke="#111" stroke-width="1.3"/>
<text x="736.4" y="804.3" font-size="9" font-weight="bold" text-anchor="start" fill="#111" >20×</text>
</svg>
</body></html>
